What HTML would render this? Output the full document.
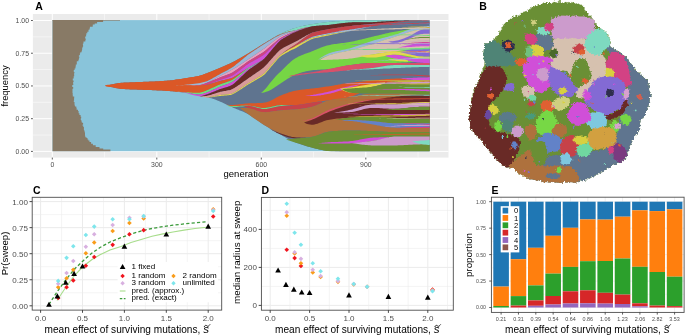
<!DOCTYPE html>
<html><head><meta charset="utf-8"><style>
html,body{margin:0;padding:0;background:#fff;}
svg{display:block;will-change:transform;}
text{font-family:"Liberation Sans", sans-serif;}
</style></head><body>
<svg width="685" height="335" viewBox="0 0 685 335">
<rect width="685" height="335" fill="#fff"/>
<rect x="32.90" y="14.00" width="415.60" height="143.60" fill="#EBEBEB"/>
<line x1="32.90" y1="135.04" x2="448.50" y2="135.04" stroke="#fff" stroke-width="0.5"/>
<line x1="32.90" y1="102.31" x2="448.50" y2="102.31" stroke="#fff" stroke-width="0.5"/>
<line x1="32.90" y1="69.59" x2="448.50" y2="69.59" stroke="#fff" stroke-width="0.5"/>
<line x1="32.90" y1="36.86" x2="448.50" y2="36.86" stroke="#fff" stroke-width="0.5"/>
<line x1="104.55" y1="14.00" x2="104.55" y2="157.60" stroke="#fff" stroke-width="0.5"/>
<line x1="209.05" y1="14.00" x2="209.05" y2="157.60" stroke="#fff" stroke-width="0.5"/>
<line x1="313.55" y1="14.00" x2="313.55" y2="157.60" stroke="#fff" stroke-width="0.5"/>
<line x1="418.05" y1="14.00" x2="418.05" y2="157.60" stroke="#fff" stroke-width="0.5"/>
<line x1="32.90" y1="151.40" x2="448.50" y2="151.40" stroke="#fff" stroke-width="1.0"/>
<line x1="32.90" y1="118.68" x2="448.50" y2="118.68" stroke="#fff" stroke-width="1.0"/>
<line x1="32.90" y1="85.95" x2="448.50" y2="85.95" stroke="#fff" stroke-width="1.0"/>
<line x1="32.90" y1="53.22" x2="448.50" y2="53.22" stroke="#fff" stroke-width="1.0"/>
<line x1="32.90" y1="20.50" x2="448.50" y2="20.50" stroke="#fff" stroke-width="1.0"/>
<line x1="52.30" y1="14.00" x2="52.30" y2="157.60" stroke="#fff" stroke-width="1.0"/>
<line x1="156.80" y1="14.00" x2="156.80" y2="157.60" stroke="#fff" stroke-width="1.0"/>
<line x1="261.30" y1="14.00" x2="261.30" y2="157.60" stroke="#fff" stroke-width="1.0"/>
<line x1="365.80" y1="14.00" x2="365.80" y2="157.60" stroke="#fff" stroke-width="1.0"/>
<clipPath id="aclip"><rect x="52.3" y="20.1" width="377.4" height="131.3"/></clipPath><g clip-path="url(#aclip)">
<rect x="52.30" y="20.10" width="377.40" height="131.30" fill="#89C4DA"/>
<path d="M52.3 20.1 L103.1 20.1 L103.1 22.0 L97.1 22.0 L97.1 23.5 L94.7 23.5 L94.7 24.4 L92.8 24.4 L92.8 25.8 L92.7 25.8 L92.7 26.7 L89.9 26.7 L89.9 28.4 L89.5 28.4 L89.5 29.8 L88.5 29.8 L88.5 31.8 L87.3 31.8 L87.3 33.2 L86.3 33.2 L86.3 34.9 L86.1 34.9 L86.1 36.5 L85.2 36.5 L85.2 38.5 L85.7 38.5 L85.7 40.3 L85.3 40.3 L85.3 41.4 L83.5 41.4 L83.5 43.4 L82.9 43.4 L82.9 45.2 L83.1 45.2 L83.1 46.7 L82.6 46.7 L82.6 47.8 L82.2 47.8 L82.2 49.7 L82.0 49.7 L82.0 50.8 L81.6 50.8 L81.6 52.2 L80.3 52.2 L80.3 53.3 L79.9 53.3 L79.9 55.2 L78.9 55.2 L78.9 56.7 L79.5 56.7 L79.5 57.6 L79.1 57.6 L79.1 58.5 L78.9 58.5 L78.9 59.8 L78.4 59.8 L78.4 61.2 L76.8 61.2 L76.8 62.7 L76.8 62.7 L76.8 64.6 L75.8 64.6 L75.8 66.3 L75.6 66.3 L75.6 67.4 L75.4 67.4 L75.4 68.4 L74.6 68.4 L74.6 70.1 L73.8 70.1 L73.8 72.0 L74.4 72.0 L74.4 73.3 L74.1 73.3 L74.1 74.7 L74.2 74.7 L74.2 76.3 L73.7 76.3 L73.7 78.5 L72.8 78.5 L72.8 80.5 L73.6 80.5 L73.6 82.3 L73.0 82.3 L73.0 83.6 L73.3 83.6 L73.3 85.1 L72.3 85.1 L72.3 86.3 L72.3 86.3 L72.3 87.1 L73.2 87.1 L73.2 88.8 L72.5 88.8 L72.5 90.9 L72.5 90.9 L72.5 93.1 L72.7 93.1 L72.7 95.0 L72.8 95.0 L72.8 96.4 L74.2 96.4 L74.2 98.4 L74.0 98.4 L74.0 99.4 L74.1 99.4 L74.1 100.6 L73.8 100.6 L73.8 102.1 L74.5 102.1 L74.5 104.2 L74.6 104.2 L74.6 105.6 L75.0 105.6 L75.0 106.4 L76.3 106.4 L76.3 107.7 L76.6 107.7 L76.6 109.7 L78.0 109.7 L78.0 111.1 L78.6 111.1 L78.6 113.2 L79.4 113.2 L79.4 115.1 L80.6 115.1 L80.6 116.7 L81.2 116.7 L81.2 118.2 L80.8 118.2 L80.8 120.0 L81.3 120.0 L81.3 120.8 L81.6 120.8 L81.6 121.9 L81.8 121.9 L81.8 122.8 L83.1 122.8 L83.1 124.4 L82.6 124.4 L82.6 125.7 L83.3 125.7 L83.3 127.1 L83.9 127.1 L83.9 129.0 L83.9 129.0 L83.9 130.3 L84.4 130.3 L84.4 131.6 L84.8 131.6 L84.8 132.7 L85.0 132.7 L85.0 134.2 L85.0 134.2 L85.0 135.8 L85.3 135.8 L85.3 137.3 L86.5 137.3 L86.5 138.1 L87.5 138.1 L87.5 139.6 L88.3 139.6 L88.3 140.4 L89.5 140.4 L89.5 141.9 L91.1 141.9 L91.1 143.7 L92.9 143.7 L92.9 145.3 L95.7 145.3 L95.7 147.0 L99.5 147.0 L99.5 148.6 L103.2 148.6 L103.2 149.6 L110.4 149.6 L110.4 151.4 L52.3 151.4Z" fill="#887A66"/>
<rect x="52.30" y="20.10" width="67.70" height="0.60" fill="#887A66"/>
<path d="M104.8 85.8 L106.3 85.5 L107.8 85.2 L109.3 84.9 L110.8 84.6 L112.3 84.3 L113.8 83.9 L115.3 83.6 L116.8 83.3 L118.3 83.1 L119.8 82.9 L121.3 82.8 L122.8 82.7 L124.3 82.6 L125.8 82.5 L127.3 82.4 L128.8 82.4 L130.3 82.3 L131.8 82.3 L133.3 82.2 L134.8 82.2 L136.3 82.1 L137.8 82.0 L139.3 82.0 L140.8 81.9 L142.3 81.9 L143.8 81.8 L145.3 81.8 L146.8 81.7 L148.3 81.7 L149.8 81.6 L151.3 81.6 L152.8 81.5 L154.3 81.4 L155.8 81.3 L157.3 81.3 L158.8 81.2 L160.3 81.1 L161.8 81.0 L163.3 80.9 L164.8 80.8 L166.3 80.7 L167.8 80.6 L169.3 80.4 L170.8 80.3 L172.3 80.2 L173.8 80.0 L175.3 79.8 L176.8 79.6 L178.3 79.4 L179.8 79.2 L181.3 78.9 L182.8 78.7 L184.3 78.4 L185.8 78.2 L187.3 78.0 L188.8 77.7 L190.3 77.5 L191.8 77.3 L193.3 77.0 L194.8 76.8 L196.3 76.5 L197.8 76.2 L199.3 75.8 L200.8 75.4 L202.3 74.9 L203.8 74.4 L205.3 73.8 L206.8 73.3 L208.3 72.6 L209.8 72.0 L211.3 71.4 L212.8 70.8 L214.3 70.2 L215.8 69.5 L217.3 68.9 L218.8 68.3 L220.3 67.7 L221.8 67.0 L223.3 66.4 L224.8 65.7 L226.3 65.1 L227.8 64.4 L229.3 63.7 L230.8 63.0 L232.3 62.3 L233.8 61.5 L235.3 60.8 L236.8 60.0 L238.3 59.1 L239.8 58.3 L241.3 57.4 L242.8 56.6 L244.3 55.7 L245.8 54.8 L247.3 53.9 L248.8 53.0 L250.3 52.1 L251.8 51.2 L253.3 50.2 L254.8 49.3 L256.3 48.3 L257.8 47.4 L259.3 46.4 L260.8 45.5 L262.3 44.6 L263.8 43.6 L265.3 42.7 L266.8 41.8 L268.3 40.8 L269.8 39.9 L271.3 39.0 L272.8 38.1 L274.3 37.2 L275.8 36.3 L277.3 35.5 L278.8 34.7 L280.3 33.9 L281.8 33.2 L283.3 32.5 L284.8 31.8 L286.3 31.1 L287.8 30.5 L289.3 29.9 L290.8 29.4 L292.3 28.8 L293.8 28.3 L295.3 27.9 L296.8 27.4 L298.3 27.0 L299.8 26.7 L301.3 26.3 L302.8 26.0 L304.3 25.6 L305.8 25.3 L307.3 25.0 L308.8 24.8 L310.3 24.5 L311.8 24.2 L313.3 24.0 L314.8 23.8 L316.3 23.5 L317.8 23.3 L319.3 23.1 L320.8 22.9 L322.3 22.7 L323.8 22.5 L325.3 22.3 L326.8 22.1 L328.3 22.0 L329.8 21.8 L331.3 21.7 L332.8 21.6 L334.3 21.5 L335.8 21.4 L337.3 21.3 L338.8 21.2 L340.3 21.1 L341.8 21.0 L343.3 20.9 L344.8 20.9 L346.3 20.8 L347.8 20.8 L349.3 20.7 L350.8 20.7 L352.3 20.7 L353.8 20.6 L355.3 20.6 L356.8 20.6 L358.3 20.6 L359.8 20.5 L361.3 20.5 L362.8 20.5 L364.3 20.5 L365.8 20.5 L367.3 20.5 L368.8 20.5 L370.3 20.5 L371.8 20.5 L373.3 20.5 L374.8 20.5 L376.3 20.5 L377.8 20.5 L379.3 20.5 L380.8 20.5 L382.3 20.5 L383.8 20.5 L385.3 20.5 L386.8 20.5 L388.3 20.5 L389.8 20.5 L391.3 20.5 L392.8 20.5 L394.3 20.5 L395.8 20.5 L397.3 20.5 L398.8 20.5 L400.3 20.5 L401.8 20.5 L403.3 20.5 L404.8 20.5 L406.3 20.5 L407.8 20.5 L409.3 20.5 L410.8 20.5 L412.3 20.5 L413.8 20.5 L415.3 20.5 L416.8 20.5 L418.3 20.5 L419.8 20.5 L421.3 20.5 L422.8 20.5 L424.3 20.5 L425.8 20.5 L427.3 20.5 L428.8 20.5 L430.3 20.5 L430.8 20.5 L430.8 151.4 L430.3 151.4 L428.8 151.4 L427.3 151.4 L425.8 151.4 L424.3 151.4 L422.8 151.4 L421.3 151.4 L419.8 151.4 L418.3 151.4 L416.8 151.4 L415.3 151.4 L413.8 151.4 L412.3 151.4 L410.8 151.4 L409.3 151.4 L407.8 151.4 L406.3 151.4 L404.8 151.4 L403.3 151.4 L401.8 151.4 L400.3 151.4 L398.8 151.4 L397.3 151.4 L395.8 151.4 L394.3 151.4 L392.8 151.4 L391.3 151.4 L389.8 151.4 L388.3 151.4 L386.8 151.4 L385.3 151.4 L383.8 151.4 L382.3 151.4 L380.8 151.4 L379.3 151.4 L377.8 151.4 L376.3 151.4 L374.8 151.4 L373.3 151.4 L371.8 151.4 L370.3 151.4 L368.8 151.4 L367.3 151.4 L365.8 151.4 L364.3 151.4 L362.8 151.4 L361.3 151.4 L359.8 151.4 L358.3 151.4 L356.8 151.4 L355.3 151.4 L353.8 151.4 L352.3 151.4 L350.8 151.4 L349.3 151.4 L347.8 151.4 L346.3 151.4 L344.8 151.4 L343.3 151.4 L341.8 151.4 L340.3 151.4 L338.8 151.4 L337.3 151.4 L335.8 151.4 L334.3 151.3 L332.8 151.3 L331.3 151.2 L329.8 151.1 L328.3 151.0 L326.8 150.8 L325.3 150.6 L323.8 150.3 L322.3 150.0 L320.8 149.7 L319.3 149.4 L317.8 149.1 L316.3 148.8 L314.8 148.4 L313.3 148.0 L311.8 147.6 L310.3 147.2 L308.8 146.8 L307.3 146.4 L305.8 146.0 L304.3 145.5 L302.8 145.0 L301.3 144.6 L299.8 144.0 L298.3 143.5 L296.8 142.9 L295.3 142.3 L293.8 141.7 L292.3 141.0 L290.8 140.2 L289.3 139.5 L287.8 138.7 L286.3 137.9 L284.8 137.0 L283.3 136.2 L281.8 135.3 L280.3 134.5 L278.8 133.6 L277.3 132.8 L275.8 131.9 L274.3 131.1 L272.8 130.2 L271.3 129.3 L269.8 128.4 L268.3 127.5 L266.8 126.6 L265.3 125.7 L263.8 124.7 L262.3 123.7 L260.8 122.7 L259.3 121.6 L257.8 120.5 L256.3 119.5 L254.8 118.4 L253.3 117.4 L251.8 116.4 L250.3 115.5 L248.8 114.6 L247.3 113.8 L245.8 113.0 L244.3 112.3 L242.8 111.6 L241.3 111.0 L239.8 110.4 L238.3 109.8 L236.8 109.2 L235.3 108.5 L233.8 107.9 L232.3 107.3 L230.8 106.6 L229.3 105.9 L227.8 105.2 L226.3 104.4 L224.8 103.7 L223.3 103.0 L221.8 102.3 L220.3 101.7 L218.8 101.0 L217.3 100.4 L215.8 99.8 L214.3 99.3 L212.8 98.8 L211.3 98.3 L209.8 97.9 L208.3 97.5 L206.8 97.2 L205.3 96.9 L203.8 96.6 L202.3 96.3 L200.8 96.0 L199.3 95.7 L197.8 95.4 L196.3 95.1 L194.8 94.7 L193.3 94.3 L191.8 94.0 L190.3 93.6 L188.8 93.3 L187.3 93.1 L185.8 92.8 L184.3 92.6 L182.8 92.4 L181.3 92.2 L179.8 92.0 L178.3 91.8 L176.8 91.7 L175.3 91.5 L173.8 91.4 L172.3 91.3 L170.8 91.2 L169.3 91.1 L167.8 91.0 L166.3 90.9 L164.8 90.8 L163.3 90.7 L161.8 90.6 L160.3 90.6 L158.8 90.5 L157.3 90.4 L155.8 90.3 L154.3 90.3 L152.8 90.2 L151.3 90.1 L149.8 90.1 L148.3 90.0 L146.8 90.0 L145.3 89.9 L143.8 89.9 L142.3 89.8 L140.8 89.8 L139.3 89.7 L137.8 89.7 L136.3 89.6 L134.8 89.5 L133.3 89.5 L131.8 89.4 L130.3 89.4 L128.8 89.3 L127.3 89.3 L125.8 89.2 L124.3 89.1 L122.8 89.0 L121.3 88.9 L119.8 88.8 L118.3 88.6 L116.8 88.3 L115.3 88.0 L113.8 87.7 L112.3 87.3 L110.8 86.9 L109.3 86.6 L107.8 86.3 L106.3 86.0 L104.8 85.8Z" fill="#5F748F"/>
<path d="M104.8 85.8 L106.3 85.0 L107.8 84.8 L109.3 84.7 L110.8 84.5 L112.3 84.2 L113.8 84.0 L115.3 83.7 L116.8 83.4 L118.3 83.1 L119.8 82.9 L121.3 82.8 L122.8 82.7 L124.3 82.6 L125.8 82.5 L127.3 82.4 L128.8 82.4 L130.3 82.3 L131.8 82.3 L133.3 82.2 L134.8 82.2 L136.3 82.1 L137.8 82.0 L139.3 82.0 L140.8 81.9 L142.3 81.9 L143.8 81.8 L145.3 81.8 L146.8 81.7 L148.3 81.7 L149.8 81.6 L151.3 81.6 L152.8 81.5 L154.3 81.4 L155.8 81.3 L157.3 81.3 L158.8 81.2 L160.3 81.1 L161.8 81.0 L163.3 80.9 L164.8 80.8 L166.3 80.7 L167.8 80.6 L169.3 80.4 L170.8 80.3 L172.3 80.2 L173.8 80.0 L175.3 79.8 L176.8 79.6 L178.3 79.4 L179.8 79.2 L181.3 78.9 L182.8 78.7 L184.3 78.4 L185.8 78.2 L187.3 78.0 L188.8 77.7 L190.3 77.5 L191.8 77.3 L193.3 77.1 L194.8 76.8 L196.3 76.5 L197.8 76.2 L199.3 75.8 L200.8 75.5 L202.3 75.0 L203.8 74.5 L205.3 73.8 L205.8 73.6 L205.8 94.0 L205.3 94.0 L203.8 94.0 L202.3 94.0 L200.8 94.0 L199.3 93.9 L197.8 93.9 L196.3 93.8 L194.8 93.6 L193.3 93.5 L191.8 93.3 L190.3 93.1 L188.8 93.0 L187.3 92.8 L185.8 92.6 L184.3 92.4 L182.8 92.3 L181.3 92.1 L179.8 92.0 L178.3 91.8 L176.8 91.7 L175.3 91.5 L173.8 91.4 L172.3 91.3 L170.8 91.2 L169.3 91.1 L167.8 91.0 L166.3 90.9 L164.8 90.8 L163.3 90.7 L161.8 90.6 L160.3 90.6 L158.8 90.5 L157.3 90.4 L155.8 90.3 L154.3 90.3 L152.8 90.2 L151.3 90.1 L149.8 90.1 L148.3 90.0 L146.8 90.0 L145.3 89.9 L143.8 89.9 L142.3 89.8 L140.8 89.8 L139.3 89.7 L137.8 89.7 L136.3 89.6 L134.8 89.5 L133.3 89.5 L131.8 89.4 L130.3 89.4 L128.8 89.3 L127.3 89.3 L125.8 89.2 L124.3 89.1 L122.8 89.0 L121.3 88.9 L119.8 88.8 L118.3 88.6 L116.8 88.3 L115.3 88.0 L113.8 87.6 L112.3 87.3 L110.8 87.1 L109.3 86.9 L107.8 86.7 L106.3 86.6 L104.8 85.8Z" fill="#DB5827"/>
<path d="M267.0 41.64 L268.0 41.02 L269.0 40.39 L270.0 39.77 L271.0 39.15 L272.0 38.53 L273.0 37.92 L274.0 37.32 L275.0 36.73 L276.0 36.16 L277.0 35.60 L278.0 35.05 L279.0 34.53 L280.0 34.02 L281.0 33.53 L282.0 33.05 L283.0 32.59 L284.0 32.13 L285.0 31.69 L286.0 31.25 L287.0 30.83 L288.0 30.42 L289.0 30.02 L290.0 29.63 L291.0 29.25 L292.0 28.90 L293.0 28.55 L294.0 28.23 L295.0 27.92 L296.0 27.63 L297.0 27.35 L298.0 27.09 L299.0 26.83 L300.0 26.59 L301.0 26.35 L302.0 26.12 L303.0 25.90 L304.0 25.69 L305.0 25.48 L306.0 25.28 L307.0 25.09 L308.0 24.90 L309.0 24.72 L310.0 24.55 L311.0 24.37 L312.0 24.21 L313.0 24.04 L314.0 23.88 L315.0 23.72 L316.0 23.56 L317.0 23.40 L318.0 23.25 L319.0 23.10 L320.0 22.96 L321.0 22.82 L322.0 22.68 L323.0 22.55 L324.0 22.42 L325.0 22.31 L326.0 22.19 L327.0 22.09 L328.0 21.99 L329.0 21.90 L330.0 21.81 L331.0 21.73 L332.0 21.65 L333.0 21.57 L334.0 21.50 L335.0 21.43 L336.0 21.36 L337.0 21.30 L338.0 21.23 L339.0 21.17 L340.0 21.11 L341.0 21.06 L342.0 21.00 L343.0 20.95 L344.0 20.91 L345.0 20.86 L346.0 20.83 L347.0 20.79 L348.0 20.76 L349.0 20.73 L350.0 20.70 L351.0 20.68 L352.0 20.66 L353.0 20.64 L354.0 20.62 L355.0 20.60 L356.0 20.59 L357.0 20.57 L358.0 20.56 L359.0 20.54 L360.0 20.53 L361.0 20.52 L362.0 20.51 L363.0 20.51 L364.0 20.50 L365.0 20.50 L366.0 20.50 L367.0 20.50 L368.0 20.50 L369.0 20.50 L370.0 20.50 L371.0 20.50 L372.0 20.50 L373.0 20.50 L374.0 20.50 L375.0 20.50 L376.0 20.50 L377.0 20.50 L378.0 20.50 L379.0 20.50 L380.0 20.50 L381.0 20.50 L382.0 20.50 L383.0 20.50 L384.0 20.50 L385.0 20.50 L386.0 20.50 L387.0 20.50 L388.0 20.50 L389.0 20.50 L390.0 20.50 L391.0 20.50 L392.0 20.50 L393.0 20.50 L394.0 20.50 L395.0 20.50 L396.0 20.50 L397.0 20.50 L398.0 20.50 L399.0 20.50 L400.0 20.50 L401.0 20.50 L402.0 20.50 L403.0 20.50 L404.0 20.50 L405.0 20.50 L406.0 20.50 L407.0 20.50 L407.5 20.50 L407.5 20.55 L407.0 20.56 L406.0 20.58 L405.0 20.60 L404.0 20.62 L403.0 20.64 L402.0 20.66 L401.0 20.68 L400.0 20.70 L399.0 20.72 L398.0 20.74 L397.0 20.76 L396.0 20.79 L395.0 20.82 L394.0 20.87 L393.0 20.92 L392.0 20.98 L391.0 21.04 L390.0 21.10 L389.0 21.17 L388.0 21.23 L387.0 21.29 L386.0 21.35 L385.0 21.41 L384.0 21.47 L383.0 21.53 L382.0 21.59 L381.0 21.65 L380.0 21.71 L379.0 21.77 L378.0 21.83 L377.0 21.90 L376.0 21.96 L375.0 22.02 L374.0 22.07 L373.0 22.13 L372.0 22.16 L371.0 22.19 L370.0 22.20 L369.0 22.20 L368.0 22.20 L367.0 22.20 L366.0 22.20 L365.0 22.20 L364.0 22.20 L363.0 22.21 L362.0 22.21 L361.0 22.22 L360.0 22.23 L359.0 22.24 L358.0 22.26 L357.0 22.27 L356.0 22.29 L355.0 22.30 L354.0 22.32 L353.0 22.34 L352.0 22.36 L351.0 22.40 L350.0 22.44 L349.0 22.51 L348.0 22.59 L347.0 22.68 L346.0 22.78 L345.0 22.88 L344.0 22.99 L343.0 23.10 L342.0 23.21 L341.0 23.33 L340.0 23.45 L339.0 23.57 L338.0 23.70 L337.0 23.82 L336.0 23.95 L335.0 24.09 L334.0 24.22 L333.0 24.36 L332.0 24.50 L331.0 24.64 L330.0 24.77 L329.0 24.90 L328.0 25.01 L327.0 25.10 L326.0 25.16 L325.0 25.22 L324.0 25.27 L323.0 25.34 L322.0 25.40 L321.0 25.48 L320.0 25.56 L319.0 25.64 L318.0 25.73 L317.0 25.82 L316.0 25.91 L315.0 26.01 L314.0 26.11 L313.0 26.22 L312.0 26.36 L311.0 26.53 L310.0 26.71 L309.0 26.92 L308.0 27.13 L307.0 27.35 L306.0 27.57 L305.0 27.80 L304.0 28.04 L303.0 28.28 L302.0 28.53 L301.0 28.79 L300.0 29.06 L299.0 29.34 L298.0 29.61 L297.0 29.88 L296.0 30.13 L295.0 30.34 L294.0 30.53 L293.0 30.72 L292.0 30.92 L291.0 31.14 L290.0 31.37 L289.0 31.61 L288.0 31.87 L287.0 32.14 L286.0 32.42 L285.0 32.71 L284.0 33.01 L283.0 33.32 L282.0 33.65 L281.0 34.00 L280.0 34.39 L279.0 34.84 L278.0 35.32 L277.0 35.84 L276.0 36.38 L275.0 36.94 L274.0 37.51 L273.0 38.09 L272.0 38.68 L271.0 39.28 L270.0 39.88 L269.0 40.49 L268.0 41.09 L267.0 41.70Z" fill="#7EDAC0"/>
<path d="M175.0 79.80 L176.0 79.72 L177.0 79.61 L178.0 79.47 L179.0 79.32 L180.0 79.16 L181.0 78.99 L182.0 78.82 L183.0 78.65 L184.0 78.48 L185.0 78.31 L186.0 78.15 L187.0 78.00 L188.0 77.85 L189.0 77.70 L190.0 77.56 L191.0 77.41 L192.0 77.26 L193.0 77.11 L194.0 76.95 L195.0 76.79 L196.0 76.61 L197.0 76.42 L198.0 76.21 L199.0 75.98 L200.0 75.73 L201.0 75.44 L202.0 75.11 L203.0 74.75 L204.0 74.37 L205.0 73.96 L206.0 73.55 L207.0 73.13 L208.0 72.72 L209.0 72.31 L210.0 71.90 L211.0 71.50 L212.0 71.10 L213.0 70.69 L214.0 70.29 L215.0 69.88 L216.0 69.47 L217.0 69.05 L218.0 68.64 L219.0 68.22 L220.0 67.80 L221.0 67.38 L222.0 66.95 L223.0 66.53 L224.0 66.10 L225.0 65.67 L226.0 65.24 L227.0 64.80 L228.0 64.35 L229.0 63.90 L230.0 63.44 L231.0 62.96 L232.0 62.47 L233.0 61.98 L234.0 61.47 L235.0 60.94 L236.0 60.41 L237.0 59.87 L238.0 59.32 L239.0 58.76 L240.0 58.19 L241.0 57.61 L242.0 57.03 L243.0 56.45 L244.0 55.86 L245.0 55.27 L246.0 54.68 L247.0 54.09 L248.0 53.49 L249.0 52.89 L250.0 52.28 L251.0 51.67 L252.0 51.05 L253.0 50.42 L254.0 49.79 L255.0 49.16 L256.0 48.53 L257.0 47.89 L258.0 47.26 L259.0 46.62 L260.0 45.99 L261.0 45.36 L262.0 44.74 L263.0 44.12 L264.0 43.51 L265.0 42.90 L266.0 42.30 L267.0 41.70 L268.0 41.09 L269.0 40.49 L270.0 39.88 L271.0 39.28 L272.0 38.68 L273.0 38.09 L274.0 37.51 L275.0 36.94 L276.0 36.38 L277.0 35.84 L278.0 35.32 L279.0 34.84 L280.0 34.39 L281.0 34.00 L282.0 33.65 L283.0 33.32 L284.0 33.01 L285.0 32.71 L286.0 32.42 L287.0 32.14 L288.0 31.87 L289.0 31.61 L290.0 31.37 L291.0 31.14 L292.0 30.92 L293.0 30.72 L294.0 30.53 L295.0 30.34 L296.0 30.13 L297.0 29.88 L298.0 29.61 L299.0 29.34 L300.0 29.06 L301.0 28.79 L302.0 28.53 L303.0 28.28 L304.0 28.04 L305.0 27.80 L306.0 27.57 L307.0 27.35 L308.0 27.13 L308.0 27.18 L307.0 27.41 L306.0 27.65 L305.0 27.89 L304.0 28.14 L303.0 28.40 L302.0 28.66 L301.0 28.93 L300.0 29.21 L299.0 29.50 L298.0 29.79 L297.0 30.07 L296.0 30.33 L295.0 30.57 L294.0 30.78 L293.0 31.00 L292.0 31.22 L291.0 31.46 L290.0 31.72 L289.0 31.98 L288.0 32.27 L287.0 32.56 L286.0 32.87 L285.0 33.18 L284.0 33.51 L283.0 33.85 L282.0 34.20 L281.0 34.57 L280.0 34.98 L279.0 35.43 L278.0 35.92 L277.0 36.44 L276.0 36.98 L275.0 37.54 L274.0 38.11 L273.0 38.69 L272.0 39.28 L271.0 39.88 L270.0 40.48 L269.0 41.09 L268.0 41.69 L267.0 42.30 L266.0 42.90 L265.0 43.51 L264.0 44.13 L263.0 44.77 L262.0 45.42 L261.0 46.08 L260.0 46.74 L259.0 47.41 L258.0 48.08 L257.0 48.75 L256.0 49.43 L255.0 50.10 L254.0 50.77 L253.0 51.44 L252.0 52.10 L251.0 52.76 L250.0 53.42 L249.0 54.10 L248.0 54.82 L247.0 55.59 L246.0 56.40 L245.0 57.23 L244.0 58.06 L243.0 58.90 L242.0 59.73 L241.0 60.56 L240.0 61.39 L239.0 62.21 L238.0 63.02 L237.0 63.82 L236.0 64.61 L235.0 65.39 L234.0 66.16 L233.0 66.89 L232.0 67.58 L231.0 68.22 L230.0 68.81 L229.0 69.37 L228.0 69.92 L227.0 70.46 L226.0 70.99 L225.0 71.52 L224.0 72.04 L223.0 72.56 L222.0 73.07 L221.0 73.60 L220.0 74.14 L219.0 74.69 L218.0 75.26 L217.0 75.83 L216.0 76.40 L215.0 76.97 L214.0 77.54 L213.0 78.10 L212.0 78.66 L211.0 79.22 L210.0 79.77 L209.0 80.29 L208.0 80.75 L207.0 81.14 L206.0 81.48 L205.0 81.78 L204.0 82.07 L203.0 82.33 L202.0 82.57 L201.0 82.78 L200.0 82.97 L199.0 83.15 L198.0 83.32 L197.0 83.48 L196.0 83.62 L195.0 83.75 L194.0 83.87 L193.0 83.99 L192.0 84.09 L191.0 84.19 L190.0 84.29 L189.0 84.39 L188.0 84.49 L187.0 84.59 L186.0 84.70 L185.0 84.80 L184.0 84.90 L183.0 85.01 L182.0 85.11 L181.0 85.21 L180.0 85.31 L179.0 85.40 L178.0 85.48 L177.0 85.55 L176.0 85.60 L175.0 85.64Z" fill="#DB5827"/>
<path d="M176.0 85.60 L177.0 85.55 L178.0 85.48 L179.0 85.40 L180.0 85.31 L181.0 85.21 L182.0 85.11 L183.0 85.01 L184.0 84.90 L185.0 84.80 L186.0 84.70 L187.0 84.59 L188.0 84.49 L189.0 84.39 L190.0 84.29 L191.0 84.19 L192.0 84.09 L193.0 83.99 L194.0 83.87 L195.0 83.75 L196.0 83.62 L197.0 83.48 L198.0 83.32 L199.0 83.15 L200.0 82.97 L201.0 82.78 L202.0 82.57 L203.0 82.33 L204.0 82.07 L205.0 81.78 L206.0 81.48 L207.0 81.14 L208.0 80.75 L209.0 80.29 L210.0 79.77 L211.0 79.22 L212.0 78.66 L213.0 78.10 L214.0 77.54 L215.0 76.97 L216.0 76.40 L217.0 75.83 L218.0 75.26 L219.0 74.69 L220.0 74.14 L221.0 73.60 L222.0 73.07 L223.0 72.56 L224.0 72.04 L225.0 71.52 L226.0 70.99 L227.0 70.46 L228.0 69.92 L229.0 69.37 L230.0 68.81 L231.0 68.22 L232.0 67.58 L233.0 66.89 L234.0 66.16 L235.0 65.39 L236.0 64.61 L237.0 63.82 L238.0 63.02 L239.0 62.21 L240.0 61.39 L241.0 60.56 L242.0 59.73 L243.0 58.90 L244.0 58.06 L245.0 57.23 L246.0 56.40 L247.0 55.59 L248.0 54.82 L249.0 54.10 L250.0 53.42 L251.0 52.76 L252.0 52.10 L253.0 51.44 L254.0 50.77 L255.0 50.10 L256.0 49.43 L257.0 48.75 L258.0 48.08 L259.0 47.41 L260.0 46.74 L261.0 46.08 L262.0 45.42 L263.0 44.77 L264.0 44.13 L265.0 43.51 L266.0 42.90 L267.0 42.30 L268.0 41.69 L269.0 41.09 L270.0 40.48 L271.0 39.88 L272.0 39.28 L273.0 38.69 L274.0 38.11 L275.0 37.54 L276.0 36.98 L277.0 36.44 L278.0 35.92 L279.0 35.43 L280.0 34.98 L281.0 34.57 L282.0 34.20 L283.0 33.85 L284.0 33.51 L285.0 33.18 L286.0 32.87 L287.0 32.56 L288.0 32.27 L289.0 31.98 L290.0 31.72 L291.0 31.46 L292.0 31.22 L293.0 31.00 L294.0 30.78 L295.0 30.57 L296.0 30.33 L297.0 30.07 L298.0 29.79 L299.0 29.50 L300.0 29.21 L301.0 28.93 L302.0 28.66 L303.0 28.40 L304.0 28.14 L305.0 27.89 L306.0 27.65 L307.0 27.41 L308.0 27.18 L309.0 26.96 L309.0 27.01 L308.0 27.26 L307.0 27.50 L306.0 27.76 L305.0 28.02 L304.0 28.29 L303.0 28.56 L302.0 28.85 L301.0 29.14 L300.0 29.44 L299.0 29.74 L298.0 30.06 L297.0 30.37 L296.0 30.67 L295.0 30.97 L294.0 31.26 L293.0 31.56 L292.0 31.87 L291.0 32.20 L290.0 32.54 L289.0 32.90 L288.0 33.27 L287.0 33.65 L286.0 34.04 L285.0 34.45 L284.0 34.86 L283.0 35.28 L282.0 35.73 L281.0 36.20 L280.0 36.74 L279.0 37.33 L278.0 37.99 L277.0 38.69 L276.0 39.41 L275.0 40.15 L274.0 40.90 L273.0 41.66 L272.0 42.43 L271.0 43.21 L270.0 43.99 L269.0 44.78 L268.0 45.57 L267.0 46.35 L266.0 47.13 L265.0 47.89 L264.0 48.63 L263.0 49.34 L262.0 50.03 L261.0 50.71 L260.0 51.39 L259.0 52.07 L258.0 52.76 L257.0 53.44 L256.0 54.13 L255.0 54.81 L254.0 55.49 L253.0 56.17 L252.0 56.85 L251.0 57.52 L250.0 58.18 L249.0 58.85 L248.0 59.51 L247.0 60.18 L246.0 60.85 L245.0 61.52 L244.0 62.19 L243.0 62.86 L242.0 63.52 L241.0 64.18 L240.0 64.84 L239.0 65.49 L238.0 66.13 L237.0 66.76 L236.0 67.39 L235.0 68.00 L234.0 68.60 L233.0 69.19 L232.0 69.77 L231.0 70.32 L230.0 70.87 L229.0 71.40 L228.0 71.92 L227.0 72.43 L226.0 72.94 L225.0 73.44 L224.0 73.94 L223.0 74.43 L222.0 74.92 L221.0 75.42 L220.0 75.94 L219.0 76.47 L218.0 77.01 L217.0 77.55 L216.0 78.10 L215.0 78.64 L214.0 79.19 L213.0 79.73 L212.0 80.26 L211.0 80.80 L210.0 81.33 L209.0 81.84 L208.0 82.32 L207.0 82.75 L206.0 83.16 L205.0 83.55 L204.0 83.92 L203.0 84.26 L202.0 84.58 L201.0 84.85 L200.0 85.05 L199.0 85.19 L198.0 85.28 L197.0 85.34 L196.0 85.37 L195.0 85.39 L194.0 85.39 L193.0 85.39 L192.0 85.38 L191.0 85.37 L190.0 85.36 L189.0 85.34 L188.0 85.33 L187.0 85.32 L186.0 85.32 L185.0 85.34 L184.0 85.37 L183.0 85.41 L182.0 85.46 L181.0 85.51 L180.0 85.56 L179.0 85.60 L178.0 85.63 L177.0 85.65 L176.0 85.66Z" fill="#9AB8D8"/>
<path d="M208.0 82.32 L209.0 81.84 L210.0 81.33 L211.0 80.80 L212.0 80.26 L213.0 79.73 L214.0 79.19 L215.0 78.64 L216.0 78.10 L217.0 77.55 L218.0 77.01 L219.0 76.47 L220.0 75.94 L221.0 75.42 L222.0 74.92 L223.0 74.43 L224.0 73.94 L225.0 73.44 L226.0 72.94 L227.0 72.43 L228.0 71.92 L229.0 71.40 L230.0 70.87 L231.0 70.32 L232.0 69.77 L233.0 69.19 L234.0 68.60 L235.0 68.00 L236.0 67.39 L237.0 66.76 L238.0 66.13 L239.0 65.49 L240.0 64.84 L241.0 64.18 L242.0 63.52 L243.0 62.86 L244.0 62.19 L245.0 61.52 L246.0 60.85 L247.0 60.18 L248.0 59.51 L249.0 58.85 L250.0 58.18 L251.0 57.52 L252.0 56.85 L253.0 56.17 L254.0 55.49 L255.0 54.81 L256.0 54.13 L257.0 53.44 L258.0 52.76 L259.0 52.07 L260.0 51.39 L261.0 50.71 L262.0 50.03 L263.0 49.34 L264.0 48.63 L265.0 47.89 L266.0 47.13 L267.0 46.35 L268.0 45.57 L269.0 44.78 L270.0 43.99 L271.0 43.21 L272.0 42.43 L273.0 41.66 L274.0 40.90 L275.0 40.15 L276.0 39.41 L277.0 38.69 L278.0 37.99 L279.0 37.33 L280.0 36.74 L281.0 36.20 L282.0 35.73 L283.0 35.28 L284.0 34.86 L285.0 34.45 L286.0 34.04 L287.0 33.65 L288.0 33.27 L289.0 32.90 L290.0 32.54 L291.0 32.20 L292.0 31.87 L293.0 31.56 L294.0 31.26 L295.0 30.97 L296.0 30.67 L297.0 30.37 L298.0 30.06 L299.0 29.74 L300.0 29.44 L301.0 29.14 L302.0 28.85 L303.0 28.56 L304.0 28.29 L305.0 28.02 L306.0 27.76 L307.0 27.50 L308.0 27.26 L309.0 27.01 L309.0 27.07 L308.0 27.33 L307.0 27.60 L306.0 27.87 L305.0 28.15 L304.0 28.44 L303.0 28.73 L302.0 29.03 L301.0 29.34 L300.0 29.66 L299.0 29.99 L298.0 30.32 L297.0 30.67 L296.0 31.02 L295.0 31.38 L294.0 31.75 L293.0 32.14 L292.0 32.55 L291.0 32.97 L290.0 33.40 L289.0 33.85 L288.0 34.32 L287.0 34.79 L286.0 35.28 L285.0 35.78 L284.0 36.29 L283.0 36.80 L282.0 37.34 L281.0 37.91 L280.0 38.53 L279.0 39.22 L278.0 39.96 L277.0 40.75 L276.0 41.56 L275.0 42.38 L274.0 43.22 L273.0 44.07 L272.0 44.93 L271.0 45.80 L270.0 46.67 L269.0 47.54 L268.0 48.42 L267.0 49.29 L266.0 50.15 L265.0 50.97 L264.0 51.73 L263.0 52.42 L262.0 53.06 L261.0 53.67 L260.0 54.26 L259.0 54.87 L258.0 55.47 L257.0 56.07 L256.0 56.68 L255.0 57.28 L254.0 57.88 L253.0 58.48 L252.0 59.07 L251.0 59.66 L250.0 60.26 L249.0 60.86 L248.0 61.50 L247.0 62.19 L246.0 62.91 L245.0 63.65 L244.0 64.39 L243.0 65.13 L242.0 65.87 L241.0 66.61 L240.0 67.34 L239.0 68.06 L238.0 68.78 L237.0 69.49 L236.0 70.19 L235.0 70.87 L234.0 71.54 L233.0 72.17 L232.0 72.74 L231.0 73.24 L230.0 73.69 L229.0 74.10 L228.0 74.49 L227.0 74.87 L226.0 75.24 L225.0 75.61 L224.0 75.97 L223.0 76.33 L222.0 76.69 L221.0 77.06 L220.0 77.44 L219.0 77.84 L218.0 78.26 L217.0 78.68 L216.0 79.10 L215.0 79.52 L214.0 79.94 L213.0 80.35 L212.0 80.76 L211.0 81.18 L210.0 81.58 L209.0 81.99 L208.0 82.39Z" fill="#E8A0C0"/>
<path d="M186.5 85.32 L187.5 85.33 L188.5 85.34 L189.5 85.35 L190.5 85.37 L191.5 85.38 L192.5 85.39 L193.5 85.39 L194.5 85.39 L195.5 85.38 L196.5 85.35 L197.5 85.31 L198.5 85.24 L199.5 85.13 L200.5 84.96 L201.5 84.72 L202.5 84.43 L203.5 84.09 L204.5 83.73 L205.5 83.36 L206.5 82.98 L207.5 82.59 L208.5 82.19 L209.5 81.79 L210.5 81.38 L211.5 80.97 L212.5 80.56 L213.5 80.14 L214.5 79.73 L215.5 79.31 L216.5 78.89 L217.5 78.47 L218.5 78.05 L219.5 77.64 L220.5 77.25 L221.5 76.87 L222.5 76.51 L223.5 76.15 L224.5 75.79 L225.5 75.42 L226.5 75.05 L227.5 74.68 L228.5 74.29 L229.5 73.90 L230.5 73.47 L231.5 73.00 L232.5 72.47 L233.5 71.86 L234.5 71.21 L235.5 70.53 L236.5 69.84 L237.5 69.13 L238.5 68.42 L239.5 67.70 L240.5 66.97 L241.5 66.24 L242.5 65.50 L243.5 64.76 L244.5 64.02 L245.5 63.28 L246.5 62.54 L247.5 61.84 L248.5 61.18 L249.5 60.56 L250.5 59.96 L251.5 59.37 L252.5 58.78 L253.5 58.18 L254.5 57.58 L255.5 56.98 L256.5 56.37 L257.5 55.77 L258.5 55.17 L259.5 54.56 L260.5 53.97 L261.5 53.36 L262.5 52.75 L263.5 52.09 L264.5 51.36 L265.5 50.56 L266.5 49.72 L267.5 48.85 L268.5 47.98 L269.5 47.10 L270.5 46.23 L271.5 45.36 L272.5 44.50 L273.5 43.65 L274.5 42.80 L275.5 41.97 L276.5 41.15 L277.5 40.35 L278.5 39.59 L279.5 38.87 L280.5 38.21 L281.5 37.62 L282.5 37.07 L283.5 36.54 L284.5 36.03 L285.5 35.53 L286.5 35.03 L287.5 34.55 L288.5 34.08 L289.5 33.63 L290.5 33.18 L291.5 32.75 L292.5 32.34 L293.5 31.95 L294.5 31.57 L295.5 31.20 L296.5 30.84 L297.5 30.49 L298.5 30.15 L299.5 29.82 L300.5 29.50 L301.5 29.19 L302.5 28.88 L303.5 28.59 L304.5 28.30 L305.5 28.01 L306.5 27.73 L307.5 27.46 L308.5 27.20 L309.5 26.94 L310.0 26.82 L310.0 26.87 L309.5 27.00 L308.5 27.29 L307.5 27.58 L306.5 27.87 L305.5 28.17 L304.5 28.48 L303.5 28.80 L302.5 29.12 L301.5 29.45 L300.5 29.79 L299.5 30.14 L298.5 30.49 L297.5 30.86 L296.5 31.23 L295.5 31.62 L294.5 32.02 L293.5 32.44 L292.5 32.87 L291.5 33.32 L290.5 33.79 L289.5 34.27 L288.5 34.76 L287.5 35.27 L286.5 35.79 L285.5 36.32 L284.5 36.86 L283.5 37.41 L282.5 37.98 L281.5 38.57 L280.5 39.23 L279.5 39.97 L278.5 40.79 L277.5 41.68 L276.5 42.61 L275.5 43.56 L274.5 44.52 L273.5 45.50 L272.5 46.48 L271.5 47.48 L270.5 48.48 L269.5 49.48 L268.5 50.49 L267.5 51.49 L266.5 52.49 L265.5 53.45 L264.5 54.33 L263.5 55.11 L262.5 55.77 L261.5 56.37 L260.5 56.93 L259.5 57.50 L258.5 58.06 L257.5 58.63 L256.5 59.19 L255.5 59.76 L254.5 60.32 L253.5 60.89 L252.5 61.45 L251.5 62.00 L250.5 62.56 L249.5 63.12 L248.5 63.72 L247.5 64.39 L246.5 65.11 L245.5 65.87 L244.5 66.65 L243.5 67.43 L242.5 68.21 L241.5 68.98 L240.5 69.75 L239.5 70.52 L238.5 71.28 L237.5 72.03 L236.5 72.77 L235.5 73.50 L234.5 74.21 L233.5 74.89 L232.5 75.51 L231.5 76.04 L230.5 76.49 L229.5 76.87 L228.5 77.22 L227.5 77.55 L226.5 77.88 L225.5 78.20 L224.5 78.51 L223.5 78.83 L222.5 79.14 L221.5 79.45 L220.5 79.78 L219.5 80.14 L218.5 80.51 L217.5 80.91 L216.5 81.30 L215.5 81.70 L214.5 82.09 L213.5 82.48 L212.5 82.87 L211.5 83.26 L210.5 83.64 L209.5 84.00 L208.5 84.33 L207.5 84.61 L206.5 84.83 L205.5 85.02 L204.5 85.19 L203.5 85.34 L202.5 85.46 L201.5 85.56 L200.5 85.63 L199.5 85.68 L198.5 85.72 L197.5 85.74 L196.5 85.74 L195.5 85.73 L194.5 85.71 L193.5 85.68 L192.5 85.64 L191.5 85.60 L190.5 85.55 L189.5 85.50 L188.5 85.45 L187.5 85.41 L186.5 85.38Z" fill="#D24284"/>
<path d="M208.5 84.33 L209.5 84.00 L210.5 83.64 L211.5 83.26 L212.5 82.87 L213.5 82.48 L214.5 82.09 L215.5 81.70 L216.5 81.30 L217.5 80.91 L218.5 80.51 L219.5 80.14 L220.5 79.78 L221.5 79.45 L222.5 79.14 L223.5 78.83 L224.5 78.51 L225.5 78.20 L226.5 77.88 L227.5 77.55 L228.5 77.22 L229.5 76.87 L230.5 76.49 L231.5 76.04 L232.5 75.51 L233.5 74.89 L234.5 74.21 L235.5 73.50 L236.5 72.77 L237.5 72.03 L238.5 71.28 L239.5 70.52 L240.5 69.75 L241.5 68.98 L242.5 68.21 L243.5 67.43 L244.5 66.65 L245.5 65.87 L246.5 65.11 L247.5 64.39 L248.5 63.72 L249.5 63.12 L250.5 62.56 L251.5 62.00 L252.5 61.45 L253.5 60.89 L254.5 60.32 L255.5 59.76 L256.5 59.19 L257.5 58.63 L258.5 58.06 L259.5 57.50 L260.5 56.93 L261.5 56.37 L262.5 55.77 L263.5 55.11 L264.5 54.33 L265.5 53.45 L266.5 52.49 L267.5 51.49 L268.5 50.49 L269.5 49.48 L270.5 48.48 L271.5 47.48 L272.5 46.48 L273.5 45.50 L274.5 44.52 L275.5 43.56 L276.5 42.61 L277.5 41.68 L278.5 40.79 L279.5 39.97 L280.5 39.23 L281.5 38.57 L282.5 37.98 L283.5 37.41 L284.5 36.86 L285.5 36.32 L286.5 35.79 L287.5 35.27 L288.5 34.76 L289.5 34.27 L290.5 33.79 L291.5 33.32 L292.5 32.87 L293.5 32.44 L294.5 32.02 L295.5 31.62 L296.5 31.23 L297.5 30.86 L298.5 30.49 L299.5 30.14 L300.5 29.79 L301.5 29.45 L302.5 29.12 L303.5 28.80 L304.5 28.48 L305.5 28.17 L306.5 27.87 L307.5 27.58 L308.5 27.29 L309.0 27.14 L309.0 27.20 L308.5 27.35 L307.5 27.66 L306.5 27.98 L305.5 28.30 L304.5 28.62 L303.5 28.96 L302.5 29.30 L301.5 29.65 L300.5 30.00 L299.5 30.37 L298.5 30.75 L297.5 31.13 L296.5 31.54 L295.5 31.96 L294.5 32.40 L293.5 32.87 L292.5 33.35 L291.5 33.85 L290.5 34.36 L289.5 34.89 L288.5 35.44 L287.5 36.00 L286.5 36.57 L285.5 37.15 L284.5 37.74 L283.5 38.34 L282.5 38.96 L281.5 39.62 L280.5 40.36 L279.5 41.22 L278.5 42.20 L277.5 43.27 L276.5 44.39 L275.5 45.53 L274.5 46.69 L273.5 47.86 L272.5 49.04 L271.5 50.23 L270.5 51.42 L269.5 52.62 L268.5 53.82 L267.5 55.01 L266.5 56.20 L265.5 57.33 L264.5 58.36 L263.5 59.22 L262.5 59.93 L261.5 60.53 L260.5 61.09 L259.5 61.64 L258.5 62.19 L257.5 62.74 L256.5 63.30 L255.5 63.85 L254.5 64.41 L253.5 64.96 L252.5 65.50 L251.5 66.04 L250.5 66.58 L249.5 67.13 L248.5 67.69 L247.5 68.29 L246.5 68.92 L245.5 69.57 L244.5 70.23 L243.5 70.90 L242.5 71.56 L241.5 72.21 L240.5 72.86 L239.5 73.51 L238.5 74.15 L237.5 74.78 L236.5 75.40 L235.5 76.01 L234.5 76.61 L233.5 77.18 L232.5 77.68 L231.5 78.11 L230.5 78.45 L229.5 78.74 L228.5 79.00 L227.5 79.24 L226.5 79.48 L225.5 79.70 L224.5 79.93 L223.5 80.15 L222.5 80.37 L221.5 80.59 L220.5 80.83 L219.5 81.10 L218.5 81.39 L217.5 81.70 L216.5 82.01 L215.5 82.32 L214.5 82.63 L213.5 82.94 L212.5 83.25 L211.5 83.55 L210.5 83.85 L209.5 84.14 L208.5 84.41Z" fill="#D050D8"/>
<path d="M175.0 85.67 L176.0 85.66 L177.0 85.65 L178.0 85.63 L179.0 85.60 L180.0 85.56 L181.0 85.51 L182.0 85.46 L183.0 85.41 L184.0 85.37 L185.0 85.36 L186.0 85.36 L187.0 85.39 L188.0 85.43 L189.0 85.48 L190.0 85.53 L191.0 85.57 L192.0 85.62 L193.0 85.66 L194.0 85.69 L195.0 85.72 L196.0 85.74 L197.0 85.74 L198.0 85.73 L199.0 85.70 L200.0 85.66 L201.0 85.60 L202.0 85.51 L203.0 85.40 L204.0 85.27 L205.0 85.11 L206.0 84.94 L207.0 84.75 L208.0 84.53 L209.0 84.28 L210.0 83.99 L211.0 83.70 L212.0 83.40 L213.0 83.09 L214.0 82.79 L215.0 82.48 L216.0 82.17 L217.0 81.85 L218.0 81.54 L219.0 81.24 L220.0 80.96 L221.0 80.71 L222.0 80.48 L223.0 80.26 L224.0 80.04 L225.0 79.82 L226.0 79.59 L227.0 79.36 L228.0 79.12 L229.0 78.87 L230.0 78.60 L231.0 78.29 L232.0 77.91 L233.0 77.44 L234.0 76.90 L235.0 76.32 L236.0 75.71 L237.0 75.09 L238.0 74.47 L239.0 73.83 L240.0 73.19 L241.0 72.54 L242.0 71.88 L243.0 71.23 L244.0 70.56 L245.0 69.90 L246.0 69.24 L247.0 68.60 L248.0 67.98 L248.0 68.06 L247.0 68.76 L246.0 69.51 L245.0 70.30 L244.0 71.09 L243.0 71.88 L242.0 72.67 L241.0 73.46 L240.0 74.24 L239.0 75.01 L238.0 75.78 L237.0 76.54 L236.0 77.29 L235.0 78.02 L234.0 78.73 L233.0 79.40 L232.0 80.00 L231.0 80.50 L230.0 80.93 L229.0 81.32 L228.0 81.69 L227.0 82.04 L226.0 82.39 L225.0 82.73 L224.0 83.07 L223.0 83.41 L222.0 83.75 L221.0 84.10 L220.0 84.48 L219.0 84.90 L218.0 85.35 L217.0 85.80 L216.0 86.27 L215.0 86.73 L214.0 87.19 L213.0 87.64 L212.0 88.10 L211.0 88.55 L210.0 89.00 L209.0 89.44 L208.0 89.88 L207.0 90.30 L206.0 90.72 L205.0 91.12 L204.0 91.52 L203.0 91.89 L202.0 92.22 L201.0 92.50 L200.0 92.70 L199.0 92.82 L198.0 92.86 L197.0 92.86 L196.0 92.83 L195.0 92.79 L194.0 92.73 L193.0 92.67 L192.0 92.60 L191.0 92.53 L190.0 92.46 L189.0 92.38 L188.0 92.31 L187.0 92.24 L186.0 92.17 L185.0 92.11 L184.0 92.06 L183.0 92.01 L182.0 91.96 L181.0 91.91 L180.0 91.86 L179.0 91.80 L178.0 91.73 L177.0 91.66 L176.0 91.59 L175.0 91.53Z" fill="#DB5827"/>
<path d="M176.5 91.62 L177.5 91.70 L178.5 91.77 L179.5 91.83 L180.5 91.89 L181.5 91.93 L182.5 91.98 L183.5 92.03 L184.5 92.09 L185.5 92.14 L186.5 92.21 L187.5 92.27 L188.5 92.35 L189.5 92.42 L190.5 92.50 L191.5 92.57 L192.5 92.64 L193.5 92.70 L194.5 92.76 L195.5 92.81 L196.5 92.84 L197.5 92.86 L198.5 92.84 L199.5 92.77 L200.5 92.61 L201.5 92.37 L202.5 92.06 L203.5 91.70 L204.5 91.32 L205.5 90.92 L206.5 90.51 L207.5 90.09 L208.5 89.66 L209.5 89.22 L210.5 88.78 L211.5 88.32 L212.5 87.87 L213.5 87.42 L214.5 86.96 L215.5 86.50 L216.5 86.04 L217.5 85.57 L218.5 85.12 L219.5 84.69 L220.5 84.29 L221.5 83.92 L222.5 83.57 L223.5 83.24 L224.5 82.90 L225.5 82.56 L226.5 82.22 L227.5 81.87 L228.5 81.51 L229.5 81.13 L230.5 80.73 L231.5 80.26 L232.5 79.71 L233.5 79.08 L234.5 78.38 L235.5 77.66 L236.5 76.91 L237.5 76.16 L238.5 75.40 L239.5 74.63 L240.5 73.85 L241.5 73.07 L242.5 72.28 L243.5 71.49 L244.5 70.69 L245.5 69.90 L246.5 69.13 L247.5 68.40 L248.5 67.74 L249.5 67.14 L250.5 66.59 L251.5 66.04 L252.5 65.50 L253.5 64.96 L254.5 64.41 L255.5 63.85 L256.5 63.30 L257.5 62.74 L258.5 62.19 L259.5 61.64 L260.5 61.09 L261.5 60.53 L262.5 59.93 L263.5 59.22 L263.5 59.29 L262.5 60.05 L261.5 60.72 L260.5 61.35 L259.5 61.98 L258.5 62.60 L257.5 63.23 L256.5 63.86 L255.5 64.49 L254.5 65.12 L253.5 65.74 L252.5 66.36 L251.5 66.98 L250.5 67.60 L249.5 68.23 L248.5 68.89 L247.5 69.62 L246.5 70.41 L245.5 71.24 L244.5 72.09 L243.5 72.94 L242.5 73.79 L241.5 74.63 L240.5 75.47 L239.5 76.30 L238.5 77.13 L237.5 77.95 L236.5 78.76 L235.5 79.56 L234.5 80.34 L233.5 81.09 L232.5 81.77 L231.5 82.35 L230.5 82.83 L229.5 83.25 L228.5 83.64 L227.5 84.00 L226.5 84.36 L225.5 84.72 L224.5 85.06 L223.5 85.41 L222.5 85.75 L221.5 86.11 L220.5 86.48 L219.5 86.88 L218.5 87.32 L217.5 87.77 L216.5 88.24 L215.5 88.70 L214.5 89.16 L213.5 89.62 L212.5 90.07 L211.5 90.52 L210.5 90.97 L209.5 91.42 L208.5 91.84 L207.5 92.25 L206.5 92.63 L205.5 92.99 L204.5 93.35 L203.5 93.68 L202.5 93.98 L201.5 94.24 L200.5 94.42 L199.5 94.51 L198.5 94.50 L197.5 94.43 L196.5 94.32 L195.5 94.19 L194.5 94.05 L193.5 93.90 L192.5 93.74 L191.5 93.58 L190.5 93.41 L189.5 93.24 L188.5 93.07 L187.5 92.91 L186.5 92.75 L185.5 92.61 L184.5 92.49 L183.5 92.38 L182.5 92.28 L181.5 92.20 L180.5 92.11 L179.5 92.01 L178.5 91.91 L177.5 91.80 L176.5 91.69Z" fill="#6EDC82"/>
<path d="M177.0 91.74 L178.0 91.86 L179.0 91.96 L180.0 92.06 L181.0 92.15 L182.0 92.24 L183.0 92.33 L184.0 92.43 L185.0 92.55 L186.0 92.68 L187.0 92.83 L188.0 92.99 L189.0 93.16 L190.0 93.33 L191.0 93.49 L192.0 93.66 L193.0 93.82 L194.0 93.97 L195.0 94.12 L196.0 94.26 L197.0 94.38 L198.0 94.47 L199.0 94.51 L200.0 94.48 L201.0 94.34 L202.0 94.12 L203.0 93.84 L204.0 93.52 L205.0 93.17 L206.0 92.81 L207.0 92.44 L208.0 92.05 L209.0 91.63 L210.0 91.20 L211.0 90.75 L212.0 90.30 L213.0 89.84 L214.0 89.39 L215.0 88.93 L216.0 88.47 L217.0 88.00 L218.0 87.54 L219.0 87.10 L220.0 86.68 L221.0 86.29 L222.0 85.93 L223.0 85.58 L224.0 85.24 L225.0 84.89 L226.0 84.54 L227.0 84.18 L228.0 83.82 L229.0 83.45 L230.0 83.05 L231.0 82.60 L232.0 82.07 L233.0 81.44 L234.0 80.72 L235.0 79.95 L236.0 79.16 L237.0 78.36 L238.0 77.54 L239.0 76.72 L240.0 75.89 L241.0 75.05 L242.0 74.21 L243.0 73.36 L244.0 72.51 L245.0 71.67 L246.0 70.82 L247.0 70.01 L248.0 69.25 L249.0 68.56 L250.0 67.91 L251.0 67.29 L252.0 66.67 L253.0 66.05 L254.0 65.43 L255.0 64.81 L256.0 64.18 L257.0 63.55 L258.0 62.92 L259.0 62.29 L260.0 61.66 L261.0 61.04 L262.0 60.39 L263.0 59.68 L263.5 59.29 L263.5 59.35 L263.0 59.77 L262.0 60.55 L261.0 61.26 L260.0 61.96 L259.0 62.67 L258.0 63.37 L257.0 64.07 L256.0 64.78 L255.0 65.48 L254.0 66.18 L253.0 66.88 L252.0 67.57 L251.0 68.27 L250.0 68.96 L249.0 69.69 L248.0 70.48 L247.0 71.34 L246.0 72.26 L245.0 73.22 L244.0 74.19 L243.0 75.16 L242.0 76.12 L241.0 77.08 L240.0 78.04 L239.0 78.99 L238.0 79.93 L237.0 80.86 L236.0 81.78 L235.0 82.69 L234.0 83.57 L233.0 84.38 L232.0 85.07 L231.0 85.61 L230.0 86.04 L229.0 86.39 L228.0 86.72 L227.0 87.03 L226.0 87.34 L225.0 87.64 L224.0 87.94 L223.0 88.23 L222.0 88.53 L221.0 88.84 L220.0 89.18 L219.0 89.55 L218.0 89.94 L217.0 90.35 L216.0 90.77 L215.0 91.18 L214.0 91.59 L213.0 91.99 L212.0 92.40 L211.0 92.80 L210.0 93.20 L209.0 93.59 L208.0 93.97 L207.0 94.34 L206.0 94.69 L205.0 95.03 L204.0 95.37 L203.0 95.67 L202.0 95.94 L201.0 96.14 L200.0 96.23 L199.0 96.19 L198.0 96.06 L197.0 95.87 L196.0 95.65 L195.0 95.42 L194.0 95.17 L193.0 94.92 L192.0 94.66 L191.0 94.39 L190.0 94.13 L189.0 93.86 L188.0 93.59 L187.0 93.33 L186.0 93.09 L185.0 92.89 L184.0 92.72 L183.0 92.57 L182.0 92.45 L181.0 92.33 L180.0 92.21 L179.0 92.08 L178.0 91.95 L177.0 91.80Z" fill="#D050D8"/>
<path d="M199.5 96.22 L200.5 96.20 L201.5 96.05 L202.5 95.81 L203.5 95.52 L204.5 95.20 L205.5 94.86 L206.5 94.52 L207.5 94.16 L208.5 93.78 L209.5 93.40 L210.5 93.00 L211.5 92.60 L212.5 92.20 L213.5 91.79 L214.5 91.38 L215.5 90.97 L216.5 90.56 L217.5 90.15 L218.5 89.74 L219.5 89.36 L220.5 89.00 L221.5 88.68 L222.5 88.38 L223.5 88.08 L224.5 87.79 L225.5 87.49 L226.5 87.19 L227.5 86.88 L228.5 86.56 L229.5 86.22 L230.5 85.84 L231.5 85.36 L232.5 84.74 L233.5 83.99 L234.5 83.14 L235.5 82.24 L236.5 81.32 L237.5 80.40 L238.5 79.46 L239.5 78.51 L240.5 77.56 L241.5 76.60 L242.5 75.64 L243.5 74.67 L244.5 73.71 L245.5 72.74 L246.5 71.80 L247.5 70.90 L248.5 70.07 L249.5 69.32 L250.5 68.61 L251.5 67.92 L252.5 67.23 L253.5 66.53 L254.5 65.83 L255.5 65.13 L256.5 64.42 L257.5 63.72 L258.5 63.02 L259.5 62.31 L260.5 61.61 L261.5 60.91 L262.5 60.17 L263.5 59.35 L264.5 58.41 L265.5 57.35 L266.5 56.20 L267.5 55.01 L268.5 53.82 L269.5 52.62 L270.5 51.42 L271.5 50.23 L272.5 49.04 L273.5 47.86 L274.5 46.69 L275.5 45.53 L276.5 44.39 L277.5 43.27 L278.5 42.20 L279.5 41.22 L280.5 40.36 L281.5 39.62 L282.5 38.96 L283.5 38.34 L284.5 37.74 L285.5 37.15 L286.5 36.57 L287.5 36.00 L288.5 35.44 L289.5 34.89 L290.5 34.36 L291.5 33.85 L292.5 33.35 L293.5 32.87 L294.5 32.40 L295.5 31.96 L296.5 31.54 L297.5 31.13 L298.5 30.75 L299.5 30.37 L300.5 30.00 L301.5 29.65 L302.5 29.30 L303.5 28.96 L304.5 28.62 L305.5 28.30 L306.5 27.98 L307.5 27.66 L308.5 27.35 L309.5 27.05 L310.5 26.77 L311.5 26.52 L312.5 26.32 L313.5 26.17 L314.5 26.06 L315.5 25.96 L316.5 25.86 L317.5 25.77 L318.5 25.68 L319.5 25.60 L320.5 25.52 L321.5 25.44 L322.5 25.37 L323.5 25.30 L324.5 25.24 L325.5 25.19 L326.5 25.13 L327.5 25.06 L328.5 24.96 L329.5 24.84 L330.5 24.71 L331.5 24.57 L332.5 24.43 L333.5 24.29 L334.5 24.15 L335.5 24.02 L336.5 23.89 L337.5 23.76 L338.5 23.63 L339.5 23.51 L340.5 23.39 L341.5 23.27 L342.5 23.16 L343.5 23.04 L344.5 22.94 L345.5 22.83 L346.5 22.73 L347.5 22.63 L348.5 22.55 L349.5 22.47 L350.5 22.42 L351.5 22.38 L352.5 22.35 L353.5 22.33 L354.5 22.31 L355.5 22.30 L356.5 22.28 L357.5 22.26 L358.5 22.25 L359.5 22.24 L360.5 22.23 L361.5 22.22 L362.5 22.21 L363.5 22.21 L364.5 22.20 L365.5 22.20 L366.5 22.20 L367.5 22.20 L368.5 22.20 L369.5 22.20 L370.5 22.19 L371.5 22.18 L372.5 22.15 L373.5 22.10 L374.5 22.05 L375.5 21.99 L376.5 21.93 L377.5 21.87 L378.5 21.80 L379.5 21.74 L380.5 21.68 L381.5 21.62 L382.5 21.56 L383.5 21.50 L384.5 21.44 L385.5 21.38 L386.5 21.32 L387.5 21.26 L388.5 21.20 L389.5 21.13 L390.5 21.07 L391.5 21.01 L392.5 20.95 L393.5 20.90 L394.5 20.85 L395.5 20.81 L396.5 20.77 L397.5 20.75 L398.5 20.73 L399.5 20.71 L400.5 20.69 L401.5 20.67 L402.5 20.65 L403.5 20.63 L404.5 20.61 L405.5 20.59 L406.5 20.57 L407.5 20.55 L408.5 20.53 L409.5 20.52 L410.5 20.51 L411.5 20.50 L412.5 20.50 L413.5 20.50 L414.5 20.50 L415.5 20.50 L416.5 20.50 L417.5 20.50 L418.5 20.50 L419.5 20.50 L420.5 20.50 L421.5 20.50 L422.5 20.50 L423.5 20.50 L424.5 20.50 L425.5 20.50 L426.5 20.50 L427.5 20.50 L427.5 20.55 L426.5 20.56 L425.5 20.58 L424.5 20.59 L423.5 20.61 L422.5 20.62 L421.5 20.64 L420.5 20.65 L419.5 20.66 L418.5 20.68 L417.5 20.69 L416.5 20.71 L415.5 20.72 L414.5 20.74 L413.5 20.75 L412.5 20.77 L411.5 20.78 L410.5 20.81 L409.5 20.85 L408.5 20.91 L407.5 20.97 L406.5 21.03 L405.5 21.10 L404.5 21.17 L403.5 21.23 L402.5 21.30 L401.5 21.37 L400.5 21.43 L399.5 21.50 L398.5 21.57 L397.5 21.63 L396.5 21.70 L395.5 21.78 L394.5 21.85 L393.5 21.94 L392.5 22.03 L391.5 22.12 L390.5 22.21 L389.5 22.30 L388.5 22.39 L387.5 22.48 L386.5 22.58 L385.5 22.67 L384.5 22.76 L383.5 22.85 L382.5 22.94 L381.5 23.03 L380.5 23.12 L379.5 23.22 L378.5 23.31 L377.5 23.40 L376.5 23.49 L375.5 23.58 L374.5 23.67 L373.5 23.76 L372.5 23.85 L371.5 23.95 L370.5 24.04 L369.5 24.13 L368.5 24.22 L367.5 24.31 L366.5 24.40 L365.5 24.49 L364.5 24.59 L363.5 24.68 L362.5 24.78 L361.5 24.87 L360.5 24.97 L359.5 25.07 L358.5 25.18 L357.5 25.28 L356.5 25.39 L355.5 25.50 L354.5 25.60 L353.5 25.71 L352.5 25.82 L351.5 25.93 L350.5 26.05 L349.5 26.16 L348.5 26.27 L347.5 26.39 L346.5 26.51 L345.5 26.63 L344.5 26.76 L343.5 26.89 L342.5 27.03 L341.5 27.16 L340.5 27.30 L339.5 27.45 L338.5 27.59 L337.5 27.74 L336.5 27.89 L335.5 28.05 L334.5 28.20 L333.5 28.36 L332.5 28.52 L331.5 28.69 L330.5 28.85 L329.5 29.02 L328.5 29.19 L327.5 29.36 L326.5 29.54 L325.5 29.72 L324.5 29.90 L323.5 30.10 L322.5 30.29 L321.5 30.49 L320.5 30.70 L319.5 30.91 L318.5 31.13 L317.5 31.35 L316.5 31.57 L315.5 31.80 L314.5 32.03 L313.5 32.29 L312.5 32.60 L311.5 32.98 L310.5 33.43 L309.5 33.93 L308.5 34.46 L307.5 35.00 L306.5 35.55 L305.5 36.10 L304.5 36.66 L303.5 37.22 L302.5 37.80 L301.5 38.38 L300.5 38.96 L299.5 39.56 L298.5 40.16 L297.5 40.75 L296.5 41.32 L295.5 41.84 L294.5 42.31 L293.5 42.76 L292.5 43.22 L291.5 43.68 L290.5 44.16 L289.5 44.65 L288.5 45.16 L287.5 45.68 L286.5 46.21 L285.5 46.75 L284.5 47.31 L283.5 47.87 L282.5 48.45 L281.5 49.07 L280.5 49.77 L279.5 50.58 L278.5 51.51 L277.5 52.52 L276.5 53.57 L275.5 54.65 L274.5 55.74 L273.5 56.85 L272.5 57.97 L271.5 59.09 L270.5 60.23 L269.5 61.36 L268.5 62.50 L267.5 63.63 L266.5 64.76 L265.5 65.85 L264.5 66.87 L263.5 67.77 L262.5 68.57 L261.5 69.29 L260.5 69.99 L259.5 70.69 L258.5 71.38 L257.5 72.08 L256.5 72.78 L255.5 73.48 L254.5 74.17 L253.5 74.87 L252.5 75.56 L251.5 76.24 L250.5 76.92 L249.5 77.60 L248.5 78.28 L247.5 78.98 L246.5 79.68 L245.5 80.39 L244.5 81.11 L243.5 81.82 L242.5 82.53 L241.5 83.24 L240.5 83.94 L239.5 84.63 L238.5 85.32 L237.5 86.01 L236.5 86.68 L235.5 87.34 L234.5 87.98 L233.5 88.59 L232.5 89.12 L231.5 89.55 L230.5 89.88 L229.5 90.13 L228.5 90.35 L227.5 90.55 L226.5 90.75 L225.5 90.93 L224.5 91.11 L223.5 91.29 L222.5 91.47 L221.5 91.66 L220.5 91.87 L219.5 92.13 L218.5 92.42 L217.5 92.74 L216.5 93.07 L215.5 93.40 L214.5 93.72 L213.5 94.05 L212.5 94.37 L211.5 94.69 L210.5 95.00 L209.5 95.30 L208.5 95.57 L207.5 95.79 L206.5 95.96 L205.5 96.10 L204.5 96.21 L203.5 96.31 L202.5 96.38 L201.5 96.41 L200.5 96.39 L199.5 96.31Z" fill="#692A27"/>
<path d="M199.5 96.31 L200.5 96.39 L201.5 96.41 L202.5 96.38 L203.5 96.31 L204.5 96.21 L205.5 96.10 L206.5 95.96 L207.5 95.79 L208.5 95.57 L209.5 95.30 L210.5 95.00 L211.5 94.69 L212.5 94.37 L213.5 94.05 L214.5 93.72 L215.5 93.40 L216.5 93.07 L217.5 92.74 L218.5 92.42 L219.5 92.13 L220.5 91.87 L221.5 91.66 L222.5 91.47 L223.5 91.29 L224.5 91.11 L225.5 90.93 L226.5 90.75 L227.5 90.55 L228.5 90.35 L229.5 90.13 L230.5 89.88 L231.5 89.55 L232.5 89.12 L233.5 88.59 L234.5 87.98 L235.5 87.34 L236.5 86.68 L237.5 86.01 L238.5 85.32 L239.5 84.63 L240.5 83.94 L241.5 83.24 L242.5 82.53 L243.5 81.82 L244.5 81.11 L245.5 80.39 L246.5 79.68 L247.5 78.98 L248.5 78.28 L249.5 77.60 L250.5 76.92 L251.5 76.24 L252.5 75.56 L253.5 74.87 L254.5 74.17 L255.5 73.48 L256.5 72.78 L257.5 72.08 L258.5 71.38 L259.5 70.69 L260.5 69.99 L261.5 69.29 L262.5 68.57 L263.5 67.77 L264.5 66.87 L265.5 65.85 L266.5 64.76 L267.5 63.63 L268.5 62.50 L269.5 61.36 L270.5 60.23 L271.5 59.09 L272.5 57.97 L273.5 56.85 L274.5 55.74 L275.5 54.65 L276.5 53.57 L277.5 52.52 L278.5 51.51 L279.5 50.58 L280.5 49.77 L281.5 49.07 L282.5 48.45 L283.5 47.87 L284.5 47.31 L285.5 46.75 L286.5 46.21 L287.5 45.68 L288.5 45.16 L289.5 44.65 L290.5 44.16 L291.5 43.68 L292.5 43.22 L293.5 42.76 L294.5 42.31 L295.5 41.84 L296.5 41.32 L297.5 40.75 L298.5 40.16 L299.5 39.56 L300.5 38.96 L301.5 38.38 L302.5 37.80 L303.5 37.22 L304.5 36.66 L305.5 36.10 L306.5 35.55 L307.5 35.00 L308.5 34.46 L309.5 33.93 L310.5 33.43 L311.5 32.98 L312.5 32.60 L312.5 32.66 L311.5 33.11 L310.5 33.68 L309.5 34.33 L308.5 35.01 L307.5 35.70 L306.5 36.41 L305.5 37.11 L304.5 37.83 L303.5 38.55 L302.5 39.28 L301.5 40.02 L300.5 40.76 L299.5 41.51 L298.5 42.27 L297.5 43.02 L296.5 43.75 L295.5 44.43 L294.5 45.08 L293.5 45.70 L292.5 46.33 L291.5 46.97 L290.5 47.62 L289.5 48.29 L288.5 48.97 L287.5 49.67 L286.5 50.37 L285.5 51.09 L284.5 51.82 L283.5 52.56 L282.5 53.31 L281.5 54.09 L280.5 54.93 L279.5 55.86 L278.5 56.88 L277.5 57.95 L276.5 59.07 L275.5 60.20 L274.5 61.35 L273.5 62.52 L272.5 63.69 L271.5 64.87 L270.5 66.06 L269.5 67.25 L268.5 68.44 L267.5 69.64 L266.5 70.81 L265.5 71.95 L264.5 72.98 L263.5 73.87 L262.5 74.62 L261.5 75.27 L260.5 75.89 L259.5 76.49 L258.5 77.10 L257.5 77.71 L256.5 78.32 L255.5 78.93 L254.5 79.54 L253.5 80.15 L252.5 80.75 L251.5 81.35 L250.5 81.94 L249.5 82.54 L248.5 83.15 L247.5 83.78 L246.5 84.43 L245.5 85.10 L244.5 85.78 L243.5 86.45 L242.5 87.12 L241.5 87.79 L240.5 88.46 L239.5 89.12 L238.5 89.77 L237.5 90.41 L236.5 91.05 L235.5 91.67 L234.5 92.27 L233.5 92.84 L232.5 93.32 L231.5 93.68 L230.5 93.92 L229.5 94.08 L228.5 94.20 L227.5 94.30 L226.5 94.40 L225.5 94.48 L224.5 94.56 L223.5 94.64 L222.5 94.72 L221.5 94.81 L220.5 94.92 L219.5 95.06 L218.5 95.23 L217.5 95.43 L216.5 95.63 L215.5 95.84 L214.5 96.04 L213.5 96.24 L212.5 96.43 L211.5 96.63 L210.5 96.82 L209.5 96.98 L208.5 97.11 L207.5 97.17 L206.5 97.17 L205.5 97.13 L204.5 97.06 L203.5 96.97 L202.5 96.86 L201.5 96.72 L200.5 96.56 L199.5 96.38Z" fill="#D99A9A"/>
<path d="M280.0 55.39 L281.0 54.50 L282.0 53.70 L283.0 52.93 L284.0 52.19 L285.0 51.45 L286.0 50.73 L287.0 50.02 L288.0 49.32 L289.0 48.63 L290.0 47.95 L291.0 47.29 L292.0 46.65 L293.0 46.01 L294.0 45.39 L295.0 44.76 L296.0 44.10 L297.0 43.39 L298.0 42.65 L299.0 41.89 L300.0 41.14 L301.0 40.39 L302.0 39.65 L303.0 38.91 L304.0 38.19 L305.0 37.47 L306.0 36.76 L307.0 36.05 L308.0 35.36 L309.0 34.67 L310.0 34.00 L311.0 33.39 L312.0 32.87 L313.0 32.47 L314.0 32.17 L315.0 31.92 L316.0 31.68 L317.0 31.46 L318.0 31.24 L319.0 31.02 L320.0 30.81 L321.0 30.60 L322.0 30.39 L323.0 30.19 L324.0 30.00 L325.0 29.81 L326.0 29.63 L327.0 29.45 L328.0 29.28 L329.0 29.11 L330.0 28.94 L331.0 28.77 L332.0 28.60 L333.0 28.44 L334.0 28.28 L335.0 28.13 L336.0 27.97 L337.0 27.82 L338.0 27.67 L339.0 27.52 L340.0 27.38 L341.0 27.23 L342.0 27.09 L343.0 26.96 L344.0 26.83 L345.0 26.70 L346.0 26.57 L347.0 26.45 L348.0 26.33 L349.0 26.22 L350.0 26.10 L351.0 25.99 L352.0 25.88 L353.0 25.77 L354.0 25.66 L355.0 25.55 L356.0 25.44 L357.0 25.33 L358.0 25.23 L359.0 25.13 L360.0 25.02 L361.0 24.92 L362.0 24.82 L363.0 24.73 L364.0 24.63 L365.0 24.54 L366.0 24.45 L367.0 24.35 L368.0 24.26 L369.0 24.17 L370.0 24.08 L371.0 23.99 L372.0 23.90 L373.0 23.81 L374.0 23.72 L375.0 23.63 L376.0 23.53 L377.0 23.44 L378.0 23.35 L379.0 23.26 L380.0 23.17 L381.0 23.08 L382.0 22.99 L383.0 22.90 L384.0 22.80 L385.0 22.71 L386.0 22.62 L387.0 22.53 L388.0 22.44 L389.0 22.35 L390.0 22.26 L391.0 22.17 L392.0 22.07 L393.0 21.98 L394.0 21.90 L395.0 21.81 L396.0 21.74 L397.0 21.67 L398.0 21.60 L399.0 21.53 L400.0 21.47 L401.0 21.40 L402.0 21.33 L403.0 21.27 L404.0 21.20 L405.0 21.13 L406.0 21.07 L407.0 21.00 L408.0 20.94 L409.0 20.88 L410.0 20.83 L411.0 20.80 L412.0 20.77 L413.0 20.76 L414.0 20.74 L415.0 20.73 L416.0 20.71 L417.0 20.70 L418.0 20.69 L419.0 20.67 L420.0 20.66 L421.0 20.64 L422.0 20.63 L423.0 20.61 L424.0 20.60 L425.0 20.59 L426.0 20.57 L427.0 20.56 L428.0 20.54 L429.0 20.53 L430.0 20.52 L431.0 20.51 L431.0 20.81 L430.0 20.83 L429.0 20.85 L428.0 20.87 L427.0 20.90 L426.0 20.92 L425.0 20.94 L424.0 20.97 L423.0 20.99 L422.0 21.01 L421.0 21.04 L420.0 21.06 L419.0 21.09 L418.0 21.11 L417.0 21.13 L416.0 21.16 L415.0 21.18 L414.0 21.20 L413.0 21.23 L412.0 21.26 L411.0 21.29 L410.0 21.35 L409.0 21.43 L408.0 21.52 L407.0 21.62 L406.0 21.73 L405.0 21.83 L404.0 21.94 L403.0 22.05 L402.0 22.15 L401.0 22.26 L400.0 22.37 L399.0 22.47 L398.0 22.58 L397.0 22.69 L396.0 22.80 L395.0 22.93 L394.0 23.06 L393.0 23.21 L392.0 23.36 L391.0 23.51 L390.0 23.66 L389.0 23.81 L388.0 23.97 L387.0 24.12 L386.0 24.27 L385.0 24.42 L384.0 24.57 L383.0 24.73 L382.0 24.88 L381.0 25.03 L380.0 25.18 L379.0 25.33 L378.0 25.49 L377.0 25.64 L376.0 25.79 L375.0 25.94 L374.0 26.09 L373.0 26.25 L372.0 26.39 L371.0 26.54 L370.0 26.68 L369.0 26.82 L368.0 26.96 L367.0 27.10 L366.0 27.25 L365.0 27.39 L364.0 27.53 L363.0 27.68 L362.0 27.82 L361.0 27.97 L360.0 28.12 L359.0 28.28 L358.0 28.43 L357.0 28.58 L356.0 28.74 L355.0 28.90 L354.0 29.06 L353.0 29.22 L352.0 29.38 L351.0 29.53 L350.0 29.69 L349.0 29.84 L348.0 29.98 L347.0 30.13 L346.0 30.28 L345.0 30.43 L344.0 30.59 L343.0 30.75 L342.0 30.91 L341.0 31.08 L340.0 31.25 L339.0 31.42 L338.0 31.60 L337.0 31.77 L336.0 31.95 L335.0 32.14 L334.0 32.32 L333.0 32.51 L332.0 32.70 L331.0 32.89 L330.0 33.08 L329.0 33.27 L328.0 33.46 L327.0 33.65 L326.0 33.83 L325.0 34.01 L324.0 34.20 L323.0 34.39 L322.0 34.59 L321.0 34.80 L320.0 35.01 L319.0 35.22 L318.0 35.44 L317.0 35.66 L316.0 35.88 L315.0 36.11 L314.0 36.36 L313.0 36.64 L312.0 36.98 L311.0 37.39 L310.0 37.88 L309.0 38.40 L308.0 38.93 L307.0 39.47 L306.0 40.02 L305.0 40.58 L304.0 41.14 L303.0 41.71 L302.0 42.28 L301.0 42.87 L300.0 43.46 L299.0 44.06 L298.0 44.66 L297.0 45.26 L296.0 45.83 L295.0 46.36 L294.0 46.88 L293.0 47.40 L292.0 47.92 L291.0 48.46 L290.0 49.02 L289.0 49.58 L288.0 50.17 L287.0 50.76 L286.0 51.37 L285.0 51.98 L284.0 52.61 L283.0 53.25 L282.0 53.91 L281.0 54.63 L280.0 55.45Z" fill="#C6434A"/>
<path d="M296.5 45.54 L297.5 44.96 L298.5 44.36 L299.5 43.76 L300.5 43.16 L301.5 42.58 L302.5 42.00 L303.5 41.42 L304.5 40.86 L305.5 40.30 L306.5 39.75 L307.5 39.20 L308.5 38.66 L309.5 38.13 L310.5 37.63 L311.5 37.18 L312.5 36.80 L313.5 36.49 L314.5 36.23 L315.5 36.00 L316.5 35.77 L317.5 35.55 L318.5 35.33 L319.5 35.11 L320.5 34.90 L321.5 34.69 L322.5 34.49 L323.5 34.30 L324.5 34.10 L325.5 33.92 L326.5 33.74 L327.5 33.55 L328.5 33.37 L329.5 33.18 L330.5 32.98 L331.5 32.79 L332.5 32.60 L333.5 32.41 L334.5 32.23 L335.5 32.04 L336.5 31.86 L337.5 31.68 L338.5 31.51 L339.5 31.33 L340.5 31.16 L341.5 30.99 L342.5 30.83 L343.5 30.67 L344.5 30.51 L345.5 30.36 L346.5 30.20 L347.5 30.06 L348.5 29.91 L349.5 29.76 L350.5 29.61 L351.5 29.46 L352.5 29.30 L353.5 29.14 L354.5 28.98 L355.5 28.82 L356.5 28.66 L357.5 28.51 L358.5 28.35 L359.5 28.20 L360.5 28.05 L361.5 27.90 L362.5 27.75 L363.5 27.60 L364.5 27.46 L365.5 27.32 L366.5 27.18 L367.5 27.03 L368.5 26.89 L369.5 26.75 L370.5 26.61 L371.5 26.47 L371.5 26.53 L370.5 26.72 L369.5 26.92 L368.5 27.13 L367.5 27.34 L366.5 27.55 L365.5 27.76 L364.5 27.97 L363.5 28.18 L362.5 28.40 L361.5 28.61 L360.5 28.83 L359.5 29.05 L358.5 29.27 L357.5 29.50 L356.5 29.72 L355.5 29.95 L354.5 30.17 L353.5 30.40 L352.5 30.62 L351.5 30.84 L350.5 31.04 L349.5 31.22 L348.5 31.37 L347.5 31.50 L346.5 31.62 L345.5 31.75 L344.5 31.89 L343.5 32.02 L342.5 32.16 L341.5 32.30 L340.5 32.45 L339.5 32.60 L338.5 32.75 L337.5 32.90 L336.5 33.06 L335.5 33.21 L334.5 33.38 L333.5 33.54 L332.5 33.70 L331.5 33.87 L330.5 34.04 L329.5 34.21 L328.5 34.39 L327.5 34.56 L326.5 34.74 L325.5 34.92 L324.5 35.10 L323.5 35.30 L322.5 35.49 L321.5 35.69 L320.5 35.90 L319.5 36.11 L318.5 36.33 L317.5 36.55 L316.5 36.77 L315.5 37.00 L314.5 37.23 L313.5 37.48 L312.5 37.77 L311.5 38.12 L310.5 38.53 L309.5 38.98 L308.5 39.44 L307.5 39.92 L306.5 40.40 L305.5 40.89 L304.5 41.39 L303.5 41.89 L302.5 42.40 L301.5 42.92 L300.5 43.45 L299.5 43.98 L298.5 44.52 L297.5 45.06 L296.5 45.60Z" fill="#9AB8D8"/>
<path d="M201.5 96.72 L202.5 96.86 L203.5 96.97 L204.5 97.06 L205.5 97.13 L206.5 97.17 L207.5 97.17 L208.5 97.11 L209.5 96.98 L210.5 96.82 L211.5 96.63 L212.5 96.43 L213.5 96.24 L214.5 96.04 L215.5 95.84 L216.5 95.63 L217.5 95.43 L218.5 95.23 L219.5 95.06 L220.5 94.92 L221.5 94.81 L222.5 94.72 L223.5 94.64 L224.5 94.56 L225.5 94.48 L226.5 94.40 L227.5 94.30 L228.5 94.20 L229.5 94.08 L230.5 93.92 L231.5 93.68 L232.5 93.32 L233.5 92.84 L234.5 92.27 L235.5 91.67 L236.5 91.05 L237.5 90.41 L238.5 89.77 L239.5 89.12 L240.5 88.46 L241.5 87.79 L242.5 87.12 L243.5 86.45 L244.5 85.78 L245.5 85.10 L246.5 84.43 L247.5 83.78 L248.5 83.15 L249.5 82.54 L250.5 81.94 L251.5 81.35 L252.5 80.75 L253.5 80.15 L254.5 79.54 L255.5 78.93 L256.5 78.32 L257.5 77.71 L258.5 77.10 L259.5 76.49 L260.5 75.89 L261.5 75.27 L262.5 74.62 L263.5 73.87 L264.5 72.98 L265.5 71.95 L266.5 70.81 L267.5 69.64 L268.5 68.44 L269.5 67.25 L270.5 66.06 L271.5 64.87 L272.5 63.69 L273.5 62.52 L274.5 61.35 L275.5 60.20 L276.5 59.07 L277.5 57.96 L278.5 56.89 L279.5 55.90 L280.5 55.03 L281.5 54.26 L282.5 53.58 L283.5 52.93 L284.5 52.30 L285.5 51.67 L286.5 51.06 L287.5 50.46 L288.5 49.87 L289.5 49.30 L290.5 48.74 L291.5 48.19 L292.5 47.66 L293.5 47.14 L294.5 46.63 L295.5 46.12 L296.5 45.60 L297.5 45.06 L298.5 44.52 L299.5 43.98 L300.5 43.45 L301.5 42.92 L302.5 42.40 L303.5 41.89 L304.5 41.39 L305.5 40.89 L306.5 40.40 L307.5 39.92 L308.5 39.44 L309.5 38.98 L310.5 38.53 L311.5 38.12 L312.5 37.77 L313.5 37.48 L314.5 37.23 L315.5 37.00 L316.5 36.77 L317.5 36.55 L318.5 36.33 L319.5 36.11 L320.5 35.90 L321.5 35.69 L322.5 35.49 L323.5 35.30 L324.5 35.10 L325.5 34.92 L326.5 34.74 L327.5 34.56 L328.5 34.39 L329.5 34.21 L330.5 34.04 L331.5 33.87 L332.5 33.70 L333.5 33.54 L334.5 33.38 L335.5 33.21 L336.5 33.06 L337.5 32.90 L338.5 32.75 L339.5 32.60 L340.5 32.45 L341.5 32.30 L342.5 32.16 L343.5 32.02 L344.5 31.89 L345.5 31.75 L346.5 31.62 L347.5 31.50 L348.5 31.37 L349.0 31.29 L349.0 31.36 L348.5 31.45 L347.5 31.62 L346.5 31.80 L345.5 31.98 L344.5 32.16 L343.5 32.35 L342.5 32.53 L341.5 32.73 L340.5 32.92 L339.5 33.12 L338.5 33.32 L337.5 33.53 L336.5 33.73 L335.5 33.94 L334.5 34.15 L333.5 34.36 L332.5 34.58 L331.5 34.80 L330.5 35.01 L329.5 35.23 L328.5 35.44 L327.5 35.64 L326.5 35.83 L325.5 36.02 L324.5 36.20 L323.5 36.40 L322.5 36.59 L321.5 36.79 L320.5 37.00 L319.5 37.21 L318.5 37.43 L317.5 37.65 L316.5 37.87 L315.5 38.10 L314.5 38.33 L313.5 38.59 L312.5 38.90 L311.5 39.28 L310.5 39.73 L309.5 40.23 L308.5 40.76 L307.5 41.30 L306.5 41.85 L305.5 42.40 L304.5 42.96 L303.5 43.52 L302.5 44.10 L301.5 44.68 L300.5 45.26 L299.5 45.86 L298.5 46.46 L297.5 47.06 L296.5 47.63 L295.5 48.16 L294.5 48.65 L293.5 49.13 L292.5 49.60 L291.5 50.09 L290.5 50.60 L289.5 51.11 L288.5 51.65 L287.5 52.19 L286.5 52.75 L285.5 53.32 L284.5 53.89 L283.5 54.48 L282.5 55.09 L281.5 55.74 L280.5 56.47 L279.5 57.32 L278.5 58.30 L277.5 59.37 L276.5 60.49 L275.5 61.63 L274.5 62.79 L273.5 63.96 L272.5 65.14 L271.5 66.33 L270.5 67.52 L269.5 68.72 L268.5 69.92 L267.5 71.11 L266.5 72.30 L265.5 73.43 L264.5 74.47 L263.5 75.35 L262.5 76.09 L261.5 76.72 L260.5 77.32 L259.5 77.91 L258.5 78.50 L257.5 79.09 L256.5 79.68 L255.5 80.27 L254.5 80.86 L253.5 81.45 L252.5 82.03 L251.5 82.61 L250.5 83.19 L249.5 83.77 L248.5 84.36 L247.5 84.97 L246.5 85.61 L245.5 86.27 L244.5 86.93 L243.5 87.60 L242.5 88.26 L241.5 88.91 L240.5 89.56 L239.5 90.21 L238.5 90.85 L237.5 91.48 L236.5 92.10 L235.5 92.71 L234.5 93.31 L233.5 93.86 L232.5 94.33 L231.5 94.68 L230.5 94.92 L229.5 95.08 L228.5 95.20 L227.5 95.30 L226.5 95.40 L225.5 95.48 L224.5 95.56 L223.5 95.64 L222.5 95.72 L221.5 95.80 L220.5 95.89 L219.5 96.01 L218.5 96.14 L217.5 96.28 L216.5 96.43 L215.5 96.57 L214.5 96.72 L213.5 96.86 L212.5 97.00 L211.5 97.13 L210.5 97.26 L209.5 97.37 L208.5 97.45 L207.5 97.46 L206.5 97.42 L205.5 97.33 L204.5 97.23 L203.5 97.10 L202.5 96.95 L201.5 96.78Z" fill="#E5D84A"/>
<path d="M261.0 93.0 L262.5 91.7 L264.0 90.3 L265.5 88.7 L267.0 86.9 L268.5 85.0 L270.0 83.1 L271.5 81.3 L273.0 79.4 L274.5 77.7 L276.0 76.1 L277.5 74.6 L279.0 73.1 L280.5 71.7 L282.0 70.2 L283.5 68.7 L285.0 67.2 L286.5 65.7 L288.0 64.3 L289.5 62.9 L291.0 61.6 L292.5 60.3 L294.0 59.2 L295.5 58.2 L297.0 57.4 L298.5 56.6 L300.0 55.9 L301.5 55.2 L303.0 54.7 L304.5 54.1 L306.0 53.5 L307.5 53.0 L309.0 52.5 L310.5 51.9 L312.0 51.3 L313.5 50.7 L315.0 50.1 L316.5 49.5 L318.0 48.8 L319.5 48.2 L321.0 47.6 L322.5 47.0 L324.0 46.5 L325.5 46.0 L327.0 45.6 L328.5 45.2 L330.0 44.9 L331.5 44.6 L333.0 44.3 L334.5 44.1 L336.0 43.9 L337.5 43.7 L339.0 43.5 L340.5 43.3 L342.0 43.1 L343.5 42.9 L345.0 42.7 L346.5 42.5 L348.0 42.3 L349.5 42.0 L351.0 41.8 L352.5 41.5 L354.0 41.2 L355.5 40.8 L357.0 40.5 L358.5 40.1 L360.0 39.8 L361.5 39.4 L363.0 39.0 L364.5 38.7 L366.0 38.3 L367.5 37.9 L369.0 37.5 L370.5 37.2 L372.0 36.8 L373.5 36.4 L375.0 36.1 L376.5 35.7 L378.0 35.4 L379.5 35.0 L381.0 34.7 L382.5 34.3 L384.0 33.9 L385.5 33.6 L387.0 33.3 L388.5 32.9 L390.0 32.6 L391.5 32.3 L393.0 32.0 L394.5 31.7 L396.0 31.4 L397.5 31.2 L399.0 30.9 L400.5 30.7 L402.0 30.4 L403.5 30.2 L405.0 30.0 L406.5 29.8 L408.0 29.5 L409.5 29.3 L411.0 29.1 L412.5 28.9 L414.0 28.8 L415.5 28.6 L417.0 28.4 L418.5 28.2 L420.0 28.1 L421.5 27.9 L423.0 27.7 L424.5 27.6 L426.0 27.5 L427.5 27.3 L429.0 27.2 L430.5 27.0 L431.0 27.0 L431.0 61.0 L430.5 61.0 L429.0 61.1 L427.5 61.2 L426.0 61.3 L424.5 61.3 L423.0 61.4 L421.5 61.5 L420.0 61.6 L418.5 61.7 L417.0 61.7 L415.5 61.8 L414.0 61.9 L412.5 62.0 L411.0 62.1 L409.5 62.2 L408.0 62.3 L406.5 62.4 L405.0 62.5 L403.5 62.5 L402.0 62.6 L400.5 62.7 L399.0 62.8 L397.5 62.8 L396.0 62.9 L394.5 62.9 L393.0 62.9 L391.5 62.9 L390.0 62.9 L388.5 62.9 L387.0 62.9 L385.5 62.9 L384.0 62.9 L382.5 62.9 L381.0 62.9 L379.5 62.9 L378.0 62.9 L376.5 62.9 L375.0 62.9 L373.5 62.9 L372.0 62.9 L370.5 63.0 L369.0 63.0 L367.5 63.1 L366.0 63.2 L364.5 63.3 L363.0 63.4 L361.5 63.6 L360.0 63.7 L358.5 63.9 L357.0 64.1 L355.5 64.3 L354.0 64.5 L352.5 64.7 L351.0 64.9 L349.5 65.1 L348.0 65.4 L346.5 65.6 L345.0 65.9 L343.5 66.2 L342.0 66.5 L340.5 66.9 L339.0 67.2 L337.5 67.5 L336.0 67.8 L334.5 68.1 L333.0 68.4 L331.5 68.7 L330.0 68.9 L328.5 69.1 L327.0 69.2 L325.5 69.4 L324.0 69.5 L322.5 69.5 L321.0 69.6 L319.5 69.7 L318.0 69.8 L316.5 69.9 L315.0 70.0 L313.5 70.1 L312.0 70.3 L310.5 70.5 L309.0 70.7 L307.5 71.0 L306.0 71.3 L304.5 71.7 L303.0 72.1 L301.5 72.6 L300.0 73.1 L298.5 73.6 L297.0 74.1 L295.5 74.7 L294.0 75.4 L292.5 76.1 L291.0 76.8 L289.5 77.7 L288.0 78.6 L286.5 79.5 L285.0 80.4 L283.5 81.4 L282.0 82.4 L280.5 83.4 L279.0 84.5 L277.5 85.5 L276.0 86.5 L274.5 87.5 L273.0 88.5 L271.5 89.4 L270.0 90.2 L268.5 90.9 L267.0 91.6 L265.5 92.1 L264.0 92.6 L262.5 92.8 L261.0 93.0Z" fill="#76D644"/>
<path d="M288.0 76.5 L289.5 76.0 L291.0 75.6 L292.5 75.2 L294.0 74.9 L295.5 74.6 L297.0 74.3 L298.5 74.0 L300.0 73.8 L301.5 73.6 L303.0 73.4 L304.5 73.2 L306.0 73.1 L307.5 72.9 L309.0 72.7 L310.5 72.5 L312.0 72.3 L313.5 72.0 L315.0 71.8 L316.5 71.5 L318.0 71.2 L319.5 70.9 L321.0 70.6 L322.5 70.3 L324.0 70.0 L325.5 69.7 L327.0 69.4 L328.5 69.1 L330.0 68.8 L331.5 68.5 L333.0 68.2 L334.5 67.9 L336.0 67.6 L337.5 67.2 L339.0 66.9 L340.5 66.6 L342.0 66.3 L343.5 66.1 L345.0 65.8 L346.5 65.5 L348.0 65.3 L349.5 65.1 L351.0 64.9 L352.5 64.7 L354.0 64.5 L355.5 64.3 L357.0 64.1 L358.5 63.9 L360.0 63.7 L361.5 63.6 L363.0 63.4 L364.5 63.3 L366.0 63.2 L367.5 63.1 L369.0 63.0 L370.5 63.0 L372.0 62.9 L373.5 62.9 L375.0 62.9 L376.5 62.9 L378.0 62.9 L379.5 62.9 L381.0 62.9 L382.5 62.9 L384.0 62.9 L385.5 62.9 L387.0 62.9 L388.5 62.9 L390.0 62.9 L391.5 62.9 L393.0 62.9 L394.5 62.9 L396.0 62.9 L397.5 62.9 L399.0 62.9 L400.5 62.9 L402.0 62.9 L403.5 62.9 L405.0 62.9 L406.5 62.9 L408.0 62.9 L409.5 62.9 L411.0 62.9 L412.5 62.9 L414.0 62.9 L415.5 62.9 L417.0 62.9 L418.5 62.9 L420.0 62.9 L421.5 62.9 L423.0 62.9 L424.5 62.9 L426.0 62.9 L427.5 62.9 L429.0 62.9 L430.5 62.9 L431.0 62.9 L431.0 65.0 L430.5 65.0 L429.0 65.0 L427.5 65.0 L426.0 65.0 L424.5 65.0 L423.0 65.0 L421.5 65.0 L420.0 65.0 L418.5 65.0 L417.0 65.0 L415.5 65.0 L414.0 65.0 L412.5 65.0 L411.0 65.0 L409.5 65.0 L408.0 65.0 L406.5 65.0 L405.0 65.0 L403.5 65.0 L402.0 65.0 L400.5 65.0 L399.0 65.0 L397.5 65.0 L396.0 65.0 L394.5 65.1 L393.0 65.1 L391.5 65.2 L390.0 65.4 L388.5 65.5 L387.0 65.7 L385.5 65.9 L384.0 66.2 L382.5 66.4 L381.0 66.7 L379.5 66.9 L378.0 67.2 L376.5 67.4 L375.0 67.7 L373.5 67.9 L372.0 68.1 L370.5 68.2 L369.0 68.4 L367.5 68.6 L366.0 68.7 L364.5 68.9 L363.0 69.0 L361.5 69.1 L360.0 69.3 L358.5 69.4 L357.0 69.6 L355.5 69.7 L354.0 69.8 L352.5 70.0 L351.0 70.1 L349.5 70.3 L348.0 70.4 L346.5 70.5 L345.0 70.7 L343.5 70.8 L342.0 71.0 L340.5 71.1 L339.0 71.3 L337.5 71.4 L336.0 71.6 L334.5 71.7 L333.0 71.9 L331.5 72.0 L330.0 72.1 L328.5 72.2 L327.0 72.4 L325.5 72.5 L324.0 72.6 L322.5 72.7 L321.0 72.8 L319.5 72.9 L318.0 73.0 L316.5 73.1 L315.0 73.2 L313.5 73.3 L312.0 73.4 L310.5 73.6 L309.0 73.8 L307.5 74.0 L306.0 74.2 L304.5 74.4 L303.0 74.6 L301.5 74.8 L300.0 75.0 L298.5 75.2 L297.0 75.4 L295.5 75.6 L294.0 75.8 L292.5 76.0 L291.0 76.2 L289.5 76.3 L288.0 76.5Z" fill="#D8506A"/>
<path d="M340.0 70.5 L341.5 70.4 L343.0 70.4 L344.5 70.3 L346.0 70.2 L347.5 70.1 L349.0 70.0 L350.5 69.9 L352.0 69.8 L353.5 69.7 L355.0 69.6 L356.5 69.5 L358.0 69.4 L359.5 69.2 L361.0 69.1 L362.5 69.0 L364.0 68.8 L365.5 68.7 L367.0 68.6 L368.5 68.4 L370.0 68.3 L371.5 68.1 L373.0 67.9 L374.5 67.8 L376.0 67.5 L377.5 67.3 L379.0 67.1 L380.5 66.8 L382.0 66.5 L383.5 66.3 L385.0 66.0 L386.5 65.8 L388.0 65.6 L389.5 65.4 L391.0 65.3 L392.5 65.2 L394.0 65.1 L395.5 65.0 L397.0 65.0 L398.5 65.0 L400.0 65.0 L401.5 65.0 L403.0 65.0 L404.5 65.0 L406.0 65.0 L407.5 65.0 L409.0 65.0 L410.5 65.0 L412.0 65.0 L413.5 65.0 L415.0 65.0 L416.5 65.0 L418.0 65.0 L419.5 65.0 L421.0 65.0 L422.5 65.0 L424.0 65.0 L425.5 65.0 L427.0 65.0 L428.5 65.0 L430.0 65.0 L431.0 65.0 L431.0 67.1 L430.0 67.1 L428.5 67.1 L427.0 67.1 L425.5 67.1 L424.0 67.1 L422.5 67.1 L421.0 67.1 L419.5 67.1 L418.0 67.2 L416.5 67.2 L415.0 67.2 L413.5 67.3 L412.0 67.3 L410.5 67.4 L409.0 67.4 L407.5 67.5 L406.0 67.6 L404.5 67.7 L403.0 67.7 L401.5 67.8 L400.0 67.9 L398.5 67.9 L397.0 68.0 L395.5 68.1 L394.0 68.1 L392.5 68.2 L391.0 68.3 L389.5 68.4 L388.0 68.4 L386.5 68.5 L385.0 68.6 L383.5 68.6 L382.0 68.7 L380.5 68.8 L379.0 68.9 L377.5 68.9 L376.0 69.0 L374.5 69.1 L373.0 69.2 L371.5 69.2 L370.0 69.3 L368.5 69.4 L367.0 69.4 L365.5 69.5 L364.0 69.5 L362.5 69.6 L361.0 69.7 L359.5 69.7 L358.0 69.8 L356.5 69.9 L355.0 69.9 L353.5 70.0 L352.0 70.0 L350.5 70.1 L349.0 70.2 L347.5 70.2 L346.0 70.3 L344.5 70.3 L343.0 70.4 L341.5 70.4 L340.0 70.5Z" fill="#7EDAC0"/>
<path d="M318.0 60.0 L319.5 58.7 L321.0 57.6 L322.5 56.7 L324.0 55.8 L325.5 54.9 L327.0 54.2 L328.5 53.5 L330.0 53.0 L331.5 52.5 L333.0 52.0 L334.5 51.7 L336.0 51.3 L337.5 51.0 L339.0 50.7 L340.5 50.4 L342.0 50.1 L343.5 49.8 L345.0 49.4 L346.5 49.1 L348.0 48.8 L349.5 48.4 L351.0 48.0 L352.5 47.5 L354.0 47.1 L355.5 46.6 L357.0 46.1 L358.5 45.6 L360.0 45.1 L361.5 44.5 L363.0 44.0 L364.5 43.5 L366.0 43.0 L367.5 42.5 L369.0 42.0 L370.5 41.5 L372.0 41.0 L373.5 40.6 L375.0 40.1 L376.5 39.7 L378.0 39.3 L379.5 38.9 L381.0 38.5 L382.5 38.1 L384.0 37.7 L385.5 37.3 L387.0 36.9 L388.5 36.5 L390.0 36.1 L391.5 35.7 L393.0 35.2 L394.5 34.8 L396.0 34.3 L397.5 33.9 L399.0 33.4 L400.5 32.8 L402.0 32.3 L403.5 31.7 L405.0 31.1 L406.5 30.6 L408.0 30.0 L409.5 29.5 L411.0 29.0 L412.5 28.5 L414.0 28.0 L415.5 27.6 L417.0 27.3 L418.5 27.0 L420.0 26.7 L421.5 26.5 L423.0 26.4 L424.5 26.3 L426.0 26.2 L427.5 26.1 L429.0 26.0 L430.5 26.0 L431.0 26.0 L431.0 29.5 L430.5 29.5 L429.0 29.5 L427.5 29.5 L426.0 29.5 L424.5 29.5 L423.0 29.5 L421.5 29.6 L420.0 29.7 L418.5 29.9 L417.0 30.1 L415.5 30.3 L414.0 30.7 L412.5 31.0 L411.0 31.4 L409.5 31.9 L408.0 32.4 L406.5 32.9 L405.0 33.4 L403.5 33.9 L402.0 34.4 L400.5 35.0 L399.0 35.5 L397.5 36.0 L396.0 36.5 L394.5 36.9 L393.0 37.4 L391.5 37.9 L390.0 38.3 L388.5 38.8 L387.0 39.3 L385.5 39.8 L384.0 40.3 L382.5 40.8 L381.0 41.2 L379.5 41.7 L378.0 42.2 L376.5 42.7 L375.0 43.2 L373.5 43.6 L372.0 44.1 L370.5 44.5 L369.0 45.0 L367.5 45.4 L366.0 45.9 L364.5 46.3 L363.0 46.8 L361.5 47.2 L360.0 47.7 L358.5 48.1 L357.0 48.5 L355.5 48.9 L354.0 49.3 L352.5 49.7 L351.0 50.1 L349.5 50.5 L348.0 50.9 L346.5 51.2 L345.0 51.5 L343.5 51.9 L342.0 52.2 L340.5 52.5 L339.0 52.8 L337.5 53.1 L336.0 53.4 L334.5 53.8 L333.0 54.2 L331.5 54.5 L330.0 55.0 L328.5 55.4 L327.0 56.0 L325.5 56.5 L324.0 57.1 L322.5 57.8 L321.0 58.4 L319.5 59.2 L318.0 60.0Z" fill="#9AB8D8"/>
<path d="M320.0 60.0 L321.5 58.9 L323.0 58.0 L324.5 57.3 L326.0 56.6 L327.5 55.9 L329.0 55.3 L330.5 54.8 L332.0 54.4 L333.5 53.9 L335.0 53.6 L336.5 53.2 L338.0 52.9 L339.5 52.6 L341.0 52.3 L342.5 52.0 L344.0 51.7 L345.5 51.4 L347.0 51.1 L348.5 50.7 L350.0 50.4 L351.5 50.0 L353.0 49.6 L354.5 49.2 L356.0 48.8 L357.5 48.4 L359.0 47.9 L360.5 47.5 L362.0 47.1 L363.5 46.6 L365.0 46.2 L366.5 45.7 L368.0 45.3 L369.5 44.8 L371.0 44.4 L372.5 43.9 L374.0 43.5 L375.5 43.0 L377.0 42.5 L378.5 42.1 L380.0 41.6 L381.5 41.1 L383.0 40.6 L384.5 40.1 L386.0 39.6 L387.5 39.1 L389.0 38.7 L390.5 38.2 L392.0 37.7 L393.5 37.2 L395.0 36.8 L396.5 36.3 L398.0 35.8 L399.5 35.3 L401.0 34.8 L402.5 34.3 L404.0 33.7 L405.5 33.2 L407.0 32.7 L408.5 32.2 L410.0 31.7 L411.5 31.3 L413.0 30.9 L414.5 30.5 L416.0 30.2 L417.5 30.0 L419.0 29.8 L420.5 29.7 L422.0 29.6 L423.5 29.5 L425.0 29.5 L426.5 29.5 L428.0 29.5 L429.5 29.5 L431.0 29.5 L431.0 48.3 L429.5 48.3 L428.0 48.3 L426.5 48.3 L425.0 48.3 L423.5 48.3 L422.0 48.3 L420.5 48.4 L419.0 48.4 L417.5 48.5 L416.0 48.6 L414.5 48.7 L413.0 48.9 L411.5 49.1 L410.0 49.2 L408.5 49.4 L407.0 49.7 L405.5 49.9 L404.0 50.1 L402.5 50.3 L401.0 50.5 L399.5 50.8 L398.0 51.0 L396.5 51.2 L395.0 51.4 L393.5 51.6 L392.0 51.8 L390.5 52.0 L389.0 52.2 L387.5 52.4 L386.0 52.6 L384.5 52.8 L383.0 53.0 L381.5 53.2 L380.0 53.4 L378.5 53.6 L377.0 53.8 L375.5 54.1 L374.0 54.3 L372.5 54.5 L371.0 54.8 L369.5 55.1 L368.0 55.4 L366.5 55.7 L365.0 56.0 L363.5 56.3 L362.0 56.6 L360.5 57.0 L359.0 57.3 L357.5 57.6 L356.0 57.8 L354.5 58.1 L353.0 58.3 L351.5 58.5 L350.0 58.6 L348.5 58.8 L347.0 58.9 L345.5 59.0 L344.0 59.1 L342.5 59.2 L341.0 59.3 L339.5 59.3 L338.0 59.4 L336.5 59.5 L335.0 59.5 L333.5 59.6 L332.0 59.7 L330.5 59.7 L329.0 59.8 L327.5 59.8 L326.0 59.9 L324.5 59.9 L323.0 59.9 L321.5 60.0 L320.0 60.0Z" fill="#D6C1AF"/>
<path d="M388.0 41.5 L389.5 41.4 L391.0 41.3 L392.5 41.2 L394.0 41.0 L395.5 40.8 L397.0 40.5 L398.5 40.2 L400.0 39.8 L401.5 39.3 L403.0 38.8 L404.5 38.2 L406.0 37.6 L407.5 37.0 L409.0 36.3 L410.5 35.5 L412.0 34.7 L413.5 33.8 L415.0 32.9 L416.5 32.0 L418.0 31.2 L419.5 30.5 L421.0 30.1 L422.5 29.8 L424.0 29.6 L425.5 29.5 L427.0 29.5 L428.5 29.5 L430.0 29.5 L431.0 29.5 L431.0 33.7 L430.0 33.7 L428.5 33.7 L427.0 33.7 L425.5 33.7 L424.0 33.8 L422.5 33.9 L421.0 34.1 L419.5 34.4 L418.0 34.9 L416.5 35.5 L415.0 36.2 L413.5 36.8 L412.0 37.5 L410.5 38.2 L409.0 38.8 L407.5 39.5 L406.0 40.0 L404.5 40.6 L403.0 41.2 L401.5 41.7 L400.0 42.1 L398.5 42.5 L397.0 42.7 L395.5 42.8 L394.0 42.8 L392.5 42.7 L391.0 42.5 L389.5 42.1 L388.0 41.5Z" fill="#836AD4"/>
<path d="M405.0 40.0 L406.5 39.5 L408.0 39.1 L409.5 38.8 L411.0 38.5 L412.5 38.1 L414.0 37.9 L415.5 37.6 L417.0 37.4 L418.5 37.3 L420.0 37.1 L421.5 37.1 L423.0 37.0 L424.5 37.0 L426.0 37.0 L427.5 37.0 L429.0 37.0 L430.5 37.0 L431.0 37.0 L431.0 38.0 L430.5 38.0 L429.0 38.0 L427.5 38.0 L426.0 38.0 L424.5 38.0 L423.0 38.0 L421.5 38.1 L420.0 38.1 L418.5 38.2 L417.0 38.3 L415.5 38.4 L414.0 38.6 L412.5 38.8 L411.0 39.0 L409.5 39.2 L408.0 39.4 L406.5 39.7 L405.0 40.0Z" fill="#6B8F35"/>
<path d="M398.0 47.5 L399.5 47.2 L401.0 46.9 L402.5 46.6 L404.0 46.3 L405.5 46.0 L407.0 45.6 L408.5 45.3 L410.0 44.9 L411.5 44.5 L413.0 44.1 L414.5 43.7 L416.0 43.2 L417.5 42.9 L419.0 42.5 L420.5 42.3 L422.0 42.2 L423.5 42.1 L425.0 42.0 L426.5 42.0 L428.0 42.0 L429.5 42.0 L431.0 42.0 L431.0 46.2 L429.5 46.2 L428.0 46.2 L426.5 46.2 L425.0 46.2 L423.5 46.2 L422.0 46.2 L420.5 46.3 L419.0 46.4 L417.5 46.4 L416.0 46.5 L414.5 46.7 L413.0 46.8 L411.5 46.9 L410.0 47.0 L408.5 47.1 L407.0 47.1 L405.5 47.2 L404.0 47.3 L402.5 47.3 L401.0 47.4 L399.5 47.4 L398.0 47.5Z" fill="#D050D8"/>
<path d="M398.0 52.5 L399.5 52.0 L401.0 51.5 L402.5 51.2 L404.0 50.8 L405.5 50.4 L407.0 50.1 L408.5 49.8 L410.0 49.6 L411.5 49.3 L413.0 49.1 L414.5 48.9 L416.0 48.7 L417.5 48.6 L419.0 48.5 L420.5 48.4 L422.0 48.4 L423.5 48.3 L425.0 48.3 L426.5 48.3 L428.0 48.3 L429.5 48.3 L431.0 48.3 L431.0 56.7 L429.5 56.7 L428.0 56.7 L426.5 56.7 L425.0 56.7 L423.5 56.7 L422.0 56.6 L420.5 56.5 L419.0 56.4 L417.5 56.2 L416.0 56.0 L414.5 55.8 L413.0 55.5 L411.5 55.3 L410.0 55.0 L408.5 54.7 L407.0 54.4 L405.5 54.1 L404.0 53.8 L402.5 53.5 L401.0 53.2 L399.5 52.9 L398.0 52.5Z" fill="#836AD4"/>
<path d="M358.0 56.0 L359.5 55.9 L361.0 55.7 L362.5 55.6 L364.0 55.4 L365.5 55.3 L367.0 55.1 L368.5 55.0 L370.0 54.8 L371.5 54.6 L373.0 54.4 L374.5 54.2 L376.0 54.0 L377.5 53.7 L379.0 53.5 L380.5 53.2 L382.0 53.0 L383.5 52.7 L385.0 52.4 L386.5 52.2 L388.0 52.0 L389.5 51.8 L391.0 51.7 L392.5 51.6 L394.0 51.6 L395.5 51.6 L397.0 51.7 L398.5 51.9 L400.0 52.1 L401.5 52.4 L403.0 52.8 L404.5 53.2 L406.0 53.5 L407.5 53.9 L409.0 54.2 L410.5 54.6 L412.0 54.9 L413.5 55.3 L415.0 55.6 L416.5 55.9 L418.0 56.2 L419.5 56.4 L421.0 56.5 L422.5 56.6 L424.0 56.7 L425.5 56.7 L427.0 56.7 L428.5 56.7 L430.0 56.7 L431.0 56.7 L431.0 58.7 L430.0 58.7 L428.5 58.7 L427.0 58.7 L425.5 58.7 L424.0 58.7 L422.5 58.6 L421.0 58.5 L419.5 58.4 L418.0 58.1 L416.5 57.9 L415.0 57.5 L413.5 57.2 L412.0 56.9 L410.5 56.5 L409.0 56.2 L407.5 56.0 L406.0 55.7 L404.5 55.5 L403.0 55.3 L401.5 55.1 L400.0 55.0 L398.5 54.8 L397.0 54.8 L395.5 54.7 L394.0 54.7 L392.5 54.8 L391.0 54.9 L389.5 55.1 L388.0 55.3 L386.5 55.6 L385.0 55.9 L383.5 56.2 L382.0 56.4 L380.5 56.7 L379.0 57.0 L377.5 57.2 L376.0 57.4 L374.5 57.5 L373.0 57.6 L371.5 57.6 L370.0 57.6 L368.5 57.5 L367.0 57.4 L365.5 57.2 L364.0 57.0 L362.5 56.8 L361.0 56.6 L359.5 56.3 L358.0 56.0Z" fill="#E5D84A"/>
<path d="M385.0 56.0 L386.5 55.6 L388.0 55.3 L389.5 55.1 L391.0 55.0 L392.5 54.8 L394.0 54.8 L395.5 54.8 L397.0 54.9 L398.5 55.1 L400.0 55.3 L401.5 55.6 L403.0 56.0 L404.5 56.3 L406.0 56.7 L407.5 57.0 L409.0 57.3 L410.5 57.5 L412.0 57.7 L413.5 57.9 L415.0 58.1 L416.5 58.3 L418.0 58.4 L419.5 58.5 L421.0 58.6 L422.5 58.7 L424.0 58.7 L425.5 58.7 L427.0 58.7 L428.5 58.7 L430.0 58.7 L431.0 58.7 L431.0 62.9 L430.0 62.9 L428.5 62.9 L427.0 62.9 L425.5 62.9 L424.0 62.9 L422.5 62.8 L421.0 62.7 L419.5 62.6 L418.0 62.4 L416.5 62.2 L415.0 62.0 L413.5 61.7 L412.0 61.4 L410.5 61.1 L409.0 60.9 L407.5 60.6 L406.0 60.4 L404.5 60.2 L403.0 60.0 L401.5 59.8 L400.0 59.5 L398.5 59.3 L397.0 59.0 L395.5 58.7 L394.0 58.4 L392.5 58.1 L391.0 57.7 L389.5 57.3 L388.0 56.9 L386.5 56.5 L385.0 56.0Z" fill="#D050D8"/>
<path d="M388.0 59.5 L389.5 59.2 L391.0 59.0 L392.5 58.9 L394.0 58.8 L395.5 58.8 L397.0 58.8 L398.5 58.9 L400.0 59.0 L401.5 59.2 L403.0 59.4 L404.5 59.6 L406.0 59.9 L407.5 60.3 L408.0 60.5 L408.0 61.5 L407.5 61.5 L406.0 61.5 L404.5 61.4 L403.0 61.3 L401.5 61.3 L400.0 61.2 L398.5 61.1 L397.0 60.9 L395.5 60.8 L394.0 60.6 L392.5 60.4 L391.0 60.2 L389.5 59.9 L388.0 59.5Z" fill="#E5D84A"/>
<path d="M226.0 104.5 L227.5 104.7 L229.0 104.9 L230.5 105.0 L232.0 105.0 L233.5 104.9 L235.0 104.8 L236.5 104.7 L238.0 104.5 L239.5 104.3 L241.0 104.1 L242.5 103.9 L244.0 103.7 L245.5 103.6 L247.0 103.4 L248.5 103.3 L250.0 103.3 L251.5 103.2 L253.0 103.2 L254.5 103.2 L256.0 103.2 L257.5 103.1 L259.0 103.1 L260.5 103.1 L262.0 103.0 L263.5 102.8 L265.0 102.6 L266.5 102.3 L268.0 101.8 L269.5 101.2 L271.0 100.5 L272.5 99.7 L274.0 98.9 L275.5 98.0 L277.0 97.2 L278.5 96.5 L280.0 95.8 L281.5 95.2 L283.0 94.6 L284.5 94.0 L286.0 93.4 L287.5 92.9 L289.0 92.3 L290.5 91.9 L292.0 91.4 L293.5 91.0 L295.0 90.7 L296.5 90.4 L298.0 90.2 L299.5 89.9 L301.0 89.8 L302.5 89.6 L304.0 89.4 L305.5 89.3 L307.0 89.1 L308.5 89.0 L310.0 88.8 L311.5 88.6 L313.0 88.5 L314.5 88.3 L316.0 88.1 L317.5 87.9 L319.0 87.7 L320.5 87.5 L322.0 87.3 L323.5 87.1 L325.0 86.8 L326.5 86.6 L328.0 86.4 L329.5 86.2 L331.0 85.9 L332.5 85.7 L334.0 85.4 L335.5 85.1 L337.0 84.9 L338.5 84.6 L340.0 84.4 L341.5 84.1 L343.0 83.8 L344.5 83.6 L346.0 83.4 L347.5 83.2 L349.0 83.0 L350.5 82.8 L352.0 82.6 L353.5 82.4 L355.0 82.3 L356.5 82.1 L358.0 82.0 L359.5 81.8 L361.0 81.7 L362.5 81.5 L364.0 81.4 L365.5 81.3 L367.0 81.1 L368.5 81.0 L370.0 80.9 L371.5 80.7 L373.0 80.6 L374.5 80.4 L376.0 80.3 L377.5 80.1 L379.0 79.9 L380.5 79.8 L382.0 79.6 L383.5 79.4 L385.0 79.3 L386.5 79.1 L388.0 79.0 L389.5 78.9 L391.0 78.8 L392.5 78.7 L394.0 78.7 L395.5 78.6 L397.0 78.6 L398.5 78.6 L400.0 78.6 L401.5 78.5 L403.0 78.5 L404.5 78.5 L406.0 78.5 L407.5 78.5 L409.0 78.5 L410.0 78.5 L410.0 79.5 L409.0 79.6 L407.5 79.7 L406.0 79.9 L404.5 80.0 L403.0 80.2 L401.5 80.4 L400.0 80.6 L398.5 80.8 L397.0 81.0 L395.5 81.2 L394.0 81.5 L392.5 81.7 L391.0 82.0 L389.5 82.3 L388.0 82.6 L386.5 82.9 L385.0 83.3 L383.5 83.6 L382.0 84.0 L380.5 84.4 L379.0 84.8 L377.5 85.2 L376.0 85.6 L374.5 86.1 L373.0 86.6 L371.5 87.1 L370.0 87.7 L368.5 88.3 L367.0 89.0 L365.5 89.8 L364.0 90.6 L362.5 91.4 L361.0 92.2 L359.5 93.1 L358.0 93.9 L356.5 94.6 L355.0 95.3 L353.5 95.9 L352.0 96.5 L350.5 96.9 L349.0 97.3 L347.5 97.6 L346.0 97.9 L344.5 98.2 L343.0 98.4 L341.5 98.7 L340.0 98.9 L338.5 99.1 L337.0 99.3 L335.5 99.5 L334.0 99.6 L332.5 99.8 L331.0 100.0 L329.5 100.2 L328.0 100.4 L326.5 100.6 L325.0 100.8 L323.5 101.0 L322.0 101.2 L320.5 101.4 L319.0 101.6 L317.5 101.8 L316.0 102.0 L314.5 102.3 L313.0 102.5 L311.5 102.7 L310.0 103.0 L308.5 103.3 L307.0 103.5 L305.5 103.8 L304.0 104.1 L302.5 104.4 L301.0 104.6 L299.5 104.8 L298.0 104.9 L296.5 105.0 L295.0 105.1 L293.5 105.1 L292.0 105.1 L290.5 105.1 L289.0 105.1 L287.5 105.1 L286.0 105.1 L284.5 105.1 L283.0 105.1 L281.5 105.2 L280.0 105.2 L278.5 105.4 L277.0 105.6 L275.5 105.8 L274.0 106.2 L272.5 106.5 L271.0 106.9 L269.5 107.3 L268.0 107.6 L266.5 107.8 L265.0 107.9 L263.5 108.0 L262.0 107.9 L260.5 107.7 L259.0 107.5 L257.5 107.2 L256.0 106.8 L254.5 106.5 L253.0 106.2 L251.5 106.0 L250.0 105.8 L248.5 105.7 L247.0 105.6 L245.5 105.6 L244.0 105.7 L242.5 105.7 L241.0 105.8 L239.5 105.9 L238.0 106.0 L236.5 106.1 L235.0 106.1 L233.5 106.1 L232.0 106.0 L230.5 105.9 L229.0 105.6 L227.5 105.1 L226.0 104.5Z" fill="#DB5827"/>
<path d="M305.0 96.0 L306.5 95.8 L308.0 95.6 L309.5 95.4 L311.0 95.1 L312.5 94.9 L314.0 94.6 L315.5 94.4 L317.0 94.1 L318.5 93.8 L320.0 93.5 L321.5 93.2 L323.0 92.9 L324.5 92.6 L326.0 92.2 L327.5 91.9 L329.0 91.5 L330.5 91.2 L332.0 90.8 L333.5 90.4 L335.0 89.9 L336.5 89.5 L338.0 89.1 L339.5 88.7 L341.0 88.2 L342.5 87.8 L344.0 87.4 L345.5 87.0 L347.0 86.7 L348.5 86.4 L350.0 86.1 L351.5 85.8 L353.0 85.5 L354.5 85.3 L356.0 85.0 L357.5 84.8 L359.0 84.6 L360.0 84.5 L360.0 84.8 L359.0 85.1 L357.5 85.5 L356.0 85.9 L354.5 86.3 L353.0 86.7 L351.5 87.1 L350.0 87.5 L348.5 88.0 L347.0 88.4 L345.5 88.9 L344.0 89.4 L342.5 89.9 L341.0 90.4 L339.5 90.8 L338.0 91.3 L336.5 91.8 L335.0 92.2 L333.5 92.7 L332.0 93.1 L330.5 93.4 L329.0 93.8 L327.5 94.1 L326.0 94.3 L324.5 94.6 L323.0 94.9 L321.5 95.1 L320.0 95.4 L318.5 95.6 L317.0 95.7 L315.5 95.9 L314.0 96.0 L312.5 96.0 L311.0 96.1 L309.5 96.1 L308.0 96.1 L306.5 96.1 L305.0 96.0Z" fill="#D050D8"/>
<path d="M340.0 88.5 L341.5 88.4 L343.0 88.2 L344.5 88.1 L346.0 87.9 L347.5 87.8 L349.0 87.6 L350.5 87.4 L352.0 87.2 L353.5 87.0 L355.0 86.8 L356.5 86.6 L358.0 86.3 L359.5 86.1 L361.0 85.8 L362.5 85.6 L364.0 85.3 L365.5 85.1 L367.0 84.8 L368.5 84.6 L370.0 84.3 L371.5 84.1 L373.0 83.8 L374.5 83.6 L376.0 83.4 L377.5 83.1 L379.0 82.9 L380.5 82.7 L382.0 82.5 L383.5 82.3 L385.0 82.0 L385.0 84.0 L383.5 84.3 L382.0 84.6 L380.5 84.9 L379.0 85.2 L377.5 85.6 L376.0 85.9 L374.5 86.2 L373.0 86.6 L371.5 87.0 L370.0 87.4 L368.5 87.9 L367.0 88.4 L365.5 88.9 L364.0 89.4 L362.5 89.9 L361.0 90.5 L359.5 91.0 L358.0 91.4 L356.5 91.8 L355.0 92.2 L353.5 92.4 L352.0 92.6 L350.5 92.6 L349.0 92.4 L347.5 92.1 L346.0 91.7 L344.5 91.1 L343.0 90.4 L341.5 89.6 L340.0 88.5Z" fill="#E5D84A"/>
<path d="M226.0 105.0 L227.5 105.4 L229.0 105.7 L230.5 105.9 L232.0 106.0 L233.5 106.1 L235.0 106.1 L236.5 106.0 L238.0 106.0 L239.5 105.9 L241.0 105.8 L242.5 105.7 L244.0 105.7 L245.5 105.6 L247.0 105.6 L248.5 105.7 L250.0 105.8 L251.5 106.0 L253.0 106.2 L254.5 106.5 L256.0 106.8 L257.5 107.2 L259.0 107.5 L260.5 107.7 L262.0 107.9 L263.5 108.0 L265.0 107.9 L266.5 107.8 L268.0 107.6 L269.5 107.3 L271.0 106.9 L272.5 106.6 L274.0 106.2 L275.5 105.9 L277.0 105.6 L278.5 105.4 L280.0 105.2 L281.5 105.1 L283.0 105.1 L284.5 105.0 L286.0 105.0 L287.5 105.0 L289.0 105.0 L290.0 105.0 L290.0 105.3 L289.0 105.3 L287.5 105.4 L286.0 105.6 L284.5 105.7 L283.0 105.8 L281.5 106.0 L280.0 106.2 L278.5 106.4 L277.0 106.7 L275.5 107.0 L274.0 107.4 L272.5 107.8 L271.0 108.1 L269.5 108.5 L268.0 108.7 L266.5 108.9 L265.0 109.0 L263.5 109.0 L262.0 108.9 L260.5 108.7 L259.0 108.4 L257.5 108.0 L256.0 107.6 L254.5 107.3 L253.0 106.9 L251.5 106.6 L250.0 106.4 L248.5 106.2 L247.0 106.2 L245.5 106.2 L244.0 106.3 L242.5 106.4 L241.0 106.5 L239.5 106.6 L238.0 106.8 L236.5 106.9 L235.0 107.0 L233.5 107.0 L232.0 106.8 L230.5 106.7 L229.0 106.4 L227.5 105.8 L226.0 105.0Z" fill="#6EDC82"/>
<path d="M244.0 106.0 L245.5 105.8 L247.0 105.7 L248.5 105.8 L250.0 106.0 L251.5 106.3 L253.0 106.6 L254.5 107.0 L256.0 107.4 L257.5 107.9 L259.0 108.3 L260.5 108.6 L262.0 108.9 L263.5 109.0 L265.0 109.0 L266.5 108.9 L268.0 108.7 L269.5 108.4 L271.0 108.1 L272.5 107.7 L274.0 107.4 L275.5 107.0 L277.0 106.7 L278.5 106.4 L280.0 106.2 L281.5 106.0 L283.0 105.9 L284.5 105.8 L286.0 105.7 L287.5 105.6 L289.0 105.5 L290.5 105.5 L292.0 105.4 L293.5 105.3 L295.0 105.1 L296.5 105.0 L298.0 104.8 L299.5 104.6 L301.0 104.4 L302.5 104.2 L304.0 103.9 L305.5 103.7 L307.0 103.4 L308.5 103.2 L310.0 102.9 L311.5 102.7 L313.0 102.5 L314.5 102.3 L316.0 102.1 L317.5 102.0 L319.0 101.8 L320.5 101.7 L322.0 101.5 L322.0 102.5 L320.5 103.4 L319.0 104.1 L317.5 104.8 L316.0 105.4 L314.5 106.0 L313.0 106.5 L311.5 106.9 L310.0 107.3 L308.5 107.6 L307.0 107.9 L305.5 108.1 L304.0 108.3 L302.5 108.6 L301.0 108.8 L299.5 108.9 L298.0 109.1 L296.5 109.2 L295.0 109.4 L293.5 109.5 L292.0 109.6 L290.5 109.7 L289.0 109.8 L287.5 109.8 L286.0 109.9 L284.5 110.0 L283.0 110.1 L281.5 110.2 L280.0 110.4 L278.5 110.5 L277.0 110.7 L275.5 110.9 L274.0 111.2 L272.5 111.4 L271.0 111.6 L269.5 111.9 L268.0 112.0 L266.5 112.2 L265.0 112.2 L263.5 112.2 L262.0 112.1 L260.5 111.9 L259.0 111.6 L257.5 111.3 L256.0 110.8 L254.5 110.4 L253.0 109.9 L251.5 109.3 L250.0 108.7 L248.5 108.2 L247.0 107.6 L245.5 106.9 L244.0 106.0Z" fill="#C6434A"/>
<path d="M240.0 108.0 L241.5 108.0 L243.0 108.0 L244.5 108.0 L246.0 108.1 L247.5 108.1 L249.0 108.3 L250.5 108.5 L252.0 108.9 L253.5 109.3 L255.0 109.8 L256.5 110.4 L258.0 110.9 L259.5 111.4 L261.0 111.7 L262.5 112.0 L264.0 112.1 L265.5 112.2 L267.0 112.1 L268.5 112.0 L270.0 111.8 L271.5 111.6 L273.0 111.3 L274.5 111.1 L276.0 110.9 L277.5 110.7 L279.0 110.5 L280.5 110.3 L282.0 110.2 L283.5 110.1 L285.0 110.0 L286.5 109.9 L288.0 109.8 L289.5 109.7 L291.0 109.6 L292.5 109.5 L294.0 109.4 L295.5 109.3 L297.0 109.2 L298.5 109.0 L300.0 108.9 L301.5 108.7 L303.0 108.5 L304.5 108.2 L306.0 108.0 L307.5 107.7 L309.0 107.5 L310.5 107.1 L312.0 106.8 L313.5 106.3 L315.0 105.8 L316.5 105.2 L318.0 104.6 L319.5 103.9 L321.0 103.2 L322.5 102.5 L324.0 101.9 L325.5 101.3 L327.0 100.8 L328.5 100.4 L330.0 100.1 L331.5 99.8 L333.0 99.5 L334.5 99.3 L336.0 99.0 L337.5 98.8 L339.0 98.6 L340.5 98.4 L342.0 98.3 L343.5 98.1 L345.0 97.9 L346.5 97.7 L348.0 97.5 L349.5 97.2 L351.0 97.0 L352.5 96.7 L354.0 96.4 L355.5 96.1 L357.0 95.8 L358.5 95.5 L360.0 95.2 L361.5 94.9 L363.0 94.6 L364.5 94.3 L366.0 94.1 L367.5 93.9 L369.0 93.7 L370.5 93.6 L372.0 93.6 L373.5 93.5 L375.0 93.5 L376.5 93.5 L378.0 93.5 L379.5 93.5 L381.0 93.5 L382.5 93.5 L384.0 93.5 L385.5 93.5 L387.0 93.5 L388.5 93.5 L390.0 93.5 L391.5 93.5 L393.0 93.5 L394.5 93.5 L396.0 93.5 L397.5 93.4 L399.0 93.4 L400.5 93.3 L402.0 93.2 L403.5 93.1 L405.0 93.0 L406.5 92.9 L408.0 92.8 L409.5 92.7 L411.0 92.6 L412.5 92.4 L414.0 92.3 L415.5 92.2 L417.0 92.2 L418.5 92.1 L420.0 92.1 L421.5 92.0 L423.0 92.0 L424.5 92.0 L426.0 92.0 L427.5 92.0 L429.0 92.0 L430.5 92.0 L431.0 92.0 L431.0 132.1 L430.5 132.1 L429.0 132.1 L427.5 132.1 L426.0 132.1 L424.5 132.1 L423.0 132.1 L421.5 132.1 L420.0 132.1 L418.5 132.1 L417.0 132.1 L415.5 132.1 L414.0 132.1 L412.5 132.1 L411.0 132.1 L409.5 132.1 L408.0 132.1 L406.5 132.1 L405.0 132.1 L403.5 132.1 L402.0 132.1 L400.5 132.1 L399.0 132.1 L397.5 132.1 L396.0 132.1 L394.5 132.1 L393.0 132.1 L391.5 132.0 L390.0 132.0 L388.5 131.9 L387.0 131.8 L385.5 131.8 L384.0 131.7 L382.5 131.6 L381.0 131.5 L379.5 131.4 L378.0 131.3 L376.5 131.2 L375.0 131.1 L373.5 131.1 L372.0 131.0 L370.5 131.0 L369.0 130.9 L367.5 130.9 L366.0 130.8 L364.5 130.8 L363.0 130.7 L361.5 130.7 L360.0 130.6 L358.5 130.6 L357.0 130.6 L355.5 130.6 L354.0 130.5 L352.5 130.5 L351.0 130.5 L349.5 130.5 L348.0 130.5 L346.5 130.6 L345.0 130.6 L343.5 130.6 L342.0 130.7 L340.5 130.7 L339.0 130.8 L337.5 130.9 L336.0 131.0 L334.5 131.1 L333.0 131.2 L331.5 131.3 L330.0 131.5 L328.5 131.7 L327.0 132.0 L325.5 132.3 L324.0 132.8 L322.5 133.3 L321.0 133.9 L319.5 134.6 L318.0 135.2 L316.5 135.7 L315.0 136.2 L313.5 136.5 L312.0 136.8 L310.5 137.0 L309.0 137.1 L307.5 137.2 L306.0 137.3 L304.5 137.3 L303.0 137.4 L301.5 137.4 L300.0 137.4 L298.5 137.4 L297.0 137.4 L295.5 137.4 L294.0 137.2 L292.5 137.0 L291.0 136.8 L289.5 136.4 L288.0 136.0 L286.5 135.5 L285.0 135.1 L283.5 134.5 L282.0 134.0 L280.5 133.4 L279.0 132.8 L277.5 132.2 L276.0 131.5 L274.5 130.8 L273.0 130.1 L271.5 129.2 L270.0 128.4 L268.5 127.5 L267.0 126.7 L265.5 125.8 L264.0 124.9 L262.5 123.9 L261.0 123.0 L259.5 122.0 L258.0 121.0 L256.5 120.0 L255.0 119.0 L253.5 117.9 L252.0 116.9 L250.5 115.8 L249.0 114.7 L247.5 113.6 L246.0 112.5 L244.5 111.5 L243.0 110.4 L241.5 109.3 L240.0 108.0Z" fill="#AE713E"/>
<path d="M268.0 127.5 L269.5 128.4 L271.0 129.2 L272.5 130.0 L274.0 130.7 L275.5 131.4 L277.0 132.0 L278.5 132.7 L280.0 133.2 L281.5 133.8 L283.0 134.3 L284.5 134.8 L286.0 135.3 L287.5 135.8 L289.0 136.2 L290.5 136.5 L292.0 136.9 L293.5 137.1 L295.0 137.3 L296.5 137.5 L298.0 137.6 L299.5 137.6 L301.0 137.7 L302.5 137.7 L304.0 137.8 L305.5 137.8 L306.0 137.8 L306.0 137.8 L305.5 137.9 L304.0 138.2 L302.5 138.3 L301.0 138.4 L299.5 138.5 L298.0 138.5 L296.5 138.5 L295.0 138.4 L293.5 138.3 L292.0 138.0 L290.5 137.7 L289.0 137.4 L287.5 136.9 L286.0 136.5 L284.5 135.9 L283.0 135.4 L281.5 134.8 L280.0 134.2 L278.5 133.6 L277.0 132.9 L275.5 132.1 L274.0 131.3 L272.5 130.5 L271.0 129.6 L269.5 128.6 L268.0 127.5Z" fill="#692A27"/>
<path d="M286.0 139.5 L287.5 139.3 L289.0 139.2 L290.5 139.0 L292.0 138.9 L293.5 138.7 L295.0 138.6 L296.5 138.5 L298.0 138.3 L299.5 138.2 L301.0 138.1 L302.5 138.0 L304.0 137.8 L305.5 137.7 L307.0 137.6 L308.5 137.4 L310.0 137.2 L311.5 136.9 L313.0 136.6 L314.5 136.3 L316.0 135.8 L317.5 135.3 L319.0 134.8 L320.5 134.2 L322.0 133.7 L323.5 133.1 L325.0 132.6 L326.5 132.2 L328.0 131.8 L329.5 131.6 L331.0 131.4 L332.5 131.2 L334.0 131.1 L335.5 131.0 L337.0 130.9 L338.5 130.8 L340.0 130.7 L341.5 130.7 L343.0 130.6 L344.5 130.6 L346.0 130.6 L347.5 130.5 L349.0 130.5 L350.5 130.5 L352.0 130.5 L353.5 130.5 L355.0 130.6 L356.5 130.6 L358.0 130.6 L359.5 130.6 L361.0 130.7 L362.5 130.7 L364.0 130.8 L365.5 130.8 L367.0 130.8 L368.5 130.9 L370.0 130.9 L371.5 131.0 L373.0 131.1 L374.5 131.1 L376.0 131.2 L377.5 131.3 L379.0 131.4 L380.5 131.4 L382.0 131.5 L383.5 131.6 L385.0 131.7 L386.5 131.8 L388.0 131.9 L389.5 131.9 L391.0 132.0 L392.5 132.0 L394.0 132.1 L395.5 132.1 L397.0 132.1 L398.5 132.1 L400.0 132.1 L401.5 132.1 L403.0 132.1 L404.5 132.1 L406.0 132.1 L407.5 132.1 L409.0 132.1 L410.5 132.1 L412.0 132.1 L413.5 132.1 L415.0 132.1 L416.5 132.1 L418.0 132.1 L419.5 132.1 L421.0 132.1 L422.5 132.1 L424.0 132.1 L425.5 132.1 L427.0 132.1 L428.5 132.1 L430.0 132.1 L431.0 132.1 L431.0 151.4 L430.0 151.4 L428.5 151.4 L427.0 151.4 L425.5 151.4 L424.0 151.4 L422.5 151.4 L421.0 151.4 L419.5 151.4 L418.0 151.4 L416.5 151.4 L415.0 151.4 L413.5 151.4 L412.0 151.4 L410.5 151.4 L409.0 151.4 L407.5 151.4 L406.0 151.4 L404.5 151.4 L403.0 151.4 L401.5 151.4 L400.0 151.4 L398.5 151.4 L397.0 151.4 L395.5 151.4 L394.0 151.4 L392.5 151.4 L391.0 151.4 L389.5 151.4 L388.0 151.4 L386.5 151.4 L385.0 151.4 L383.5 151.4 L382.0 151.4 L380.5 151.4 L379.0 151.4 L377.5 151.4 L376.0 151.4 L374.5 151.4 L373.0 151.4 L371.5 151.4 L370.0 151.4 L368.5 151.4 L367.0 151.4 L365.5 151.4 L364.0 151.4 L362.5 151.4 L361.0 151.4 L359.5 151.4 L358.0 151.4 L356.5 151.4 L355.0 151.4 L353.5 151.4 L352.0 151.4 L350.5 151.4 L349.0 151.4 L347.5 151.4 L346.0 151.4 L344.5 151.4 L343.0 151.4 L341.5 151.4 L340.0 151.4 L338.5 151.3 L337.0 151.3 L335.5 151.3 L334.0 151.3 L332.5 151.3 L331.0 151.2 L329.5 151.2 L328.0 151.1 L326.5 150.9 L325.0 150.7 L323.5 150.4 L322.0 150.1 L320.5 149.7 L319.0 149.4 L317.5 149.0 L316.0 148.7 L314.5 148.3 L313.0 147.9 L311.5 147.5 L310.0 147.1 L308.5 146.7 L307.0 146.2 L305.5 145.8 L304.0 145.3 L302.5 144.8 L301.0 144.3 L299.5 143.8 L298.0 143.3 L296.5 142.9 L295.0 142.4 L293.5 141.9 L292.0 141.4 L290.5 141.0 L289.0 140.5 L287.5 140.0 L286.0 139.5Z" fill="#6B8F35"/>
<path d="M318.0 143.3 L319.5 143.1 L321.0 142.9 L322.5 142.8 L324.0 142.7 L325.5 142.5 L327.0 142.4 L328.5 142.3 L330.0 142.2 L331.5 142.1 L333.0 142.1 L334.5 142.0 L336.0 141.9 L337.5 141.9 L339.0 141.8 L340.5 141.8 L342.0 141.7 L343.5 141.6 L345.0 141.6 L346.5 141.5 L348.0 141.4 L349.5 141.3 L351.0 141.1 L352.5 141.0 L354.0 140.7 L355.5 140.5 L357.0 140.2 L358.5 139.9 L360.0 139.6 L361.5 139.3 L363.0 139.0 L364.5 138.7 L366.0 138.4 L367.5 138.2 L369.0 138.0 L370.5 137.8 L372.0 137.7 L373.5 137.6 L375.0 137.5 L376.5 137.4 L378.0 137.4 L379.5 137.3 L381.0 137.3 L382.5 137.3 L384.0 137.2 L385.5 137.2 L387.0 137.2 L388.0 137.2 L388.0 138.3 L387.0 138.5 L385.5 138.8 L384.0 139.1 L382.5 139.3 L381.0 139.6 L379.5 139.8 L378.0 140.1 L376.5 140.3 L375.0 140.6 L373.5 140.8 L372.0 141.0 L370.5 141.2 L369.0 141.4 L367.5 141.6 L366.0 141.9 L364.5 142.1 L363.0 142.3 L361.5 142.5 L360.0 142.7 L358.5 142.8 L357.0 143.0 L355.5 143.1 L354.0 143.2 L352.5 143.3 L351.0 143.3 L349.5 143.4 L348.0 143.4 L346.5 143.4 L345.0 143.4 L343.5 143.4 L342.0 143.4 L340.5 143.4 L339.0 143.4 L337.5 143.4 L336.0 143.4 L334.5 143.4 L333.0 143.4 L331.5 143.4 L330.0 143.4 L328.5 143.4 L327.0 143.4 L325.5 143.4 L324.0 143.4 L322.5 143.4 L321.0 143.3 L319.5 143.3 L318.0 143.3Z" fill="#D050D8"/>
<path d="M352.0 143.0 L353.5 142.9 L355.0 142.8 L356.5 142.7 L358.0 142.5 L359.5 142.4 L361.0 142.3 L362.5 142.1 L364.0 142.0 L365.5 141.8 L367.0 141.6 L368.5 141.4 L370.0 141.2 L371.5 141.0 L373.0 140.8 L374.5 140.5 L376.0 140.2 L377.5 139.9 L379.0 139.5 L380.5 139.2 L382.0 138.8 L383.5 138.4 L385.0 138.0 L386.5 137.7 L388.0 137.4 L389.5 137.1 L391.0 136.9 L392.5 136.7 L394.0 136.6 L395.5 136.6 L397.0 136.5 L398.5 136.5 L400.0 136.5 L401.5 136.5 L403.0 136.5 L404.5 136.5 L406.0 136.5 L407.5 136.5 L409.0 136.5 L410.5 136.5 L412.0 136.5 L413.5 136.5 L415.0 136.5 L416.5 136.5 L418.0 136.5 L419.5 136.5 L421.0 136.5 L422.5 136.5 L424.0 136.5 L425.5 136.5 L427.0 136.5 L428.5 136.5 L430.0 136.5 L431.0 136.5 L431.0 144.3 L430.0 144.3 L428.5 144.3 L427.0 144.3 L425.5 144.3 L424.0 144.3 L422.5 144.3 L421.0 144.3 L419.5 144.4 L418.0 144.4 L416.5 144.4 L415.0 144.5 L413.5 144.6 L412.0 144.7 L410.5 144.7 L409.0 144.8 L407.5 144.9 L406.0 145.0 L404.5 145.1 L403.0 145.2 L401.5 145.2 L400.0 145.3 L398.5 145.3 L397.0 145.4 L395.5 145.4 L394.0 145.4 L392.5 145.4 L391.0 145.4 L389.5 145.4 L388.0 145.4 L386.5 145.4 L385.0 145.4 L383.5 145.4 L382.0 145.4 L380.5 145.4 L379.0 145.4 L377.5 145.4 L376.0 145.4 L374.5 145.4 L373.0 145.4 L371.5 145.4 L370.0 145.3 L368.5 145.2 L367.0 145.1 L365.5 145.0 L364.0 144.8 L362.5 144.7 L361.0 144.5 L359.5 144.2 L358.0 144.0 L356.5 143.8 L355.0 143.5 L353.5 143.3 L352.0 143.0Z" fill="#CC9BCC"/>
<path d="M412.0 141.5 L413.5 141.3 L415.0 141.1 L416.5 141.0 L418.0 140.9 L419.5 140.7 L421.0 140.6 L422.5 140.5 L424.0 140.4 L425.5 140.3 L427.0 140.2 L428.5 140.1 L430.0 140.0 L431.0 140.0 L431.0 145.0 L430.0 145.0 L428.5 144.9 L427.0 144.8 L425.5 144.6 L424.0 144.5 L422.5 144.3 L421.0 144.0 L419.5 143.7 L418.0 143.4 L416.5 143.0 L415.0 142.6 L413.5 142.1 L412.0 141.5Z" fill="#7EDAC0"/>
<path d="M302.0 121.0 L303.5 120.7 L305.0 120.4 L306.5 120.0 L308.0 119.6 L309.5 119.2 L311.0 118.7 L312.5 118.2 L314.0 117.5 L315.5 116.8 L317.0 116.1 L318.5 115.2 L320.0 114.4 L321.5 113.5 L323.0 112.7 L324.5 111.9 L326.0 111.1 L327.5 110.4 L329.0 109.8 L330.5 109.2 L332.0 108.7 L333.5 108.2 L335.0 107.7 L336.5 107.2 L338.0 106.7 L339.5 106.3 L341.0 105.9 L342.5 105.5 L344.0 105.1 L345.5 104.7 L347.0 104.3 L348.5 104.0 L350.0 103.6 L351.5 103.3 L353.0 102.9 L354.5 102.6 L356.0 102.3 L357.5 102.0 L359.0 101.7 L360.5 101.4 L362.0 101.1 L363.5 100.9 L365.0 100.6 L366.5 100.4 L368.0 100.1 L369.5 99.9 L371.0 99.7 L372.5 99.4 L374.0 99.2 L375.5 99.0 L377.0 98.9 L378.5 98.7 L380.0 98.5 L381.5 98.4 L383.0 98.2 L384.5 98.1 L385.0 98.0 L385.0 98.3 L384.5 98.4 L383.0 98.6 L381.5 98.9 L380.0 99.1 L378.5 99.3 L377.0 99.6 L375.5 99.8 L374.0 100.1 L372.5 100.3 L371.0 100.6 L369.5 100.8 L368.0 101.1 L366.5 101.4 L365.0 101.6 L363.5 101.9 L362.0 102.2 L360.5 102.5 L359.0 102.7 L357.5 103.0 L356.0 103.4 L354.5 103.7 L353.0 104.0 L351.5 104.4 L350.0 104.7 L348.5 105.1 L347.0 105.5 L345.5 106.0 L344.0 106.4 L342.5 106.9 L341.0 107.4 L339.5 107.9 L338.0 108.4 L336.5 109.0 L335.0 109.5 L333.5 110.1 L332.0 110.6 L330.5 111.2 L329.0 111.9 L327.5 112.5 L326.0 113.2 L324.5 114.0 L323.0 114.8 L321.5 115.6 L320.0 116.4 L318.5 117.1 L317.0 117.9 L315.5 118.5 L314.0 119.0 L312.5 119.5 L311.0 119.9 L309.5 120.2 L308.0 120.4 L306.5 120.6 L305.0 120.8 L303.5 120.9 L302.0 121.0Z" fill="#D8506A"/>
<path d="M304.0 122.5 L305.5 122.0 L307.0 121.5 L308.5 121.0 L310.0 120.5 L311.5 119.9 L313.0 119.3 L314.5 118.7 L316.0 118.0 L317.5 117.3 L319.0 116.5 L320.5 115.8 L322.0 115.0 L323.5 114.3 L325.0 113.6 L326.5 112.9 L328.0 112.3 L329.5 111.6 L331.0 111.0 L332.5 110.5 L334.0 109.9 L335.5 109.3 L337.0 108.8 L338.5 108.3 L340.0 107.7 L341.5 107.2 L343.0 106.8 L344.5 106.3 L346.0 105.8 L347.5 105.4 L349.0 105.0 L350.5 104.6 L352.0 104.2 L353.5 103.8 L355.0 103.5 L356.5 103.1 L358.0 102.8 L359.5 102.5 L361.0 102.2 L362.5 101.9 L364.0 101.6 L365.5 101.3 L367.0 101.0 L368.5 100.7 L370.0 100.5 L371.5 100.2 L373.0 99.9 L374.5 99.7 L376.0 99.4 L377.5 99.2 L379.0 99.0 L380.5 98.7 L382.0 98.5 L383.5 98.3 L385.0 98.1 L386.5 97.8 L388.0 97.6 L389.5 97.5 L391.0 97.3 L392.5 97.1 L394.0 96.9 L395.5 96.8 L397.0 96.6 L398.5 96.4 L400.0 96.3 L401.5 96.1 L403.0 96.0 L404.5 95.8 L406.0 95.7 L407.5 95.5 L409.0 95.4 L410.5 95.2 L412.0 95.1 L413.5 95.0 L415.0 94.9 L416.5 94.8 L418.0 94.8 L419.5 94.7 L421.0 94.6 L422.5 94.6 L424.0 94.6 L425.5 94.6 L427.0 94.5 L428.5 94.5 L430.0 94.5 L431.0 94.5 L431.0 119.0 L430.0 119.0 L428.5 119.0 L427.0 119.0 L425.5 118.9 L424.0 118.9 L422.5 118.9 L421.0 118.9 L419.5 118.8 L418.0 118.8 L416.5 118.8 L415.0 118.7 L413.5 118.7 L412.0 118.6 L410.5 118.5 L409.0 118.5 L407.5 118.4 L406.0 118.3 L404.5 118.3 L403.0 118.2 L401.5 118.1 L400.0 118.0 L398.5 118.0 L397.0 117.9 L395.5 117.8 L394.0 117.7 L392.5 117.7 L391.0 117.6 L389.5 117.5 L388.0 117.4 L386.5 117.3 L385.0 117.2 L383.5 117.1 L382.0 117.0 L380.5 117.0 L379.0 116.9 L377.5 116.8 L376.0 116.8 L374.5 116.8 L373.0 116.7 L371.5 116.7 L370.0 116.7 L368.5 116.8 L367.0 116.8 L365.5 116.8 L364.0 116.9 L362.5 116.9 L361.0 117.0 L359.5 117.1 L358.0 117.1 L356.5 117.2 L355.0 117.3 L353.5 117.4 L352.0 117.5 L350.5 117.6 L349.0 117.7 L347.5 117.8 L346.0 117.9 L344.5 118.0 L343.0 118.1 L341.5 118.2 L340.0 118.4 L338.5 118.5 L337.0 118.6 L335.5 118.8 L334.0 119.0 L332.5 119.2 L331.0 119.4 L329.5 119.7 L328.0 120.0 L326.5 120.3 L325.0 120.8 L323.5 121.3 L322.0 121.9 L320.5 122.5 L319.0 123.1 L317.5 123.7 L316.0 124.1 L314.5 124.5 L313.0 124.7 L311.5 124.7 L310.0 124.5 L308.5 124.3 L307.0 123.9 L305.5 123.3 L304.0 122.5Z" fill="#692A27"/>
<path d="M334.0 112.5 L335.5 112.3 L337.0 112.1 L338.5 111.9 L340.0 111.7 L341.5 111.5 L343.0 111.2 L344.5 111.0 L346.0 110.7 L347.5 110.4 L349.0 110.1 L350.5 109.8 L352.0 109.5 L353.5 109.1 L355.0 108.6 L356.5 108.2 L358.0 107.7 L359.5 107.2 L361.0 106.8 L362.5 106.3 L364.0 105.9 L365.5 105.5 L367.0 105.2 L368.5 104.9 L370.0 104.8 L371.5 104.6 L373.0 104.6 L374.5 104.5 L376.0 104.5 L377.5 104.5 L379.0 104.5 L380.5 104.5 L382.0 104.5 L383.5 104.5 L385.0 104.5 L386.5 104.5 L388.0 104.5 L389.5 104.5 L391.0 104.5 L392.5 104.5 L394.0 104.5 L395.5 104.5 L397.0 104.4 L398.5 104.3 L400.0 104.3 L401.5 104.1 L403.0 104.0 L404.5 103.9 L406.0 103.7 L407.5 103.5 L409.0 103.3 L410.5 103.2 L412.0 103.0 L413.5 102.8 L415.0 102.7 L416.5 102.6 L418.0 102.5 L419.5 102.4 L421.0 102.4 L422.5 102.3 L424.0 102.3 L425.5 102.3 L427.0 102.3 L428.5 102.3 L430.0 102.3 L431.0 102.3 L431.0 106.7 L430.0 106.7 L428.5 106.7 L427.0 106.7 L425.5 106.7 L424.0 106.7 L422.5 106.7 L421.0 106.8 L419.5 106.8 L418.0 106.9 L416.5 107.0 L415.0 107.1 L413.5 107.2 L412.0 107.4 L410.5 107.6 L409.0 107.7 L407.5 107.9 L406.0 108.1 L404.5 108.3 L403.0 108.4 L401.5 108.5 L400.0 108.7 L398.5 108.7 L397.0 108.8 L395.5 108.8 L394.0 108.8 L392.5 108.8 L391.0 108.8 L389.5 108.7 L388.0 108.6 L386.5 108.5 L385.0 108.4 L383.5 108.4 L382.0 108.3 L380.5 108.2 L379.0 108.1 L377.5 108.0 L376.0 107.9 L374.5 107.9 L373.0 107.9 L371.5 107.9 L370.0 108.1 L368.5 108.2 L367.0 108.5 L365.5 108.8 L364.0 109.1 L362.5 109.5 L361.0 109.9 L359.5 110.3 L358.0 110.7 L356.5 111.1 L355.0 111.4 L353.5 111.7 L352.0 111.9 L350.5 112.1 L349.0 112.2 L347.5 112.3 L346.0 112.3 L344.5 112.4 L343.0 112.4 L341.5 112.4 L340.0 112.4 L338.5 112.5 L337.0 112.5 L335.5 112.5 L334.0 112.5Z" fill="#CC9BCC"/>
<path d="M385.0 109.2 L386.5 109.2 L388.0 109.1 L389.5 109.1 L391.0 109.0 L392.5 109.0 L394.0 108.9 L395.5 108.8 L397.0 108.8 L398.5 108.7 L400.0 108.5 L401.5 108.4 L403.0 108.3 L404.5 108.1 L406.0 107.9 L407.5 107.8 L409.0 107.6 L410.5 107.5 L412.0 107.3 L413.5 107.2 L415.0 107.0 L416.5 106.9 L418.0 106.9 L419.5 106.8 L421.0 106.7 L422.5 106.7 L424.0 106.7 L425.5 106.7 L427.0 106.7 L428.5 106.7 L430.0 106.7 L431.0 106.7 L431.0 110.0 L430.0 110.0 L428.5 110.0 L427.0 110.0 L425.5 110.0 L424.0 110.0 L422.5 110.0 L421.0 110.0 L419.5 110.0 L418.0 110.0 L416.5 110.0 L415.0 110.0 L413.5 110.0 L412.0 110.0 L410.5 110.0 L409.0 110.0 L407.5 110.0 L406.0 110.0 L404.5 110.0 L403.0 110.0 L401.5 110.0 L400.0 110.0 L398.5 110.0 L397.0 110.0 L395.5 110.0 L394.0 109.9 L392.5 109.9 L391.0 109.8 L389.5 109.7 L388.0 109.5 L386.5 109.4 L385.0 109.2Z" fill="#6B8F35"/>
<path d="M335.0 120.0 L336.5 119.7 L338.0 119.4 L339.5 119.1 L341.0 118.8 L342.5 118.6 L344.0 118.3 L345.5 118.1 L347.0 117.9 L348.5 117.8 L350.0 117.6 L351.5 117.5 L353.0 117.4 L354.5 117.3 L356.0 117.2 L357.5 117.1 L359.0 117.1 L360.5 117.0 L362.0 116.9 L363.5 116.9 L365.0 116.8 L366.5 116.8 L368.0 116.8 L369.5 116.7 L371.0 116.7 L372.5 116.7 L374.0 116.7 L375.5 116.8 L377.0 116.8 L378.5 116.9 L380.0 116.9 L381.5 117.0 L383.0 117.1 L384.5 117.2 L386.0 117.3 L387.5 117.4 L389.0 117.5 L390.5 117.6 L392.0 117.6 L393.5 117.7 L395.0 117.8 L396.5 117.9 L398.0 117.9 L399.5 118.0 L401.0 118.1 L402.5 118.2 L404.0 118.2 L405.5 118.3 L407.0 118.4 L408.5 118.4 L410.0 118.5 L411.5 118.6 L413.0 118.6 L414.5 118.7 L416.0 118.7 L417.5 118.8 L419.0 118.8 L420.5 118.9 L422.0 118.9 L423.5 118.9 L425.0 118.9 L426.5 119.0 L428.0 119.0 L429.5 119.0 L431.0 119.0 L431.0 123.3 L429.5 123.3 L428.0 123.3 L426.5 123.3 L425.0 123.3 L423.5 123.3 L422.0 123.3 L420.5 123.3 L419.0 123.3 L417.5 123.3 L416.0 123.3 L414.5 123.3 L413.0 123.3 L411.5 123.3 L410.0 123.3 L408.5 123.3 L407.0 123.3 L405.5 123.3 L404.0 123.3 L402.5 123.3 L401.0 123.3 L399.5 123.3 L398.0 123.3 L396.5 123.3 L395.0 123.3 L393.5 123.2 L392.0 123.2 L390.5 123.1 L389.0 123.0 L387.5 122.8 L386.0 122.7 L384.5 122.5 L383.0 122.3 L381.5 122.2 L380.0 122.0 L378.5 121.8 L377.0 121.6 L375.5 121.5 L374.0 121.3 L372.5 121.2 L371.0 121.0 L369.5 120.9 L368.0 120.8 L366.5 120.7 L365.0 120.6 L363.5 120.4 L362.0 120.3 L360.5 120.2 L359.0 120.1 L357.5 120.1 L356.0 120.0 L354.5 119.9 L353.0 119.9 L351.5 119.8 L350.0 119.8 L348.5 119.8 L347.0 119.8 L345.5 119.8 L344.0 119.8 L342.5 119.8 L341.0 119.9 L339.5 119.9 L338.0 119.9 L336.5 119.9 L335.0 120.0Z" fill="#6B8F35"/>
<path d="M340.0 120.6 L341.5 120.4 L343.0 120.2 L344.5 120.1 L346.0 120.0 L347.5 119.9 L349.0 119.9 L350.5 119.9 L352.0 119.9 L353.5 119.9 L355.0 119.9 L356.5 120.0 L358.0 120.1 L359.5 120.2 L361.0 120.3 L362.5 120.4 L364.0 120.5 L365.5 120.6 L367.0 120.7 L368.5 120.8 L370.0 121.0 L371.5 121.1 L373.0 121.2 L374.5 121.3 L376.0 121.5 L377.5 121.7 L379.0 121.8 L380.5 122.0 L382.0 122.2 L383.5 122.4 L385.0 122.6 L386.5 122.7 L388.0 122.9 L389.5 123.0 L391.0 123.1 L392.5 123.2 L394.0 123.2 L395.5 123.3 L397.0 123.3 L398.5 123.3 L400.0 123.3 L401.5 123.3 L403.0 123.3 L404.5 123.3 L406.0 123.3 L407.5 123.3 L409.0 123.3 L410.5 123.3 L412.0 123.3 L413.5 123.3 L415.0 123.3 L416.5 123.3 L418.0 123.3 L419.5 123.3 L421.0 123.3 L422.5 123.3 L424.0 123.3 L425.5 123.3 L427.0 123.3 L428.5 123.3 L430.0 123.3 L431.0 123.3 L431.0 127.7 L430.0 127.7 L428.5 127.7 L427.0 127.7 L425.5 127.7 L424.0 127.7 L422.5 127.7 L421.0 127.7 L419.5 127.7 L418.0 127.7 L416.5 127.7 L415.0 127.7 L413.5 127.7 L412.0 127.7 L410.5 127.7 L409.0 127.7 L407.5 127.7 L406.0 127.7 L404.5 127.7 L403.0 127.7 L401.5 127.7 L400.0 127.7 L398.5 127.7 L397.0 127.7 L395.5 127.7 L394.0 127.6 L392.5 127.5 L391.0 127.4 L389.5 127.3 L388.0 127.1 L386.5 126.9 L385.0 126.7 L383.5 126.5 L382.0 126.2 L380.5 125.9 L379.0 125.6 L377.5 125.4 L376.0 125.1 L374.5 124.8 L373.0 124.6 L371.5 124.3 L370.0 124.1 L368.5 123.8 L367.0 123.5 L365.5 123.2 L364.0 122.9 L362.5 122.7 L361.0 122.4 L359.5 122.1 L358.0 121.9 L356.5 121.6 L355.0 121.4 L353.5 121.2 L352.0 121.1 L350.5 121.0 L349.0 120.9 L347.5 120.8 L346.0 120.7 L344.5 120.7 L343.0 120.6 L341.5 120.6 L340.0 120.6Z" fill="#6282C8"/>
<path d="M342.0 89.0 L343.5 88.9 L345.0 88.8 L346.5 88.7 L348.0 88.6 L349.5 88.5 L351.0 88.4 L352.5 88.3 L354.0 88.2 L355.5 88.1 L357.0 88.0 L358.5 87.9 L360.0 87.8 L361.5 87.7 L363.0 87.6 L364.5 87.5 L366.0 87.4 L367.5 87.2 L369.0 87.1 L370.5 86.9 L372.0 86.7 L373.5 86.5 L375.0 86.2 L376.5 85.9 L378.0 85.5 L379.5 85.1 L381.0 84.7 L382.5 84.2 L384.0 83.8 L385.5 83.3 L387.0 82.9 L388.5 82.5 L390.0 82.2 L391.5 81.9 L393.0 81.6 L394.5 81.4 L396.0 81.3 L397.5 81.2 L399.0 81.1 L400.5 81.0 L402.0 80.9 L403.5 80.8 L405.0 80.8 L406.5 80.7 L408.0 80.6 L409.5 80.6 L411.0 80.5 L412.5 80.5 L414.0 80.4 L415.5 80.4 L417.0 80.3 L418.5 80.3 L420.0 80.3 L421.5 80.2 L423.0 80.2 L424.5 80.1 L426.0 80.1 L427.5 80.1 L429.0 80.0 L430.5 80.0 L431.0 80.0 L431.0 94.6 L430.5 94.6 L429.0 94.6 L427.5 94.6 L426.0 94.6 L424.5 94.6 L423.0 94.6 L421.5 94.6 L420.0 94.6 L418.5 94.5 L417.0 94.5 L415.5 94.4 L414.0 94.4 L412.5 94.3 L411.0 94.2 L409.5 94.1 L408.0 94.0 L406.5 93.9 L405.0 93.9 L403.5 93.8 L402.0 93.7 L400.5 93.6 L399.0 93.6 L397.5 93.6 L396.0 93.5 L394.5 93.5 L393.0 93.5 L391.5 93.5 L390.0 93.5 L388.5 93.5 L387.0 93.5 L385.5 93.5 L384.0 93.5 L382.5 93.5 L381.0 93.5 L379.5 93.5 L378.0 93.5 L376.5 93.5 L375.0 93.5 L373.5 93.5 L372.0 93.5 L370.5 93.5 L369.0 93.5 L367.5 93.5 L366.0 93.5 L364.5 93.4 L363.0 93.4 L361.5 93.4 L360.0 93.3 L358.5 93.3 L357.0 93.2 L355.5 93.2 L354.0 93.1 L352.5 93.0 L351.0 92.8 L349.5 92.5 L348.0 92.0 L346.5 91.6 L345.0 90.9 L343.5 90.0 L342.0 89.0Z" fill="#6B8F35"/>
<path d="M385.0 82.0 L386.5 81.9 L388.0 81.8 L389.5 81.7 L391.0 81.6 L392.5 81.5 L394.0 81.4 L395.5 81.3 L397.0 81.2 L398.5 81.1 L400.0 81.0 L401.5 80.9 L403.0 80.9 L404.5 80.8 L406.0 80.7 L407.5 80.6 L409.0 80.6 L410.5 80.5 L412.0 80.4 L413.5 80.4 L415.0 80.3 L416.5 80.3 L418.0 80.3 L419.5 80.2 L421.0 80.2 L422.5 80.2 L424.0 80.2 L425.5 80.2 L427.0 80.2 L428.5 80.2 L430.0 80.2 L431.0 80.2 L431.0 84.6 L430.0 84.6 L428.5 84.6 L427.0 84.6 L425.5 84.6 L424.0 84.6 L422.5 84.6 L421.0 84.6 L419.5 84.6 L418.0 84.6 L416.5 84.5 L415.0 84.5 L413.5 84.5 L412.0 84.4 L410.5 84.4 L409.0 84.3 L407.5 84.2 L406.0 84.2 L404.5 84.1 L403.0 84.0 L401.5 83.9 L400.0 83.8 L398.5 83.7 L397.0 83.6 L395.5 83.5 L394.0 83.4 L392.5 83.2 L391.0 83.0 L389.5 82.8 L388.0 82.6 L386.5 82.3 L385.0 82.0Z" fill="#C8B040"/>
<path d="M400.0 78.5 L401.5 78.4 L403.0 78.3 L404.5 78.2 L406.0 78.2 L407.5 78.1 L409.0 78.0 L410.5 77.9 L412.0 77.9 L413.5 77.8 L415.0 77.7 L416.5 77.7 L418.0 77.6 L419.5 77.6 L421.0 77.5 L422.5 77.5 L424.0 77.5 L425.5 77.4 L427.0 77.4 L428.5 77.3 L430.0 77.3 L431.0 77.3 L431.0 80.2 L430.0 80.2 L428.5 80.2 L427.0 80.2 L425.5 80.2 L424.0 80.2 L422.5 80.2 L421.0 80.2 L419.5 80.1 L418.0 80.1 L416.5 80.0 L415.0 80.0 L413.5 79.9 L412.0 79.8 L410.5 79.6 L409.0 79.5 L407.5 79.4 L406.0 79.2 L404.5 79.1 L403.0 78.9 L401.5 78.7 L400.0 78.5Z" fill="#D050D8"/>
<path d="M340.3 44.8 L341.8 44.7 L343.3 44.6 L344.8 44.6 L346.3 44.5 L347.8 44.4 L349.3 44.4 L350.8 44.3 L352.3 44.2 L353.8 44.1 L355.3 44.1 L356.8 44.0 L358.3 43.9 L359.8 43.9 L361.3 43.8 L362.8 43.8 L364.3 43.7 L365.8 43.7 L367.3 43.6 L368.8 43.6 L370.3 43.5 L371.8 43.5 L373.3 43.4 L374.8 43.4 L376.3 43.4 L377.8 43.3 L379.3 43.3 L380.8 43.3 L382.3 43.3 L383.8 43.3 L385.3 43.3 L386.8 43.3 L388.3 43.3 L389.8 43.3 L391.3 43.3 L392.8 43.3 L394.3 43.3 L395.8 43.3 L397.3 43.3 L398.8 43.3 L400.3 43.3 L401.8 43.3 L403.3 43.3 L404.8 43.3 L406.3 43.3 L407.8 43.3 L409.3 43.3 L410.8 43.3 L412.3 43.3 L413.8 43.3 L415.3 43.3 L416.8 43.3 L418.3 43.3 L419.8 43.3 L421.3 43.3 L422.8 43.3 L424.3 43.3 L425.8 43.4 L427.3 43.4 L428.8 43.4 L430.3 43.4 L430.8 43.4 L430.8 44.5 L430.3 44.5 L428.8 44.5 L427.3 44.5 L425.8 44.4 L424.3 44.4 L422.8 44.4 L421.3 44.4 L419.8 44.3 L418.3 44.3 L416.8 44.3 L415.3 44.3 L413.8 44.2 L412.3 44.2 L410.8 44.2 L409.3 44.2 L407.8 44.2 L406.3 44.2 L404.8 44.2 L403.3 44.1 L401.8 44.1 L400.3 44.1 L398.8 44.1 L397.3 44.1 L395.8 44.1 L394.3 44.1 L392.8 44.1 L391.3 44.1 L389.8 44.1 L388.3 44.1 L386.8 44.1 L385.3 44.1 L383.8 44.1 L382.3 44.1 L380.8 44.1 L379.3 44.1 L377.8 44.1 L376.3 44.1 L374.8 44.1 L373.3 44.2 L371.8 44.2 L370.3 44.2 L368.8 44.2 L367.3 44.2 L365.8 44.2 L364.3 44.3 L362.8 44.3 L361.3 44.3 L359.8 44.3 L358.3 44.4 L356.8 44.4 L355.3 44.4 L353.8 44.5 L352.3 44.5 L350.8 44.5 L349.3 44.6 L347.8 44.6 L346.3 44.6 L344.8 44.7 L343.3 44.7 L341.8 44.8 L340.3 44.8Z" fill="#836AD4"/>
<path d="M335.6 31.1 L337.1 31.0 L338.6 30.9 L340.1 30.8 L341.6 30.7 L343.1 30.6 L344.6 30.5 L346.1 30.4 L347.6 30.4 L349.1 30.3 L350.6 30.2 L352.1 30.1 L353.6 30.0 L355.1 29.9 L356.6 29.9 L358.1 29.8 L359.6 29.7 L361.1 29.6 L362.6 29.5 L364.1 29.5 L365.6 29.4 L367.1 29.3 L368.6 29.2 L370.1 29.2 L371.6 29.1 L373.1 29.0 L374.6 29.0 L376.1 28.9 L377.6 28.8 L379.1 28.8 L380.6 28.7 L382.1 28.6 L383.6 28.6 L385.1 28.5 L386.6 28.4 L388.1 28.4 L389.6 28.3 L391.1 28.3 L392.6 28.2 L394.1 28.1 L395.6 28.1 L397.1 28.0 L398.6 28.0 L400.1 27.9 L401.6 27.9 L403.1 27.8 L404.6 27.8 L406.1 27.7 L407.6 27.7 L409.1 27.6 L410.6 27.5 L412.1 27.5 L413.6 27.4 L415.1 27.4 L416.6 27.4 L418.1 27.3 L419.6 27.3 L421.1 27.2 L422.6 27.2 L424.1 27.1 L425.6 27.1 L427.1 27.0 L428.6 27.0 L430.1 27.0 L430.6 26.9 L430.6 28.5 L430.1 28.5 L428.6 28.5 L427.1 28.6 L425.6 28.6 L424.1 28.6 L422.6 28.7 L421.1 28.7 L419.6 28.7 L418.1 28.8 L416.6 28.8 L415.1 28.9 L413.6 28.9 L412.1 28.9 L410.6 29.0 L409.1 29.0 L407.6 29.0 L406.1 29.1 L404.6 29.1 L403.1 29.1 L401.6 29.2 L400.1 29.2 L398.6 29.3 L397.1 29.3 L395.6 29.3 L394.1 29.4 L392.6 29.4 L391.1 29.5 L389.6 29.5 L388.1 29.5 L386.6 29.6 L385.1 29.6 L383.6 29.7 L382.1 29.7 L380.6 29.7 L379.1 29.8 L377.6 29.8 L376.1 29.9 L374.6 29.9 L373.1 29.9 L371.6 30.0 L370.1 30.0 L368.6 30.1 L367.1 30.1 L365.6 30.2 L364.1 30.2 L362.6 30.2 L361.1 30.3 L359.6 30.3 L358.1 30.4 L356.6 30.4 L355.1 30.5 L353.6 30.5 L352.1 30.6 L350.6 30.6 L349.1 30.6 L347.6 30.7 L346.1 30.7 L344.6 30.8 L343.1 30.8 L341.6 30.9 L340.1 30.9 L338.6 31.0 L337.1 31.0 L335.6 31.1Z" fill="#D6C1AF"/>
<path d="M370.9 51.5 L372.4 51.5 L373.9 51.6 L375.4 51.6 L376.9 51.6 L378.4 51.6 L379.9 51.6 L381.4 51.6 L382.9 51.6 L384.4 51.6 L385.9 51.6 L387.4 51.6 L388.9 51.6 L390.4 51.6 L391.9 51.6 L393.4 51.6 L394.9 51.6 L396.4 51.6 L397.9 51.6 L399.4 51.6 L400.9 51.6 L402.4 51.6 L403.9 51.6 L405.4 51.6 L406.9 51.6 L408.4 51.6 L409.9 51.5 L411.4 51.5 L412.9 51.5 L414.4 51.4 L415.9 51.4 L417.4 51.3 L418.9 51.3 L420.4 51.2 L421.9 51.2 L423.4 51.1 L424.9 51.0 L426.4 51.0 L427.9 50.9 L429.4 50.8 L430.9 50.8 L430.9 51.6 L429.4 51.6 L427.9 51.7 L426.4 51.7 L424.9 51.8 L423.4 51.8 L421.9 51.9 L420.4 51.9 L418.9 52.0 L417.4 52.0 L415.9 52.0 L414.4 52.1 L412.9 52.1 L411.4 52.1 L409.9 52.1 L408.4 52.2 L406.9 52.2 L405.4 52.2 L403.9 52.2 L402.4 52.2 L400.9 52.2 L399.4 52.2 L397.9 52.2 L396.4 52.2 L394.9 52.2 L393.4 52.1 L391.9 52.1 L390.4 52.1 L388.9 52.1 L387.4 52.1 L385.9 52.0 L384.4 52.0 L382.9 51.9 L381.4 51.9 L379.9 51.9 L378.4 51.8 L376.9 51.8 L375.4 51.7 L373.9 51.6 L372.4 51.6 L370.9 51.5Z" fill="#E5D84A"/>
<path d="M371.0 61.7 L372.5 61.5 L374.0 61.3 L375.5 61.1 L377.0 61.0 L378.5 60.8 L380.0 60.7 L381.5 60.5 L383.0 60.3 L384.5 60.2 L386.0 60.0 L387.5 59.9 L389.0 59.8 L390.5 59.6 L392.0 59.5 L393.5 59.4 L395.0 59.3 L396.5 59.1 L398.0 59.0 L399.5 58.9 L401.0 58.8 L402.5 58.7 L404.0 58.6 L405.5 58.5 L407.0 58.5 L408.5 58.4 L410.0 58.3 L411.5 58.2 L413.0 58.1 L414.5 58.0 L416.0 58.0 L417.5 57.9 L419.0 57.8 L420.5 57.8 L422.0 57.7 L423.5 57.6 L425.0 57.6 L426.5 57.5 L428.0 57.5 L429.5 57.4 L431.0 57.4 L431.0 58.5 L429.5 58.5 L428.0 58.6 L426.5 58.6 L425.0 58.6 L423.5 58.7 L422.0 58.7 L420.5 58.8 L419.0 58.8 L417.5 58.9 L416.0 58.9 L414.5 59.0 L413.0 59.1 L411.5 59.1 L410.0 59.2 L408.5 59.3 L407.0 59.3 L405.5 59.4 L404.0 59.5 L402.5 59.5 L401.0 59.6 L399.5 59.7 L398.0 59.8 L396.5 59.8 L395.0 59.9 L393.5 60.0 L392.0 60.1 L390.5 60.2 L389.0 60.3 L387.5 60.4 L386.0 60.5 L384.5 60.6 L383.0 60.7 L381.5 60.8 L380.0 60.9 L378.5 61.1 L377.0 61.2 L375.5 61.3 L374.0 61.4 L372.5 61.5 L371.0 61.7Z" fill="#9AB8D8"/>
<path d="M374.3 45.3 L375.8 45.2 L377.3 45.1 L378.8 45.0 L380.3 44.8 L381.8 44.7 L383.3 44.6 L384.8 44.5 L386.3 44.4 L387.8 44.3 L389.3 44.2 L390.8 44.1 L392.3 44.0 L393.8 43.9 L395.3 43.8 L396.8 43.7 L398.3 43.7 L399.8 43.6 L401.3 43.5 L402.8 43.5 L404.3 43.4 L405.8 43.4 L407.3 43.3 L408.8 43.3 L410.3 43.2 L411.8 43.2 L413.3 43.1 L414.8 43.1 L416.3 43.1 L417.8 43.0 L419.3 43.0 L420.8 43.0 L422.3 42.9 L423.8 42.9 L425.3 42.9 L426.8 42.9 L428.3 42.8 L429.8 42.8 L430.8 42.8 L430.8 43.7 L429.8 43.7 L428.3 43.7 L426.8 43.7 L425.3 43.7 L423.8 43.8 L422.3 43.8 L420.8 43.8 L419.3 43.8 L417.8 43.8 L416.3 43.8 L414.8 43.9 L413.3 43.9 L411.8 43.9 L410.3 43.9 L408.8 44.0 L407.3 44.0 L405.8 44.0 L404.3 44.1 L402.8 44.1 L401.3 44.1 L399.8 44.2 L398.3 44.2 L396.8 44.3 L395.3 44.3 L393.8 44.4 L392.3 44.4 L390.8 44.5 L389.3 44.5 L387.8 44.6 L386.3 44.7 L384.8 44.8 L383.3 44.8 L381.8 44.9 L380.3 45.0 L378.8 45.1 L377.3 45.2 L375.8 45.2 L374.3 45.3Z" fill="#CC9BCC"/>
<path d="M399.4 27.7 L400.9 27.5 L402.4 27.3 L403.9 27.2 L405.4 27.0 L406.9 26.9 L408.4 26.8 L409.9 26.7 L411.4 26.6 L412.9 26.6 L414.4 26.5 L415.9 26.5 L417.4 26.5 L418.9 26.6 L420.4 26.6 L421.9 26.6 L423.4 26.7 L424.9 26.7 L426.4 26.8 L427.9 26.9 L429.4 27.0 L430.9 27.1 L430.9 28.2 L429.4 28.0 L427.9 27.9 L426.4 27.7 L424.9 27.6 L423.4 27.5 L421.9 27.4 L420.4 27.4 L418.9 27.3 L417.4 27.3 L415.9 27.2 L414.4 27.2 L412.9 27.2 L411.4 27.3 L409.9 27.3 L408.4 27.3 L406.9 27.3 L405.4 27.4 L403.9 27.5 L402.4 27.5 L400.9 27.6 L399.4 27.7Z" fill="#C8B040"/>
<path d="M401.7 42.5 L403.2 42.2 L404.7 42.0 L406.2 41.8 L407.7 41.7 L409.2 41.5 L410.7 41.3 L412.2 41.2 L413.7 41.1 L415.2 41.0 L416.7 40.9 L418.2 40.8 L419.7 40.8 L421.2 40.7 L422.7 40.7 L424.2 40.7 L425.7 40.6 L427.2 40.6 L428.7 40.6 L430.2 40.6 L430.7 40.6 L430.7 41.2 L430.2 41.2 L428.7 41.3 L427.2 41.3 L425.7 41.3 L424.2 41.3 L422.7 41.3 L421.2 41.3 L419.7 41.3 L418.2 41.3 L416.7 41.4 L415.2 41.4 L413.7 41.5 L412.2 41.5 L410.7 41.6 L409.2 41.7 L407.7 41.9 L406.2 42.0 L404.7 42.1 L403.2 42.3 L401.7 42.5Z" fill="#CC9BCC"/>
<path d="M347.4 25.3 L348.9 25.3 L350.4 25.2 L351.9 25.2 L353.4 25.1 L354.9 25.1 L356.4 25.1 L357.9 25.0 L359.4 25.0 L360.9 24.9 L362.4 24.9 L363.9 24.8 L365.4 24.8 L366.9 24.7 L368.4 24.7 L369.9 24.6 L371.4 24.6 L372.9 24.5 L374.4 24.5 L375.9 24.5 L377.4 24.4 L378.9 24.4 L380.4 24.3 L381.9 24.3 L383.4 24.2 L384.9 24.2 L386.4 24.2 L387.9 24.1 L389.4 24.1 L390.9 24.0 L392.4 24.0 L393.9 24.0 L395.4 23.9 L396.9 23.9 L398.4 23.8 L399.9 23.8 L401.4 23.8 L402.9 23.7 L404.4 23.7 L405.9 23.7 L407.4 23.6 L408.9 23.6 L410.4 23.6 L411.9 23.5 L413.4 23.5 L414.9 23.4 L416.4 23.4 L417.9 23.4 L419.4 23.3 L420.9 23.3 L422.4 23.3 L423.9 23.2 L425.4 23.2 L426.9 23.2 L428.4 23.2 L429.9 23.1 L430.9 23.1 L430.9 23.8 L429.9 23.8 L428.4 23.9 L426.9 23.9 L425.4 23.9 L423.9 23.9 L422.4 24.0 L420.9 24.0 L419.4 24.0 L417.9 24.1 L416.4 24.1 L414.9 24.1 L413.4 24.1 L411.9 24.2 L410.4 24.2 L408.9 24.2 L407.4 24.3 L405.9 24.3 L404.4 24.3 L402.9 24.3 L401.4 24.4 L399.9 24.4 L398.4 24.4 L396.9 24.5 L395.4 24.5 L393.9 24.5 L392.4 24.5 L390.9 24.6 L389.4 24.6 L387.9 24.6 L386.4 24.6 L384.9 24.7 L383.4 24.7 L381.9 24.7 L380.4 24.8 L378.9 24.8 L377.4 24.8 L375.9 24.8 L374.4 24.9 L372.9 24.9 L371.4 24.9 L369.9 24.9 L368.4 25.0 L366.9 25.0 L365.4 25.0 L363.9 25.1 L362.4 25.1 L360.9 25.1 L359.4 25.1 L357.9 25.2 L356.4 25.2 L354.9 25.2 L353.4 25.2 L351.9 25.3 L350.4 25.3 L348.9 25.3 L347.4 25.3Z" fill="#6282C8"/>
<path d="M402.5 51.6 L404.0 51.5 L405.5 51.4 L407.0 51.3 L408.5 51.3 L410.0 51.2 L411.5 51.2 L413.0 51.2 L414.5 51.2 L416.0 51.2 L417.5 51.2 L419.0 51.2 L420.5 51.3 L422.0 51.4 L423.5 51.5 L425.0 51.6 L426.5 51.7 L428.0 51.9 L429.5 52.0 L431.0 52.2 L431.0 53.1 L429.5 52.9 L428.0 52.7 L426.5 52.5 L425.0 52.4 L423.5 52.2 L422.0 52.1 L420.5 52.0 L419.0 51.9 L417.5 51.8 L416.0 51.8 L414.5 51.7 L413.0 51.7 L411.5 51.7 L410.0 51.7 L408.5 51.6 L407.0 51.6 L405.5 51.6 L404.0 51.6 L402.5 51.6Z" fill="#D24284"/>
<path d="M366.8 52.5 L368.3 52.5 L369.8 52.6 L371.3 52.6 L372.8 52.6 L374.3 52.7 L375.8 52.7 L377.3 52.7 L378.8 52.8 L380.3 52.8 L381.8 52.8 L383.3 52.8 L384.8 52.9 L386.3 52.9 L387.8 52.9 L389.3 52.9 L390.8 52.9 L392.3 52.9 L393.8 52.9 L395.3 52.9 L396.8 52.9 L398.3 52.9 L399.8 52.9 L401.3 52.9 L402.8 52.9 L404.3 52.9 L405.8 52.9 L407.3 52.9 L408.8 52.8 L410.3 52.8 L411.8 52.8 L413.3 52.7 L414.8 52.7 L416.3 52.7 L417.8 52.6 L419.3 52.6 L420.8 52.5 L422.3 52.5 L423.8 52.4 L425.3 52.4 L426.8 52.3 L428.3 52.2 L429.8 52.2 L430.8 52.1 L430.8 52.7 L429.8 52.7 L428.3 52.8 L426.8 52.9 L425.3 52.9 L423.8 52.9 L422.3 53.0 L420.8 53.0 L419.3 53.1 L417.8 53.1 L416.3 53.1 L414.8 53.2 L413.3 53.2 L411.8 53.2 L410.3 53.2 L408.8 53.3 L407.3 53.3 L405.8 53.3 L404.3 53.3 L402.8 53.3 L401.3 53.3 L399.8 53.3 L398.3 53.3 L396.8 53.3 L395.3 53.3 L393.8 53.3 L392.3 53.3 L390.8 53.3 L389.3 53.2 L387.8 53.2 L386.3 53.2 L384.8 53.1 L383.3 53.1 L381.8 53.1 L380.3 53.0 L378.8 53.0 L377.3 52.9 L375.8 52.9 L374.3 52.8 L372.8 52.7 L371.3 52.7 L369.8 52.6 L368.3 52.5 L366.8 52.5Z" fill="#D6C1AF"/>
<path d="M377.0 35.6 L378.5 35.5 L380.0 35.4 L381.5 35.3 L383.0 35.2 L384.5 35.1 L386.0 35.1 L387.5 35.0 L389.0 34.9 L390.5 34.9 L392.0 34.8 L393.5 34.8 L395.0 34.8 L396.5 34.7 L398.0 34.7 L399.5 34.7 L401.0 34.6 L402.5 34.6 L404.0 34.6 L405.5 34.6 L407.0 34.6 L408.5 34.6 L410.0 34.6 L411.5 34.7 L413.0 34.7 L414.5 34.7 L416.0 34.7 L417.5 34.7 L419.0 34.8 L420.5 34.8 L422.0 34.8 L423.5 34.9 L425.0 34.9 L426.5 35.0 L428.0 35.0 L429.5 35.1 L430.5 35.1 L430.5 36.0 L429.5 35.9 L428.0 35.9 L426.5 35.8 L425.0 35.7 L423.5 35.7 L422.0 35.6 L420.5 35.6 L419.0 35.5 L417.5 35.4 L416.0 35.4 L414.5 35.4 L413.0 35.3 L411.5 35.3 L410.0 35.3 L408.5 35.3 L407.0 35.2 L405.5 35.2 L404.0 35.2 L402.5 35.2 L401.0 35.2 L399.5 35.2 L398.0 35.2 L396.5 35.2 L395.0 35.2 L393.5 35.2 L392.0 35.3 L390.5 35.3 L389.0 35.3 L387.5 35.3 L386.0 35.3 L384.5 35.4 L383.0 35.4 L381.5 35.4 L380.0 35.5 L378.5 35.5 L377.0 35.6Z" fill="#6EDC82"/>
<path d="M397.1 44.5 L398.6 44.3 L400.1 44.0 L401.6 43.9 L403.1 43.7 L404.6 43.5 L406.1 43.3 L407.6 43.2 L409.1 43.0 L410.6 42.9 L412.1 42.8 L413.6 42.7 L415.1 42.6 L416.6 42.6 L418.1 42.5 L419.6 42.4 L421.1 42.4 L422.6 42.3 L424.1 42.3 L425.6 42.3 L427.1 42.2 L428.6 42.2 L430.1 42.2 L430.6 42.2 L430.6 42.8 L430.1 42.8 L428.6 42.8 L427.1 42.9 L425.6 42.9 L424.1 42.9 L422.6 42.9 L421.1 43.0 L419.6 43.0 L418.1 43.0 L416.6 43.1 L415.1 43.1 L413.6 43.2 L412.1 43.2 L410.6 43.3 L409.1 43.4 L407.6 43.5 L406.1 43.6 L404.6 43.7 L403.1 43.9 L401.6 44.0 L400.1 44.2 L398.6 44.3 L397.1 44.5Z" fill="#D24284"/>
<path d="M335.0 49.3 L336.5 49.3 L338.0 49.3 L339.5 49.3 L341.0 49.3 L342.5 49.3 L344.0 49.3 L345.5 49.3 L347.0 49.3 L348.5 49.3 L350.0 49.3 L351.5 49.3 L353.0 49.2 L354.5 49.2 L356.0 49.2 L357.5 49.2 L359.0 49.2 L360.5 49.2 L362.0 49.2 L363.5 49.1 L365.0 49.1 L366.5 49.1 L368.0 49.1 L369.5 49.1 L371.0 49.1 L372.5 49.0 L374.0 49.0 L375.5 49.0 L377.0 49.0 L378.5 49.0 L380.0 49.0 L381.5 48.9 L383.0 48.9 L384.5 48.9 L386.0 48.9 L387.5 48.8 L389.0 48.8 L390.5 48.8 L392.0 48.8 L393.5 48.7 L395.0 48.7 L396.5 48.7 L398.0 48.6 L399.5 48.6 L401.0 48.6 L402.5 48.5 L404.0 48.5 L405.5 48.4 L407.0 48.4 L408.5 48.4 L410.0 48.3 L411.5 48.3 L413.0 48.2 L414.5 48.2 L416.0 48.1 L417.5 48.1 L419.0 48.0 L420.5 48.0 L422.0 47.9 L423.5 47.9 L425.0 47.8 L426.5 47.8 L428.0 47.7 L429.5 47.6 L431.0 47.6 L431.0 49.1 L429.5 49.1 L428.0 49.2 L426.5 49.2 L425.0 49.3 L423.5 49.3 L422.0 49.4 L420.5 49.4 L419.0 49.4 L417.5 49.5 L416.0 49.5 L414.5 49.6 L413.0 49.6 L411.5 49.6 L410.0 49.7 L408.5 49.7 L407.0 49.7 L405.5 49.7 L404.0 49.8 L402.5 49.8 L401.0 49.8 L399.5 49.8 L398.0 49.9 L396.5 49.9 L395.0 49.9 L393.5 49.9 L392.0 49.9 L390.5 49.9 L389.0 49.9 L387.5 49.9 L386.0 49.9 L384.5 49.9 L383.0 50.0 L381.5 50.0 L380.0 49.9 L378.5 49.9 L377.0 49.9 L375.5 49.9 L374.0 49.9 L372.5 49.9 L371.0 49.9 L369.5 49.9 L368.0 49.9 L366.5 49.9 L365.0 49.9 L363.5 49.9 L362.0 49.8 L360.5 49.8 L359.0 49.8 L357.5 49.8 L356.0 49.8 L354.5 49.7 L353.0 49.7 L351.5 49.7 L350.0 49.7 L348.5 49.6 L347.0 49.6 L345.5 49.6 L344.0 49.5 L342.5 49.5 L341.0 49.5 L339.5 49.4 L338.0 49.4 L336.5 49.4 L335.0 49.3Z" fill="#6EDC82"/>
<path d="M337.4 26.5 L338.9 26.4 L340.4 26.4 L341.9 26.3 L343.4 26.2 L344.9 26.1 L346.4 26.1 L347.9 26.0 L349.4 25.9 L350.9 25.9 L352.4 25.8 L353.9 25.7 L355.4 25.7 L356.9 25.6 L358.4 25.5 L359.9 25.4 L361.4 25.4 L362.9 25.3 L364.4 25.2 L365.9 25.2 L367.4 25.1 L368.9 25.0 L370.4 25.0 L371.9 24.9 L373.4 24.8 L374.9 24.8 L376.4 24.7 L377.9 24.6 L379.4 24.6 L380.9 24.5 L382.4 24.4 L383.9 24.4 L385.4 24.3 L386.9 24.2 L388.4 24.2 L389.9 24.1 L391.4 24.0 L392.9 24.0 L394.4 23.9 L395.9 23.8 L397.4 23.8 L398.9 23.7 L400.4 23.6 L401.9 23.6 L403.4 23.5 L404.9 23.5 L406.4 23.4 L407.9 23.3 L409.4 23.3 L410.9 23.2 L412.4 23.1 L413.9 23.1 L415.4 23.0 L416.9 23.0 L418.4 22.9 L419.9 22.8 L421.4 22.8 L422.9 22.7 L424.4 22.6 L425.9 22.6 L427.4 22.5 L428.9 22.5 L430.4 22.4 L430.9 22.4 L430.9 23.2 L430.4 23.2 L428.9 23.3 L427.4 23.3 L425.9 23.4 L424.4 23.5 L422.9 23.5 L421.4 23.6 L419.9 23.6 L418.4 23.7 L416.9 23.7 L415.4 23.8 L413.9 23.8 L412.4 23.9 L410.9 24.0 L409.4 24.0 L407.9 24.1 L406.4 24.1 L404.9 24.2 L403.4 24.2 L401.9 24.3 L400.4 24.3 L398.9 24.4 L397.4 24.5 L395.9 24.5 L394.4 24.6 L392.9 24.6 L391.4 24.7 L389.9 24.7 L388.4 24.8 L386.9 24.8 L385.4 24.9 L383.9 24.9 L382.4 25.0 L380.9 25.0 L379.4 25.1 L377.9 25.1 L376.4 25.2 L374.9 25.2 L373.4 25.3 L371.9 25.4 L370.4 25.4 L368.9 25.5 L367.4 25.5 L365.9 25.6 L364.4 25.6 L362.9 25.7 L361.4 25.7 L359.9 25.8 L358.4 25.8 L356.9 25.9 L355.4 25.9 L353.9 26.0 L352.4 26.0 L350.9 26.1 L349.4 26.1 L347.9 26.2 L346.4 26.2 L344.9 26.3 L343.4 26.3 L341.9 26.4 L340.4 26.4 L338.9 26.5 L337.4 26.5Z" fill="#C6434A"/>
<path d="M398.2 86.4 L399.7 86.6 L401.2 86.8 L402.7 86.9 L404.2 87.0 L405.7 87.1 L407.2 87.3 L408.7 87.3 L410.2 87.4 L411.7 87.5 L413.2 87.5 L414.7 87.5 L416.2 87.5 L417.7 87.5 L419.2 87.5 L420.7 87.5 L422.2 87.4 L423.7 87.4 L425.2 87.3 L426.7 87.3 L428.2 87.2 L429.7 87.1 L430.7 87.0 L430.7 87.8 L429.7 87.9 L428.2 87.9 L426.7 88.0 L425.2 88.0 L423.7 88.1 L422.2 88.1 L420.7 88.1 L419.2 88.1 L417.7 88.1 L416.2 88.1 L414.7 88.1 L413.2 88.1 L411.7 88.0 L410.2 87.9 L408.7 87.8 L407.2 87.7 L405.7 87.5 L404.2 87.3 L402.7 87.1 L401.2 86.9 L399.7 86.7 L398.2 86.4Z" fill="#7EDAC0"/>
<path d="M357.3 105.9 L358.8 105.7 L360.3 105.6 L361.8 105.5 L363.3 105.4 L364.8 105.3 L366.3 105.2 L367.8 105.1 L369.3 105.0 L370.8 105.0 L372.3 104.9 L373.8 104.8 L375.3 104.7 L376.8 104.6 L378.3 104.6 L379.8 104.5 L381.3 104.4 L382.8 104.4 L384.3 104.3 L385.8 104.3 L387.3 104.2 L388.8 104.2 L390.3 104.2 L391.8 104.2 L393.3 104.2 L394.8 104.2 L396.3 104.2 L397.8 104.2 L399.3 104.2 L400.8 104.2 L402.3 104.2 L403.8 104.2 L405.3 104.2 L406.8 104.2 L408.3 104.2 L409.8 104.2 L411.3 104.2 L412.8 104.2 L414.3 104.2 L415.8 104.2 L417.3 104.2 L418.8 104.3 L420.3 104.3 L421.8 104.3 L423.3 104.3 L424.8 104.3 L426.3 104.4 L427.8 104.4 L429.3 104.4 L430.8 104.5 L430.8 105.3 L429.3 105.2 L427.8 105.2 L426.3 105.1 L424.8 105.1 L423.3 105.1 L421.8 105.0 L420.3 105.0 L418.8 105.0 L417.3 104.9 L415.8 104.9 L414.3 104.9 L412.8 104.9 L411.3 104.8 L409.8 104.8 L408.3 104.8 L406.8 104.8 L405.3 104.8 L403.8 104.8 L402.3 104.8 L400.8 104.8 L399.3 104.8 L397.8 104.8 L396.3 104.8 L394.8 104.8 L393.3 104.8 L391.8 104.8 L390.3 104.8 L388.8 104.8 L387.3 104.8 L385.8 104.8 L384.3 104.9 L382.8 104.9 L381.3 104.9 L379.8 105.0 L378.3 105.0 L376.8 105.0 L375.3 105.1 L373.8 105.1 L372.3 105.2 L370.8 105.2 L369.3 105.3 L367.8 105.4 L366.3 105.4 L364.8 105.5 L363.3 105.6 L361.8 105.6 L360.3 105.7 L358.8 105.8 L357.3 105.9Z" fill="#D6C1AF"/>
<path d="M335.4 103.7 L336.9 103.7 L338.4 103.7 L339.9 103.7 L341.4 103.7 L342.9 103.7 L344.4 103.7 L345.9 103.7 L347.4 103.7 L348.9 103.6 L350.4 103.6 L351.9 103.6 L353.4 103.6 L354.9 103.6 L356.4 103.6 L357.9 103.6 L359.4 103.5 L360.9 103.5 L362.4 103.5 L363.9 103.5 L365.4 103.5 L366.9 103.5 L368.4 103.4 L369.9 103.4 L371.4 103.4 L372.9 103.4 L374.4 103.4 L375.9 103.3 L377.4 103.3 L378.9 103.3 L380.4 103.3 L381.9 103.2 L383.4 103.2 L384.9 103.2 L386.4 103.2 L387.9 103.1 L389.4 103.1 L390.9 103.1 L392.4 103.1 L393.9 103.0 L395.4 103.0 L396.9 103.0 L398.4 102.9 L399.9 102.9 L401.4 102.9 L402.9 102.8 L404.4 102.8 L405.9 102.7 L407.4 102.7 L408.9 102.7 L410.4 102.6 L411.9 102.6 L413.4 102.5 L414.9 102.5 L416.4 102.4 L417.9 102.4 L419.4 102.3 L420.9 102.3 L422.4 102.2 L423.9 102.2 L425.4 102.1 L426.9 102.1 L428.4 102.0 L429.9 102.0 L430.9 101.9 L430.9 102.7 L429.9 102.7 L428.4 102.8 L426.9 102.8 L425.4 102.9 L423.9 102.9 L422.4 103.0 L420.9 103.0 L419.4 103.1 L417.9 103.1 L416.4 103.2 L414.9 103.2 L413.4 103.3 L411.9 103.3 L410.4 103.4 L408.9 103.4 L407.4 103.4 L405.9 103.5 L404.4 103.5 L402.9 103.5 L401.4 103.6 L399.9 103.6 L398.4 103.6 L396.9 103.6 L395.4 103.7 L393.9 103.7 L392.4 103.7 L390.9 103.7 L389.4 103.7 L387.9 103.7 L386.4 103.8 L384.9 103.8 L383.4 103.8 L381.9 103.8 L380.4 103.8 L378.9 103.8 L377.4 103.8 L375.9 103.8 L374.4 103.8 L372.9 103.8 L371.4 103.8 L369.9 103.8 L368.4 103.8 L366.9 103.8 L365.4 103.8 L363.9 103.8 L362.4 103.8 L360.9 103.8 L359.4 103.8 L357.9 103.8 L356.4 103.8 L354.9 103.8 L353.4 103.8 L351.9 103.7 L350.4 103.7 L348.9 103.7 L347.4 103.7 L345.9 103.7 L344.4 103.7 L342.9 103.7 L341.4 103.7 L339.9 103.7 L338.4 103.7 L336.9 103.7 L335.4 103.7Z" fill="#E5D84A"/>
<path d="M382.9 127.1 L384.4 126.9 L385.9 126.7 L387.4 126.6 L388.9 126.4 L390.4 126.3 L391.9 126.1 L393.4 126.0 L394.9 125.8 L396.4 125.7 L397.9 125.6 L399.4 125.5 L400.9 125.4 L402.4 125.3 L403.9 125.2 L405.4 125.1 L406.9 125.1 L408.4 125.0 L409.9 125.0 L411.4 125.0 L412.9 124.9 L414.4 124.9 L415.9 124.9 L417.4 124.8 L418.9 124.8 L420.4 124.8 L421.9 124.8 L423.4 124.8 L424.9 124.7 L426.4 124.7 L427.9 124.7 L429.4 124.7 L430.9 124.7 L430.9 126.1 L429.4 126.1 L427.9 126.0 L426.4 126.0 L424.9 126.0 L423.4 126.0 L421.9 126.0 L420.4 126.0 L418.9 126.0 L417.4 126.0 L415.9 126.0 L414.4 126.0 L412.9 126.0 L411.4 126.0 L409.9 126.0 L408.4 126.0 L406.9 126.0 L405.4 126.0 L403.9 126.1 L402.4 126.1 L400.9 126.1 L399.4 126.2 L397.9 126.2 L396.4 126.3 L394.9 126.4 L393.4 126.4 L391.9 126.5 L390.4 126.6 L388.9 126.7 L387.4 126.8 L385.9 126.9 L384.4 127.0 L382.9 127.1Z" fill="#CC9BCC"/>
<path d="M380.1 82.6 L381.6 82.6 L383.1 82.6 L384.6 82.6 L386.1 82.6 L387.6 82.6 L389.1 82.6 L390.6 82.6 L392.1 82.6 L393.6 82.6 L395.1 82.6 L396.6 82.6 L398.1 82.6 L399.6 82.6 L401.1 82.5 L402.6 82.5 L404.1 82.5 L405.6 82.5 L407.1 82.5 L408.6 82.4 L410.1 82.4 L411.6 82.3 L413.1 82.3 L414.6 82.2 L416.1 82.1 L417.6 82.0 L419.1 81.9 L420.6 81.8 L422.1 81.7 L423.6 81.6 L425.1 81.5 L426.6 81.4 L428.1 81.3 L429.6 81.1 L430.6 81.0 L430.6 82.0 L429.6 82.1 L428.1 82.2 L426.6 82.3 L425.1 82.4 L423.6 82.5 L422.1 82.6 L420.6 82.7 L419.1 82.8 L417.6 82.9 L416.1 82.9 L414.6 83.0 L413.1 83.1 L411.6 83.1 L410.1 83.1 L408.6 83.2 L407.1 83.2 L405.6 83.2 L404.1 83.2 L402.6 83.2 L401.1 83.2 L399.6 83.2 L398.1 83.2 L396.6 83.1 L395.1 83.1 L393.6 83.1 L392.1 83.1 L390.6 83.0 L389.1 83.0 L387.6 83.0 L386.1 82.9 L384.6 82.8 L383.1 82.8 L381.6 82.7 L380.1 82.6Z" fill="#C6434A"/>
<path d="M332.8 100.7 L334.3 100.7 L335.8 100.6 L337.3 100.5 L338.8 100.4 L340.3 100.3 L341.8 100.3 L343.3 100.2 L344.8 100.1 L346.3 100.0 L347.8 100.0 L349.3 99.9 L350.8 99.8 L352.3 99.7 L353.8 99.7 L355.3 99.6 L356.8 99.5 L358.3 99.5 L359.8 99.4 L361.3 99.4 L362.8 99.3 L364.3 99.2 L365.8 99.2 L367.3 99.1 L368.8 99.1 L370.3 99.1 L371.8 99.0 L373.3 99.0 L374.8 98.9 L376.3 98.9 L377.8 98.9 L379.3 98.8 L380.8 98.8 L382.3 98.8 L383.8 98.8 L385.3 98.8 L386.8 98.7 L388.3 98.7 L389.8 98.7 L391.3 98.7 L392.8 98.7 L394.3 98.6 L395.8 98.6 L397.3 98.6 L398.8 98.6 L400.3 98.6 L401.8 98.6 L403.3 98.6 L404.8 98.5 L406.3 98.5 L407.8 98.5 L409.3 98.5 L410.8 98.5 L412.3 98.5 L413.8 98.5 L415.3 98.5 L416.8 98.5 L418.3 98.4 L419.8 98.4 L421.3 98.4 L422.8 98.4 L424.3 98.4 L425.8 98.4 L427.3 98.4 L428.8 98.4 L430.3 98.4 L430.8 98.4 L430.8 99.1 L430.3 99.1 L428.8 99.1 L427.3 99.1 L425.8 99.1 L424.3 99.1 L422.8 99.1 L421.3 99.1 L419.8 99.1 L418.3 99.1 L416.8 99.1 L415.3 99.1 L413.8 99.1 L412.3 99.1 L410.8 99.1 L409.3 99.1 L407.8 99.1 L406.3 99.1 L404.8 99.2 L403.3 99.2 L401.8 99.2 L400.3 99.2 L398.8 99.2 L397.3 99.2 L395.8 99.2 L394.3 99.2 L392.8 99.2 L391.3 99.2 L389.8 99.2 L388.3 99.2 L386.8 99.2 L385.3 99.3 L383.8 99.3 L382.3 99.3 L380.8 99.3 L379.3 99.3 L377.8 99.3 L376.3 99.3 L374.8 99.4 L373.3 99.4 L371.8 99.4 L370.3 99.4 L368.8 99.5 L367.3 99.5 L365.8 99.5 L364.3 99.6 L362.8 99.6 L361.3 99.7 L359.8 99.7 L358.3 99.8 L356.8 99.8 L355.3 99.9 L353.8 99.9 L352.3 100.0 L350.8 100.0 L349.3 100.1 L347.8 100.1 L346.3 100.2 L344.8 100.2 L343.3 100.3 L341.8 100.4 L340.3 100.4 L338.8 100.5 L337.3 100.6 L335.8 100.6 L334.3 100.7 L332.8 100.7Z" fill="#DB5827"/>
<path d="M349.5 100.1 L351.0 100.0 L352.5 100.0 L354.0 100.0 L355.5 100.0 L357.0 100.0 L358.5 99.9 L360.0 99.9 L361.5 99.9 L363.0 99.9 L364.5 99.9 L366.0 99.8 L367.5 99.8 L369.0 99.8 L370.5 99.8 L372.0 99.7 L373.5 99.7 L375.0 99.7 L376.5 99.7 L378.0 99.6 L379.5 99.6 L381.0 99.6 L382.5 99.5 L384.0 99.5 L385.5 99.5 L387.0 99.5 L388.5 99.4 L390.0 99.4 L391.5 99.4 L393.0 99.3 L394.5 99.3 L396.0 99.3 L397.5 99.2 L399.0 99.2 L400.5 99.2 L402.0 99.1 L403.5 99.1 L405.0 99.1 L406.5 99.0 L408.0 99.0 L409.5 98.9 L411.0 98.9 L412.5 98.9 L414.0 98.8 L415.5 98.8 L417.0 98.7 L418.5 98.7 L420.0 98.6 L421.5 98.6 L423.0 98.5 L424.5 98.5 L426.0 98.5 L427.5 98.4 L429.0 98.4 L430.5 98.3 L430.5 98.9 L429.0 98.9 L427.5 99.0 L426.0 99.0 L424.5 99.1 L423.0 99.1 L421.5 99.1 L420.0 99.2 L418.5 99.2 L417.0 99.3 L415.5 99.3 L414.0 99.3 L412.5 99.4 L411.0 99.4 L409.5 99.5 L408.0 99.5 L406.5 99.5 L405.0 99.6 L403.5 99.6 L402.0 99.6 L400.5 99.6 L399.0 99.7 L397.5 99.7 L396.0 99.7 L394.5 99.7 L393.0 99.8 L391.5 99.8 L390.0 99.8 L388.5 99.8 L387.0 99.8 L385.5 99.8 L384.0 99.9 L382.5 99.9 L381.0 99.9 L379.5 99.9 L378.0 99.9 L376.5 99.9 L375.0 99.9 L373.5 99.9 L372.0 100.0 L370.5 100.0 L369.0 100.0 L367.5 100.0 L366.0 100.0 L364.5 100.0 L363.0 100.0 L361.5 100.0 L360.0 100.0 L358.5 100.0 L357.0 100.0 L355.5 100.0 L354.0 100.1 L352.5 100.1 L351.0 100.1 L349.5 100.1Z" fill="#C6434A"/>
<path d="M369.9 75.2 L371.4 75.1 L372.9 75.1 L374.4 75.0 L375.9 74.9 L377.4 74.9 L378.9 74.8 L380.4 74.7 L381.9 74.7 L383.4 74.6 L384.9 74.6 L386.4 74.6 L387.9 74.5 L389.4 74.5 L390.9 74.5 L392.4 74.5 L393.9 74.5 L395.4 74.4 L396.9 74.4 L398.4 74.4 L399.9 74.4 L401.4 74.4 L402.9 74.4 L404.4 74.5 L405.9 74.5 L407.4 74.5 L408.9 74.5 L410.4 74.6 L411.9 74.6 L413.4 74.7 L414.9 74.8 L416.4 74.8 L417.9 74.9 L419.4 75.0 L420.9 75.0 L422.4 75.1 L423.9 75.2 L425.4 75.3 L426.9 75.4 L428.4 75.5 L429.9 75.6 L430.9 75.7 L430.9 76.9 L429.9 76.8 L428.4 76.7 L426.9 76.5 L425.4 76.4 L423.9 76.3 L422.4 76.2 L420.9 76.1 L419.4 76.0 L417.9 75.9 L416.4 75.8 L414.9 75.7 L413.4 75.6 L411.9 75.6 L410.4 75.5 L408.9 75.4 L407.4 75.4 L405.9 75.3 L404.4 75.3 L402.9 75.3 L401.4 75.3 L399.9 75.3 L398.4 75.2 L396.9 75.2 L395.4 75.2 L393.9 75.2 L392.4 75.2 L390.9 75.2 L389.4 75.2 L387.9 75.2 L386.4 75.2 L384.9 75.2 L383.4 75.2 L381.9 75.2 L380.4 75.2 L378.9 75.2 L377.4 75.2 L375.9 75.2 L374.4 75.2 L372.9 75.2 L371.4 75.2 L369.9 75.2Z" fill="#C6434A"/>
<path d="M339.2 113.7 L340.7 113.7 L342.2 113.7 L343.7 113.8 L345.2 113.8 L346.7 113.8 L348.2 113.8 L349.7 113.8 L351.2 113.8 L352.7 113.8 L354.2 113.8 L355.7 113.8 L357.2 113.8 L358.7 113.9 L360.2 113.9 L361.7 113.9 L363.2 113.9 L364.7 113.9 L366.2 113.9 L367.7 113.9 L369.2 113.9 L370.7 113.9 L372.2 113.9 L373.7 113.9 L375.2 113.9 L376.7 113.9 L378.2 113.9 L379.7 113.9 L381.2 113.9 L382.7 113.9 L384.2 113.9 L385.7 113.9 L387.2 113.9 L388.7 113.9 L390.2 113.9 L391.7 113.9 L393.2 113.9 L394.7 113.9 L396.2 113.9 L397.7 113.9 L399.2 113.9 L400.7 113.9 L402.2 113.9 L403.7 113.9 L405.2 113.9 L406.7 113.9 L408.2 113.9 L409.7 113.9 L411.2 113.9 L412.7 113.9 L414.2 113.9 L415.7 113.9 L417.2 113.9 L418.7 113.9 L420.2 113.9 L421.7 113.9 L423.2 113.9 L424.7 113.9 L426.2 113.8 L427.7 113.8 L429.2 113.8 L430.7 113.8 L430.7 115.0 L429.2 115.0 L427.7 115.0 L426.2 115.0 L424.7 115.0 L423.2 115.0 L421.7 115.0 L420.2 115.0 L418.7 115.0 L417.2 115.0 L415.7 115.0 L414.2 115.0 L412.7 115.0 L411.2 115.0 L409.7 115.0 L408.2 114.9 L406.7 114.9 L405.2 114.9 L403.7 114.9 L402.2 114.9 L400.7 114.9 L399.2 114.9 L397.7 114.9 L396.2 114.9 L394.7 114.9 L393.2 114.8 L391.7 114.8 L390.2 114.8 L388.7 114.8 L387.2 114.8 L385.7 114.8 L384.2 114.8 L382.7 114.8 L381.2 114.7 L379.7 114.7 L378.2 114.7 L376.7 114.7 L375.2 114.6 L373.7 114.6 L372.2 114.6 L370.7 114.6 L369.2 114.5 L367.7 114.5 L366.2 114.5 L364.7 114.4 L363.2 114.4 L361.7 114.4 L360.2 114.3 L358.7 114.3 L357.2 114.3 L355.7 114.2 L354.2 114.2 L352.7 114.1 L351.2 114.1 L349.7 114.0 L348.2 114.0 L346.7 114.0 L345.2 113.9 L343.7 113.9 L342.2 113.8 L340.7 113.8 L339.2 113.7Z" fill="#D050D8"/>
<path d="M340.5 96.9 L342.0 96.8 L343.5 96.7 L345.0 96.6 L346.5 96.5 L348.0 96.4 L349.5 96.3 L351.0 96.2 L352.5 96.2 L354.0 96.1 L355.5 96.0 L357.0 95.9 L358.5 95.8 L360.0 95.8 L361.5 95.7 L363.0 95.6 L364.5 95.5 L366.0 95.5 L367.5 95.4 L369.0 95.4 L370.5 95.3 L372.0 95.3 L373.5 95.2 L375.0 95.2 L376.5 95.1 L378.0 95.1 L379.5 95.0 L381.0 95.0 L382.5 95.0 L384.0 95.0 L385.5 95.0 L387.0 94.9 L388.5 94.9 L390.0 94.9 L391.5 94.9 L393.0 94.9 L394.5 94.9 L396.0 94.9 L397.5 94.9 L399.0 94.9 L400.5 94.8 L402.0 94.8 L403.5 94.8 L405.0 94.8 L406.5 94.8 L408.0 94.8 L409.5 94.8 L411.0 94.8 L412.5 94.8 L414.0 94.8 L415.5 94.8 L417.0 94.8 L418.5 94.8 L420.0 94.8 L421.5 94.8 L423.0 94.8 L424.5 94.8 L426.0 94.8 L427.5 94.8 L429.0 94.8 L430.5 94.7 L431.0 94.7 L431.0 95.7 L430.5 95.7 L429.0 95.7 L427.5 95.7 L426.0 95.7 L424.5 95.7 L423.0 95.6 L421.5 95.6 L420.0 95.6 L418.5 95.6 L417.0 95.6 L415.5 95.6 L414.0 95.6 L412.5 95.6 L411.0 95.6 L409.5 95.6 L408.0 95.6 L406.5 95.6 L405.0 95.6 L403.5 95.6 L402.0 95.6 L400.5 95.6 L399.0 95.6 L397.5 95.6 L396.0 95.6 L394.5 95.6 L393.0 95.6 L391.5 95.6 L390.0 95.6 L388.5 95.6 L387.0 95.6 L385.5 95.6 L384.0 95.6 L382.5 95.6 L381.0 95.6 L379.5 95.6 L378.0 95.7 L376.5 95.7 L375.0 95.7 L373.5 95.7 L372.0 95.8 L370.5 95.8 L369.0 95.8 L367.5 95.9 L366.0 95.9 L364.5 96.0 L363.0 96.0 L361.5 96.0 L360.0 96.1 L358.5 96.1 L357.0 96.2 L355.5 96.3 L354.0 96.3 L352.5 96.4 L351.0 96.4 L349.5 96.5 L348.0 96.6 L346.5 96.6 L345.0 96.7 L343.5 96.7 L342.0 96.8 L340.5 96.9Z" fill="#7EDAC0"/>
<path d="M336.9 116.5 L338.4 116.5 L339.9 116.5 L341.4 116.5 L342.9 116.5 L344.4 116.4 L345.9 116.4 L347.4 116.4 L348.9 116.3 L350.4 116.3 L351.9 116.3 L353.4 116.3 L354.9 116.2 L356.4 116.2 L357.9 116.2 L359.4 116.1 L360.9 116.1 L362.4 116.1 L363.9 116.1 L365.4 116.0 L366.9 116.0 L368.4 116.0 L369.9 115.9 L371.4 115.9 L372.9 115.9 L374.4 115.8 L375.9 115.8 L377.4 115.7 L378.9 115.7 L380.4 115.7 L381.9 115.6 L383.4 115.6 L384.9 115.6 L386.4 115.5 L387.9 115.5 L389.4 115.4 L390.9 115.4 L392.4 115.4 L393.9 115.3 L395.4 115.3 L396.9 115.2 L398.4 115.2 L399.9 115.2 L401.4 115.1 L402.9 115.1 L404.4 115.0 L405.9 115.0 L407.4 114.9 L408.9 114.9 L410.4 114.8 L411.9 114.8 L413.4 114.7 L414.9 114.7 L416.4 114.6 L417.9 114.6 L419.4 114.5 L420.9 114.5 L422.4 114.4 L423.9 114.4 L425.4 114.3 L426.9 114.3 L428.4 114.2 L429.9 114.2 L430.9 114.1 L430.9 115.7 L429.9 115.7 L428.4 115.8 L426.9 115.8 L425.4 115.9 L423.9 115.9 L422.4 116.0 L420.9 116.0 L419.4 116.1 L417.9 116.1 L416.4 116.1 L414.9 116.2 L413.4 116.2 L411.9 116.3 L410.4 116.3 L408.9 116.3 L407.4 116.4 L405.9 116.4 L404.4 116.4 L402.9 116.5 L401.4 116.5 L399.9 116.5 L398.4 116.6 L396.9 116.6 L395.4 116.6 L393.9 116.6 L392.4 116.6 L390.9 116.6 L389.4 116.7 L387.9 116.7 L386.4 116.7 L384.9 116.7 L383.4 116.7 L381.9 116.7 L380.4 116.7 L378.9 116.7 L377.4 116.7 L375.9 116.7 L374.4 116.7 L372.9 116.7 L371.4 116.7 L369.9 116.7 L368.4 116.7 L366.9 116.7 L365.4 116.7 L363.9 116.7 L362.4 116.7 L360.9 116.7 L359.4 116.7 L357.9 116.7 L356.4 116.7 L354.9 116.6 L353.4 116.6 L351.9 116.6 L350.4 116.6 L348.9 116.6 L347.4 116.6 L345.9 116.6 L344.4 116.6 L342.9 116.6 L341.4 116.6 L339.9 116.6 L338.4 116.6 L336.9 116.5Z" fill="#C8B040"/>
<path d="M394.5 124.5 L396.0 124.4 L397.5 124.2 L399.0 124.1 L400.5 124.0 L402.0 123.9 L403.5 123.8 L405.0 123.7 L406.5 123.6 L408.0 123.6 L409.5 123.5 L411.0 123.5 L412.5 123.5 L414.0 123.5 L415.5 123.5 L417.0 123.5 L418.5 123.6 L420.0 123.6 L421.5 123.7 L423.0 123.8 L424.5 123.8 L426.0 123.9 L427.5 124.0 L429.0 124.1 L430.5 124.3 L430.5 124.9 L429.0 124.8 L427.5 124.7 L426.0 124.5 L424.5 124.4 L423.0 124.3 L421.5 124.2 L420.0 124.1 L418.5 124.1 L417.0 124.0 L415.5 124.0 L414.0 124.0 L412.5 124.0 L411.0 123.9 L409.5 124.0 L408.0 124.0 L406.5 124.0 L405.0 124.0 L403.5 124.1 L402.0 124.1 L400.5 124.2 L399.0 124.2 L397.5 124.3 L396.0 124.4 L394.5 124.5Z" fill="#D24284"/>
<path d="M394.2 128.5 L395.7 128.4 L397.2 128.2 L398.7 128.0 L400.2 127.9 L401.7 127.8 L403.2 127.6 L404.7 127.5 L406.2 127.4 L407.7 127.3 L409.2 127.2 L410.7 127.2 L412.2 127.1 L413.7 127.0 L415.2 127.0 L416.7 127.0 L418.2 126.9 L419.7 126.9 L421.2 126.9 L422.7 126.9 L424.2 126.8 L425.7 126.8 L427.2 126.8 L428.7 126.8 L430.2 126.8 L430.7 126.8 L430.7 128.2 L430.2 128.2 L428.7 128.1 L427.2 128.1 L425.7 128.1 L424.2 128.1 L422.7 128.1 L421.2 128.1 L419.7 128.0 L418.2 128.0 L416.7 128.0 L415.2 128.0 L413.7 128.0 L412.2 128.0 L410.7 128.1 L409.2 128.1 L407.7 128.1 L406.2 128.1 L404.7 128.2 L403.2 128.2 L401.7 128.2 L400.2 128.3 L398.7 128.3 L397.2 128.4 L395.7 128.5 L394.2 128.5Z" fill="#D24284"/>
<path d="M349.9 81.0 L351.4 81.0 L352.9 80.9 L354.4 80.9 L355.9 80.8 L357.4 80.8 L358.9 80.8 L360.4 80.7 L361.9 80.7 L363.4 80.6 L364.9 80.6 L366.4 80.6 L367.9 80.5 L369.4 80.5 L370.9 80.5 L372.4 80.5 L373.9 80.4 L375.4 80.4 L376.9 80.4 L378.4 80.4 L379.9 80.3 L381.4 80.3 L382.9 80.3 L384.4 80.3 L385.9 80.3 L387.4 80.3 L388.9 80.3 L390.4 80.3 L391.9 80.3 L393.4 80.3 L394.9 80.3 L396.4 80.3 L397.9 80.3 L399.4 80.3 L400.9 80.3 L402.4 80.3 L403.9 80.3 L405.4 80.3 L406.9 80.3 L408.4 80.3 L409.9 80.3 L411.4 80.3 L412.9 80.3 L414.4 80.3 L415.9 80.4 L417.4 80.4 L418.9 80.4 L420.4 80.4 L421.9 80.4 L423.4 80.4 L424.9 80.5 L426.4 80.5 L427.9 80.5 L429.4 80.5 L430.9 80.6 L430.9 81.5 L429.4 81.5 L427.9 81.4 L426.4 81.4 L424.9 81.4 L423.4 81.3 L421.9 81.3 L420.4 81.3 L418.9 81.2 L417.4 81.2 L415.9 81.2 L414.4 81.2 L412.9 81.1 L411.4 81.1 L409.9 81.1 L408.4 81.1 L406.9 81.0 L405.4 81.0 L403.9 81.0 L402.4 81.0 L400.9 81.0 L399.4 81.0 L397.9 81.0 L396.4 80.9 L394.9 80.9 L393.4 80.9 L391.9 80.9 L390.4 80.9 L388.9 80.9 L387.4 80.9 L385.9 80.9 L384.4 80.9 L382.9 80.9 L381.4 80.9 L379.9 80.9 L378.4 80.9 L376.9 80.9 L375.4 80.9 L373.9 80.9 L372.4 80.9 L370.9 80.9 L369.4 80.9 L367.9 80.9 L366.4 80.9 L364.9 80.9 L363.4 81.0 L361.9 81.0 L360.4 81.0 L358.9 81.0 L357.4 81.0 L355.9 81.0 L354.4 81.0 L352.9 81.0 L351.4 81.0 L349.9 81.0Z" fill="#C8B040"/>
<path d="M378.5 118.7 L380.0 118.6 L381.5 118.6 L383.0 118.5 L384.5 118.4 L386.0 118.4 L387.5 118.3 L389.0 118.3 L390.5 118.2 L392.0 118.2 L393.5 118.1 L395.0 118.1 L396.5 118.0 L398.0 118.0 L399.5 118.0 L401.0 117.9 L402.5 117.9 L404.0 117.9 L405.5 117.9 L407.0 117.9 L408.5 117.9 L410.0 117.9 L411.5 117.9 L413.0 117.9 L414.5 117.9 L416.0 117.8 L417.5 117.8 L419.0 117.8 L420.5 117.8 L422.0 117.8 L423.5 117.8 L425.0 117.8 L426.5 117.8 L428.0 117.8 L429.5 117.8 L431.0 117.8 L431.0 118.6 L429.5 118.6 L428.0 118.5 L426.5 118.5 L425.0 118.5 L423.5 118.5 L422.0 118.5 L420.5 118.5 L419.0 118.5 L417.5 118.5 L416.0 118.5 L414.5 118.4 L413.0 118.4 L411.5 118.4 L410.0 118.4 L408.5 118.4 L407.0 118.4 L405.5 118.4 L404.0 118.4 L402.5 118.4 L401.0 118.4 L399.5 118.4 L398.0 118.5 L396.5 118.5 L395.0 118.5 L393.5 118.5 L392.0 118.5 L390.5 118.5 L389.0 118.5 L387.5 118.6 L386.0 118.6 L384.5 118.6 L383.0 118.6 L381.5 118.6 L380.0 118.7 L378.5 118.7Z" fill="#D6C1AF"/>
<path d="M353.2 134.1 L354.7 134.1 L356.2 134.1 L357.7 134.1 L359.2 134.1 L360.7 134.1 L362.2 134.1 L363.7 134.1 L365.2 134.1 L366.7 134.1 L368.2 134.1 L369.7 134.1 L371.2 134.1 L372.7 134.1 L374.2 134.1 L375.7 134.1 L377.2 134.1 L378.7 134.1 L380.2 134.1 L381.7 134.1 L383.2 134.1 L384.7 134.1 L386.2 134.0 L387.7 134.0 L389.2 134.0 L390.7 134.0 L392.2 134.0 L393.7 134.0 L395.2 134.0 L396.7 134.0 L398.2 134.0 L399.7 134.0 L401.2 133.9 L402.7 133.9 L404.2 133.9 L405.7 133.9 L407.2 133.9 L408.7 133.9 L410.2 133.8 L411.7 133.8 L413.2 133.8 L414.7 133.8 L416.2 133.7 L417.7 133.7 L419.2 133.7 L420.7 133.6 L422.2 133.6 L423.7 133.6 L425.2 133.5 L426.7 133.5 L428.2 133.5 L429.7 133.5 L430.7 133.4 L430.7 134.4 L429.7 134.4 L428.2 134.4 L426.7 134.5 L425.2 134.5 L423.7 134.5 L422.2 134.5 L420.7 134.5 L419.2 134.6 L417.7 134.6 L416.2 134.6 L414.7 134.6 L413.2 134.6 L411.7 134.6 L410.2 134.6 L408.7 134.6 L407.2 134.7 L405.7 134.7 L404.2 134.7 L402.7 134.7 L401.2 134.7 L399.7 134.7 L398.2 134.7 L396.7 134.7 L395.2 134.7 L393.7 134.7 L392.2 134.7 L390.7 134.7 L389.2 134.7 L387.7 134.7 L386.2 134.7 L384.7 134.7 L383.2 134.7 L381.7 134.6 L380.2 134.6 L378.7 134.6 L377.2 134.6 L375.7 134.6 L374.2 134.6 L372.7 134.5 L371.2 134.5 L369.7 134.5 L368.2 134.5 L366.7 134.4 L365.2 134.4 L363.7 134.4 L362.2 134.3 L360.7 134.3 L359.2 134.3 L357.7 134.2 L356.2 134.2 L354.7 134.2 L353.2 134.1Z" fill="#DB5827"/>
<path d="M371.5 89.0 L373.0 89.0 L374.5 89.0 L376.0 89.0 L377.5 88.9 L379.0 88.9 L380.5 88.9 L382.0 88.9 L383.5 88.9 L385.0 88.9 L386.5 88.9 L388.0 88.9 L389.5 88.9 L391.0 88.9 L392.5 88.9 L394.0 88.9 L395.5 88.9 L397.0 88.9 L398.5 88.9 L400.0 88.9 L401.5 88.9 L403.0 88.9 L404.5 88.9 L406.0 88.9 L407.5 89.0 L409.0 89.0 L410.5 89.0 L412.0 89.1 L413.5 89.1 L415.0 89.2 L416.5 89.2 L418.0 89.3 L419.5 89.3 L421.0 89.4 L422.5 89.4 L424.0 89.5 L425.5 89.6 L427.0 89.6 L428.5 89.7 L430.0 89.8 L431.0 89.8 L431.0 91.4 L430.0 91.3 L428.5 91.3 L427.0 91.2 L425.5 91.1 L424.0 91.0 L422.5 91.0 L421.0 90.9 L419.5 90.8 L418.0 90.7 L416.5 90.7 L415.0 90.6 L413.5 90.5 L412.0 90.5 L410.5 90.4 L409.0 90.3 L407.5 90.3 L406.0 90.2 L404.5 90.1 L403.0 90.1 L401.5 90.0 L400.0 90.0 L398.5 89.9 L397.0 89.8 L395.5 89.8 L394.0 89.7 L392.5 89.7 L391.0 89.6 L389.5 89.6 L388.0 89.5 L386.5 89.5 L385.0 89.4 L383.5 89.4 L382.0 89.3 L380.5 89.3 L379.0 89.2 L377.5 89.2 L376.0 89.1 L374.5 89.1 L373.0 89.0 L371.5 89.0Z" fill="#D050D8"/>
<path d="M332.3 83.5 L333.8 83.5 L335.3 83.5 L336.8 83.5 L338.3 83.4 L339.8 83.4 L341.3 83.4 L342.8 83.4 L344.3 83.4 L345.8 83.3 L347.3 83.3 L348.8 83.3 L350.3 83.3 L351.8 83.3 L353.3 83.2 L354.8 83.2 L356.3 83.2 L357.8 83.2 L359.3 83.1 L360.8 83.1 L362.3 83.1 L363.8 83.1 L365.3 83.0 L366.8 83.0 L368.3 83.0 L369.8 83.0 L371.3 82.9 L372.8 82.9 L374.3 82.9 L375.8 82.9 L377.3 82.8 L378.8 82.8 L380.3 82.8 L381.8 82.7 L383.3 82.7 L384.8 82.7 L386.3 82.7 L387.8 82.6 L389.3 82.6 L390.8 82.6 L392.3 82.6 L393.8 82.5 L395.3 82.5 L396.8 82.5 L398.3 82.4 L399.8 82.4 L401.3 82.4 L402.8 82.3 L404.3 82.3 L405.8 82.3 L407.3 82.2 L408.8 82.2 L410.3 82.2 L411.8 82.1 L413.3 82.1 L414.8 82.1 L416.3 82.0 L417.8 82.0 L419.3 82.0 L420.8 81.9 L422.3 81.9 L423.8 81.9 L425.3 81.8 L426.8 81.8 L428.3 81.8 L429.8 81.7 L430.8 81.7 L430.8 83.1 L429.8 83.1 L428.3 83.1 L426.8 83.2 L425.3 83.2 L423.8 83.2 L422.3 83.3 L420.8 83.3 L419.3 83.3 L417.8 83.3 L416.3 83.4 L414.8 83.4 L413.3 83.4 L411.8 83.4 L410.3 83.5 L408.8 83.5 L407.3 83.5 L405.8 83.5 L404.3 83.6 L402.8 83.6 L401.3 83.6 L399.8 83.6 L398.3 83.6 L396.8 83.6 L395.3 83.7 L393.8 83.7 L392.3 83.7 L390.8 83.7 L389.3 83.7 L387.8 83.7 L386.3 83.7 L384.8 83.7 L383.3 83.7 L381.8 83.7 L380.3 83.7 L378.8 83.7 L377.3 83.7 L375.8 83.7 L374.3 83.7 L372.8 83.7 L371.3 83.7 L369.8 83.7 L368.3 83.7 L366.8 83.7 L365.3 83.7 L363.8 83.7 L362.3 83.7 L360.8 83.7 L359.3 83.7 L357.8 83.7 L356.3 83.7 L354.8 83.7 L353.3 83.7 L351.8 83.7 L350.3 83.7 L348.8 83.7 L347.3 83.7 L345.8 83.6 L344.3 83.6 L342.8 83.6 L341.3 83.6 L339.8 83.6 L338.3 83.6 L336.8 83.6 L335.3 83.6 L333.8 83.5 L332.3 83.5Z" fill="#CC9BCC"/>
</g>
<line x1="31.00" y1="151.40" x2="32.90" y2="151.40" stroke="#333" stroke-width="0.8"/>
<text x="29.00" y="153.90" font-size="6.9" text-anchor="end" fill="#4D4D4D">0.00</text>
<line x1="31.00" y1="118.68" x2="32.90" y2="118.68" stroke="#333" stroke-width="0.8"/>
<text x="29.00" y="121.18" font-size="6.9" text-anchor="end" fill="#4D4D4D">0.25</text>
<line x1="31.00" y1="85.95" x2="32.90" y2="85.95" stroke="#333" stroke-width="0.8"/>
<text x="29.00" y="88.45" font-size="6.9" text-anchor="end" fill="#4D4D4D">0.50</text>
<line x1="31.00" y1="53.22" x2="32.90" y2="53.22" stroke="#333" stroke-width="0.8"/>
<text x="29.00" y="55.72" font-size="6.9" text-anchor="end" fill="#4D4D4D">0.75</text>
<line x1="31.00" y1="20.50" x2="32.90" y2="20.50" stroke="#333" stroke-width="0.8"/>
<text x="29.00" y="23.00" font-size="6.9" text-anchor="end" fill="#4D4D4D">1.00</text>
<line x1="52.30" y1="157.60" x2="52.30" y2="159.50" stroke="#333" stroke-width="0.8"/>
<text x="52.30" y="166.90" font-size="6.9" text-anchor="middle" fill="#4D4D4D">0</text>
<line x1="156.80" y1="157.60" x2="156.80" y2="159.50" stroke="#333" stroke-width="0.8"/>
<text x="156.80" y="166.90" font-size="6.9" text-anchor="middle" fill="#4D4D4D">300</text>
<line x1="261.30" y1="157.60" x2="261.30" y2="159.50" stroke="#333" stroke-width="0.8"/>
<text x="261.30" y="166.90" font-size="6.9" text-anchor="middle" fill="#4D4D4D">600</text>
<line x1="365.80" y1="157.60" x2="365.80" y2="159.50" stroke="#333" stroke-width="0.8"/>
<text x="365.80" y="166.90" font-size="6.9" text-anchor="middle" fill="#4D4D4D">900</text>
<text x="246.00" y="177.20" font-size="9.5" text-anchor="middle" fill="#000">generation</text>
<text x="8.00" y="86.00" font-size="9.4" text-anchor="middle" fill="#000" transform="rotate(-90 8.0 86.0)">frequency</text>
<text x="35.20" y="9.80" font-size="10.5" text-anchor="start" fill="#000" font-weight="bold">A</text>
<clipPath id="bclip"><path d="M494.1 38.8 L495.4 38.5 L495.0 36.7 L496.8 36.8 L496.6 35.3 L497.5 34.6 L498.8 34.2 L498.9 32.9 L499.6 32.2 L499.3 30.8 L501.0 30.6 L501.2 29.6 L501.4 28.5 L502.6 28.1 L502.4 26.7 L503.2 26.0 L503.3 24.8 L504.4 24.2 L504.8 23.2 L505.6 22.4 L507.0 22.1 L507.1 20.7 L508.1 20.1 L509.5 19.8 L509.9 19.2 L510.7 18.4 L511.6 17.7 L512.4 16.9 L513.3 16.4 L514.8 17.4 L515.5 16.3 L516.2 15.2 L517.5 15.7 L518.6 15.5 L519.4 14.7 L520.6 14.7 L520.8 12.8 L522.2 13.1 L523.1 12.5 L523.7 11.4 L525.1 11.8 L526.2 11.6 L526.8 10.7 L527.4 9.6 L528.8 10.0 L529.4 9.0 L530.3 8.5 L531.4 8.3 L531.7 6.8 L533.2 7.3 L534.0 6.6 L534.8 6.3 L535.5 5.0 L536.8 5.7 L537.5 4.4 L538.4 3.9 L539.7 5.0 L540.7 4.7 L541.7 4.4 L542.4 3.4 L543.3 2.8 L544.3 2.0 L545.5 3.0 L546.6 3.1 L547.7 3.2 L548.7 2.1 L549.7 1.8 L550.9 2.5 L552.0 2.7 L553.0 2.8 L554.1 1.4 L555.2 1.9 L556.2 2.7 L557.3 1.8 L558.4 2.1 L559.5 1.1 L560.6 2.2 L561.6 2.7 L562.7 2.5 L563.7 2.6 L564.8 2.3 L566.0 1.7 L567.0 2.7 L568.2 1.8 L569.1 3.0 L570.3 1.8 L571.3 3.3 L572.5 2.2 L573.6 2.7 L574.6 2.9 L575.3 3.8 L576.6 3.2 L577.4 3.9 L578.6 3.5 L579.4 4.2 L580.3 4.8 L581.5 4.5 L582.2 5.7 L583.4 5.7 L583.3 6.9 L583.9 7.8 L584.7 8.5 L584.5 9.9 L585.5 10.5 L585.9 11.5 L587.2 11.8 L587.5 12.8 L588.7 13.3 L588.2 15.0 L589.9 15.0 L590.5 15.8 L591.5 16.4 L591.8 17.5 L591.8 18.9 L592.5 19.6 L594.0 19.8 L594.3 20.9 L594.8 21.7 L595.1 22.8 L596.1 23.4 L596.5 24.3 L596.8 25.4 L597.6 26.1 L598.8 26.4 L599.3 27.3 L600.0 28.1 L600.8 28.4 L601.7 29.0 L602.6 29.7 L603.6 30.2 L604.6 30.7 L605.3 31.6 L606.0 32.8 L607.1 32.9 L607.8 33.1 L608.1 34.2 L608.6 35.2 L608.2 36.4 L608.8 37.4 L609.4 38.4 L610.3 39.3 L609.8 40.5 L610.5 41.5 L610.9 42.7 L610.2 44.0 L609.7 45.2 L610.4 46.2 L610.8 47.5 L611.9 47.6 L613.1 47.6 L613.2 49.4 L614.6 49.1 L615.6 49.5 L615.9 50.8 L617.5 50.3 L617.8 51.8 L619.2 51.5 L619.8 52.3 L620.8 52.6 L621.1 54.1 L622.4 53.9 L622.7 55.3 L623.9 55.3 L624.7 56.0 L625.7 56.2 L626.6 56.9 L627.1 57.8 L627.0 59.3 L628.7 59.3 L628.2 61.1 L629.2 61.7 L630.4 62.1 L630.7 63.3 L631.7 63.9 L632.3 64.7 L632.8 65.7 L634.2 66.0 L634.1 67.4 L634.1 68.7 L635.7 68.8 L635.7 70.2 L636.8 70.7 L637.7 71.2 L637.7 72.8 L639.5 72.2 L640.0 73.3 L640.0 74.9 L641.7 74.5 L641.8 76.0 L642.9 76.3 L643.5 77.2 L644.5 77.6 L645.6 77.9 L645.9 79.1 L647.8 79.2 L647.4 80.4 L647.7 81.4 L647.8 82.5 L648.7 83.4 L648.8 84.4 L648.5 85.6 L649.0 86.6 L648.6 87.8 L649.2 88.7 L649.0 89.9 L649.5 90.9 L649.9 91.8 L650.8 92.7 L650.1 94.0 L651.3 95.0 L651.4 96.1 L649.7 96.9 L650.2 98.1 L649.6 99.1 L649.8 100.3 L649.4 101.3 L650.2 102.6 L649.8 103.6 L648.7 104.5 L648.5 105.5 L648.7 106.8 L647.0 107.2 L647.9 108.7 L646.9 109.4 L647.1 110.7 L645.7 111.2 L646.1 112.5 L645.9 113.6 L645.6 114.6 L645.0 115.5 L644.5 116.5 L643.6 117.2 L643.3 118.3 L641.6 118.5 L640.4 119.8 L640.5 121.0 L640.5 122.1 L640.0 123.1 L639.6 124.2 L641.0 125.6 L640.6 126.6 L640.0 127.6 L640.2 128.8 L639.2 129.6 L639.1 130.8 L638.5 131.7 L637.8 132.6 L637.5 133.7 L635.9 133.9 L635.5 134.9 L634.9 135.8 L635.2 137.3 L634.0 137.8 L633.0 138.4 L633.2 139.9 L632.3 140.5 L632.3 141.6 L631.9 142.5 L631.3 143.4 L630.7 144.3 L630.3 145.2 L629.2 145.9 L629.9 147.2 L630.1 148.4 L628.4 148.9 L629.3 150.3 L629.0 151.3 L627.2 151.7 L627.2 152.8 L627.6 154.0 L627.6 155.1 L626.9 155.9 L626.6 156.9 L625.4 157.6 L625.8 158.9 L625.1 160.0 L623.4 159.1 L622.7 160.1 L622.1 161.4 L621.2 161.8 L619.9 161.8 L619.3 162.8 L617.9 162.5 L616.9 163.0 L616.4 164.4 L614.8 163.6 L613.8 164.2 L612.8 164.5 L612.2 165.4 L611.3 165.9 L610.9 167.2 L610.1 168.0 L609.2 168.4 L607.5 167.6 L606.9 168.6 L605.8 168.7 L605.4 170.1 L604.2 170.0 L603.9 171.6 L602.9 172.0 L602.0 172.3 L600.8 172.4 L599.9 172.9 L599.1 173.6 L598.3 174.2 L597.3 174.5 L596.0 174.4 L595.6 175.7 L594.5 175.6 L594.0 177.3 L592.8 177.2 L591.8 177.2 L590.7 177.5 L590.0 178.5 L588.9 178.6 L587.6 178.1 L586.8 179.0 L585.9 179.5 L585.2 180.8 L584.2 181.0 L583.1 180.9 L582.1 181.2 L580.8 179.9 L580.2 181.9 L579.0 181.4 L578.2 182.2 L577.0 181.4 L576.2 182.6 L575.0 182.8 L574.0 182.8 L573.0 182.5 L572.0 182.0 L571.0 181.6 L570.0 182.6 L569.0 182.6 L568.0 181.6 L567.0 181.8 L566.0 183.0 L565.0 181.8 L564.0 181.8 L563.0 183.0 L562.0 182.2 L561.0 183.0 L560.0 183.0 L559.0 182.5 L558.0 182.4 L557.0 182.4 L556.0 182.3 L555.0 182.8 L554.0 181.8 L553.0 182.7 L552.0 181.5 L551.0 182.2 L550.0 182.5 L549.0 182.7 L548.0 182.1 L547.0 182.3 L546.0 181.8 L545.0 182.0 L543.8 182.6 L543.1 181.0 L541.8 182.2 L541.1 180.6 L540.1 180.4 L539.2 180.0 L538.1 180.2 L536.9 180.9 L536.0 180.2 L535.0 180.0 L534.0 179.4 L533.0 179.7 L532.1 178.9 L530.9 179.6 L529.9 179.1 L529.0 178.5 L528.0 178.5 L526.7 178.8 L526.4 177.0 L525.2 176.9 L524.4 176.2 L523.0 176.5 L522.5 175.0 L521.5 174.8 L520.7 174.0 L518.9 174.7 L518.5 173.6 L517.7 173.0 L517.3 172.0 L516.1 171.7 L515.2 171.2 L514.9 170.0 L514.4 169.0 L513.5 168.7 L512.6 167.4 L511.3 168.2 L510.2 168.2 L509.3 167.1 L508.1 167.5 L507.0 167.6 L505.9 167.4 L505.0 166.0 L504.4 166.0 L503.2 165.7 L502.0 165.4 L501.8 164.1 L500.5 164.0 L499.8 163.1 L499.4 162.1 L498.5 161.5 L497.6 160.8 L497.7 159.3 L495.9 159.6 L495.7 158.2 L494.3 158.2 L493.5 157.4 L493.0 156.4 L493.5 154.7 L492.5 154.2 L492.0 153.3 L490.2 153.4 L490.5 151.8 L489.5 151.3 L488.8 150.5 L488.5 149.4 L487.3 149.0 L487.0 148.0 L486.0 147.5 L485.5 146.5 L485.1 145.5 L483.9 145.2 L483.4 144.2 L483.0 143.2 L482.4 142.4 L482.2 141.2 L481.4 140.6 L480.6 139.9 L480.4 138.7 L478.8 138.6 L478.1 138.0 L477.8 136.9 L476.7 136.5 L476.5 135.3 L475.9 134.6 L474.6 134.4 L474.6 133.0 L473.7 132.5 L472.8 131.9 L472.7 130.6 L472.0 130.0 L470.3 129.8 L470.0 128.7 L471.1 127.4 L469.6 126.6 L470.4 125.3 L469.4 124.4 L469.3 123.3 L469.4 122.1 L469.9 120.9 L468.0 120.0 L468.3 118.9 L469.3 117.7 L468.7 116.6 L468.5 115.4 L469.7 114.5 L468.7 113.2 L469.7 112.3 L470.3 111.4 L470.1 110.3 L470.2 109.2 L470.5 108.2 L470.8 107.2 L470.0 106.0 L470.9 105.0 L471.4 104.1 L471.7 103.1 L471.9 102.0 L472.1 101.0 L470.9 99.7 L471.6 98.7 L472.0 97.8 L473.1 97.1 L472.5 95.8 L472.6 94.8 L472.4 93.7 L473.2 92.9 L474.3 92.2 L473.3 90.8 L473.8 89.9 L474.4 89.0 L475.2 88.2 L475.3 87.1 L476.6 86.5 L475.9 85.0 L476.9 84.3 L477.6 83.5 L478.3 82.6 L478.6 81.6 L477.8 80.1 L479.3 79.6 L479.5 78.5 L479.5 77.4 L479.3 76.1 L479.9 75.3 L481.3 74.7 L480.5 73.3 L481.2 72.5 L481.5 71.5 L482.7 70.9 L482.4 69.7 L482.3 68.6 L483.1 67.8 L483.4 66.8 L484.4 66.1 L484.1 65.0 L484.6 63.9 L484.3 62.9 L484.8 61.7 L484.4 60.7 L483.7 59.7 L483.8 58.6 L483.6 57.5 L484.3 56.4 L482.9 55.4 L483.3 54.3 L483.6 53.2 L483.5 52.1 L483.9 51.1 L483.8 50.0 L483.8 48.9 L484.4 47.9 L483.9 46.7 L484.5 45.7 L484.6 45.0 L484.9 43.5 L486.0 43.3 L487.5 43.7 L488.4 43.2 L489.3 42.7 L489.3 40.7 L490.9 41.4 L491.9 41.1 L492.7 40.5 L493.4 39.7Z"/></clipPath>
<filter id="rough" x="-5%" y="-5%" width="110%" height="110%"><feTurbulence type="fractalNoise" baseFrequency="0.55" numOctaves="2" seed="3" result="n"/><feDisplacementMap in="SourceGraphic" in2="n" scale="3.2" xChannelSelector="R" yChannelSelector="G"/></filter>
<g filter="url(#rough)"><g clip-path="url(#bclip)">
<rect x="460.00" y="0.00" width="200.00" height="190.00" fill="#6B8F35"/>
<path d="M604.0 43.7 L605.0 43.7 L606.0 44.4 L607.0 43.4 L608.0 44.1 L609.0 44.3 L610.0 43.6 L611.0 43.4 L612.2 43.8 L612.5 45.0 L613.3 45.7 L614.4 46.2 L614.7 47.2 L615.1 48.3 L616.1 48.9 L616.5 49.9 L616.8 51.0 L617.9 51.6 L618.9 51.8 L619.9 52.1 L620.7 52.8 L621.4 53.5 L622.0 54.5 L622.9 54.9 L624.1 54.9 L624.5 56.2 L625.7 56.2 L626.1 57.2 L627.4 57.6 L628.1 58.5 L628.6 59.4 L628.5 60.9 L629.4 61.6 L629.8 62.6 L630.7 63.3 L631.6 63.9 L632.1 64.9 L632.7 65.8 L633.1 66.8 L634.2 67.3 L634.3 68.6 L635.3 69.2 L635.7 70.2 L636.7 70.8 L637.2 71.8 L638.3 72.1 L639.0 72.9 L640.1 73.2 L641.0 73.8 L641.8 74.3 L642.0 75.7 L643.0 76.1 L643.4 77.2 L644.3 77.8 L645.5 78.0 L645.8 79.3 L646.9 79.4 L647.0 80.5 L647.9 81.3 L648.5 82.2 L648.9 83.1 L649.3 84.1 L649.1 85.3 L650.1 86.0 L650.6 87.0 L649.9 88.3 L651.3 88.9 L651.2 90.1 L651.5 91.1 L651.7 92.1 L652.2 93.1 L652.1 94.2 L652.7 94.9 L652.7 96.0 L652.4 97.0 L652.4 98.0 L651.6 98.9 L652.4 100.1 L651.5 100.9 L651.5 102.0 L652.0 103.1 L651.5 104.1 L650.5 104.7 L650.2 105.8 L650.8 107.1 L650.0 107.9 L649.9 109.0 L648.4 109.5 L648.9 110.8 L648.6 111.8 L647.0 112.1 L647.2 113.4 L646.9 114.4 L646.9 115.5 L646.0 116.2 L645.6 117.2 L645.0 118.0 L645.3 119.2 L644.8 120.2 L644.4 121.1 L643.7 122.0 L643.6 123.1 L642.8 123.9 L643.0 125.1 L641.8 125.8 L641.4 126.8 L642.3 128.2 L641.7 129.1 L640.9 130.0 L640.1 130.6 L640.4 132.1 L639.7 132.8 L638.8 133.5 L637.9 134.2 L637.1 134.8 L636.6 135.7 L636.1 136.6 L636.4 138.1 L634.7 138.2 L634.6 139.3 L634.6 140.6 L633.9 141.3 L632.8 141.9 L632.8 143.0 L632.4 143.9 L631.6 144.7 L631.2 145.6 L631.3 146.7 L630.6 147.5 L630.8 148.7 L629.7 149.3 L629.9 150.5 L629.0 151.2 L629.9 152.6 L628.5 153.2 L628.6 154.3 L628.1 155.1 L628.4 156.3 L627.6 157.1 L627.6 158.2 L627.3 159.5 L626.4 160.1 L624.9 159.6 L624.1 160.4 L623.5 161.5 L622.6 162.0 L621.5 162.3 L620.3 162.4 L619.9 163.8 L618.4 163.3 L617.5 163.8 L617.0 165.2 L615.8 165.3 L615.1 166.2 L613.9 166.3 L613.5 167.6 L612.3 167.7 L611.3 168.1 L610.4 168.6 L609.4 169.0 L608.4 169.3 L607.9 170.7 L607.1 171.3 L606.0 171.6 L605.0 171.9 L603.8 172.0 L603.0 172.8 L602.1 173.4 L601.0 173.6 L600.6 175.0 L599.7 175.6 L598.7 175.9 L597.9 176.6 L596.7 176.7 L595.6 176.9 L595.2 178.5 L594.0 178.4 L592.9 178.6 L592.0 179.2 L590.8 179.1 L589.9 179.7 L588.8 179.9 L588.2 181.3 L587.2 181.6 L586.2 182.2 L584.9 181.5 L583.9 181.5 L583.1 183.0 L581.9 182.1 L580.9 182.3 L579.9 182.2 L579.1 183.3 L578.0 182.8 L577.1 183.6 L576.1 184.0 L574.9 183.3 L574.1 184.4 L573.0 183.6 L572.0 184.4 L571.0 184.3 L569.9 183.9 L569.1 184.9 L568.0 184.8 L567.0 185.1 L566.1 185.5 L565.0 185.2 L564.1 185.8 L562.9 185.1 L562.0 185.5 L561.0 186.1 L560.0 185.3 L559.0 186.2 L558.0 185.8 L557.0 185.7 L556.0 186.3 L555.0 186.7 L554.0 185.5 L553.0 185.4 L552.0 186.5 L551.0 186.5 L550.0 186.1 L549.0 185.9 L548.0 185.3 L547.0 185.4 L546.0 185.3 L545.0 186.4 L544.0 185.9 L543.0 186.1 L542.0 186.4 L541.0 186.6 L540.0 186.5 L539.0 186.2 L538.0 186.6 L537.0 186.5 L536.0 186.6 L535.0 185.8 L534.0 186.0 L533.0 186.4 L532.0 186.0 L531.0 186.1 L530.0 185.8 L529.0 185.4 L527.8 186.0 L528.2 185.0 L527.6 184.0 L528.6 183.0 L528.2 182.0 L527.5 181.0 L527.7 180.0 L527.5 179.0 L527.6 178.0 L527.7 177.0 L528.5 176.0 L527.9 175.0 L527.7 174.0 L527.9 173.0 L527.7 172.0 L528.3 171.0 L527.4 170.0 L527.7 169.0 L527.8 168.0 L527.6 167.0 L528.3 166.0 L527.6 165.0 L527.7 164.0 L527.4 163.0 L528.4 162.0 L527.8 161.0 L528.1 160.2 L528.9 159.3 L529.8 158.7 L530.9 158.8 L532.1 159.0 L533.1 158.8 L533.9 157.8 L535.2 158.1 L535.8 156.7 L537.0 157.0 L538.0 156.6 L539.0 156.7 L540.0 156.3 L541.0 157.2 L542.0 156.3 L543.1 157.1 L544.0 155.8 L545.0 156.2 L546.0 156.1 L547.0 156.4 L548.0 155.8 L549.0 155.9 L550.0 155.2 L551.0 155.5 L552.0 156.0 L553.0 155.0 L554.0 155.4 L555.0 155.0 L556.0 154.9 L557.0 154.7 L558.0 155.6 L559.0 155.3 L560.0 154.8 L561.0 154.7 L562.0 155.1 L563.0 154.7 L564.1 155.0 L565.1 154.9 L566.0 154.2 L567.0 154.3 L568.0 154.0 L569.0 153.5 L570.0 153.6 L571.0 153.8 L572.0 153.5 L573.0 153.5 L574.0 153.1 L575.1 153.6 L576.1 153.3 L576.9 152.2 L578.1 153.0 L579.1 153.0 L580.1 152.8 L581.0 152.0 L582.0 151.9 L583.0 151.6 L583.9 151.2 L585.0 151.6 L586.1 152.0 L587.0 151.8 L588.0 151.5 L589.1 151.6 L590.0 151.2 L591.0 150.5 L592.0 151.3 L593.0 150.6 L594.0 151.3 L595.0 150.4 L596.0 150.0 L597.0 150.8 L598.0 149.9 L599.0 150.9 L600.0 150.2 L601.0 150.6 L602.0 149.5 L603.0 150.1 L604.2 150.2 L604.4 148.9 L605.6 148.7 L605.8 147.5 L606.7 146.9 L607.5 146.2 L608.5 145.8 L608.7 144.5 L609.5 143.9 L610.8 143.7 L611.5 142.9 L611.9 142.0 L612.2 141.0 L613.2 140.3 L613.5 139.3 L613.8 138.3 L615.0 137.8 L614.6 136.4 L615.9 135.9 L616.1 134.9 L616.7 134.0 L617.3 133.0 L617.4 132.0 L617.7 131.0 L617.8 130.0 L617.0 129.0 L616.9 128.0 L618.1 127.0 L617.2 126.0 L617.3 125.0 L618.2 124.0 L618.5 123.1 L618.4 122.0 L618.0 121.0 L618.3 119.9 L619.5 119.3 L619.6 118.1 L619.9 117.1 L619.6 115.7 L620.3 114.8 L620.5 113.7 L622.1 113.2 L621.6 111.9 L621.9 110.9 L622.7 110.0 L622.5 108.9 L623.3 108.0 L624.1 107.2 L624.3 106.1 L623.8 104.9 L625.0 104.2 L624.6 103.0 L625.1 102.0 L625.2 100.9 L626.4 100.2 L625.7 98.9 L626.5 98.1 L626.6 97.0 L626.9 96.1 L626.3 94.9 L627.1 94.0 L627.9 93.1 L627.5 92.0 L627.2 90.9 L627.2 89.9 L627.8 89.0 L628.5 88.1 L627.7 86.9 L628.0 85.9 L629.0 85.0 L629.5 83.9 L628.7 83.0 L628.8 82.0 L628.2 81.1 L628.0 80.1 L628.1 79.0 L627.6 78.1 L627.8 77.0 L627.2 76.1 L628.1 74.9 L627.5 74.0 L626.6 73.1 L626.6 72.1 L627.3 70.9 L626.5 70.0 L626.2 69.1 L625.7 68.1 L626.4 67.0 L626.1 65.9 L625.6 64.9 L624.2 64.8 L624.0 63.5 L623.3 62.7 L622.6 61.9 L621.7 61.3 L620.7 60.8 L619.6 60.4 L619.4 59.1 L618.0 59.0 L617.3 58.2 L616.9 57.1 L615.8 57.0 L615.2 56.1 L614.5 55.1 L613.2 55.4 L612.7 54.1 L611.9 53.4 L610.4 54.1 L609.7 53.1 L609.0 52.2 L608.3 51.9 L607.2 51.1 L607.4 49.8 L606.3 49.1 L605.6 48.2 L605.5 47.0 L605.1 45.9 L604.9 44.8Z" fill="#5F748F"/>
<path d="M488.8 63.8 L488.1 64.6 L486.8 65.0 L486.5 66.0 L486.5 67.2 L485.6 67.8 L485.0 68.7 L484.8 69.8 L483.6 70.2 L483.7 71.5 L482.9 72.2 L482.2 72.9 L481.7 73.8 L481.0 74.6 L480.2 75.4 L479.5 76.2 L479.9 77.6 L479.1 78.3 L478.6 79.3 L478.7 80.5 L478.7 81.6 L477.0 82.0 L477.4 83.4 L477.0 84.3 L475.9 85.0 L475.8 86.1 L475.6 87.2 L474.8 88.0 L475.3 89.3 L474.1 90.0 L474.3 91.1 L474.4 92.2 L473.3 92.9 L472.7 93.8 L473.4 95.0 L472.5 95.8 L472.7 96.9 L471.8 97.7 L471.5 98.7 L471.9 99.9 L470.8 100.6 L470.7 101.6 L470.4 102.6 L469.9 103.5 L470.1 104.6 L469.4 105.5 L468.9 106.4 L469.6 107.7 L468.3 108.3 L468.6 109.5 L468.2 110.4 L468.4 111.5 L467.3 112.3 L467.6 113.4 L466.5 114.3 L467.3 115.4 L466.9 116.6 L467.1 117.7 L466.8 118.9 L467.4 119.9 L467.6 120.9 L467.1 122.1 L467.3 123.1 L467.7 124.0 L467.4 125.1 L468.6 125.9 L467.9 127.1 L469.1 127.9 L468.2 129.1 L468.9 130.1 L469.6 130.9 L470.0 132.0 L470.9 132.6 L471.6 133.4 L473.1 133.4 L473.5 134.5 L474.5 135.0 L475.1 135.9 L475.8 136.7 L475.9 138.1 L477.4 138.2 L477.9 139.2 L478.3 140.2 L478.6 141.3 L479.2 142.2 L480.1 142.8 L481.3 143.2 L481.6 144.4 L482.1 145.3 L483.5 145.6 L483.5 147.0 L484.5 147.6 L484.9 148.6 L485.5 149.4 L486.2 150.2 L487.0 150.9 L487.6 151.7 L488.7 152.2 L489.0 153.2 L490.1 153.7 L490.4 154.8 L491.0 155.7 L491.4 156.7 L492.4 157.1 L493.5 157.5 L493.7 158.7 L494.8 159.1 L495.1 160.4 L496.2 160.7 L497.0 161.4 L497.2 162.7 L498.5 162.9 L499.3 163.6 L500.1 164.3 L500.7 165.1 L501.9 165.4 L502.2 166.6 L502.6 167.7 L503.8 168.1 L504.8 168.3 L505.9 168.6 L506.9 168.5 L507.9 168.3 L509.0 168.4 L510.4 168.2 L510.2 166.8 L511.0 166.0 L511.3 164.9 L511.7 163.9 L512.6 163.0 L512.8 161.9 L513.6 161.1 L514.1 160.1 L514.0 158.8 L514.8 158.1 L515.2 157.2 L516.1 156.5 L515.8 155.2 L516.3 154.3 L517.2 153.6 L517.5 152.7 L518.3 151.9 L518.3 150.8 L518.6 149.9 L519.8 149.1 L519.1 147.9 L519.2 146.9 L519.6 145.9 L519.9 145.0 L520.0 143.9 L520.6 143.0 L521.4 142.1 L520.7 141.4 L520.1 140.4 L519.4 139.4 L518.8 138.4 L518.0 137.6 L516.4 137.8 L515.9 136.7 L515.2 135.5 L513.8 136.3 L513.0 135.3 L511.9 135.5 L511.1 134.4 L510.2 133.9 L509.0 134.1 L507.8 134.6 L506.8 134.2 L506.0 133.4 L505.1 132.5 L503.9 133.1 L503.1 132.3 L502.0 132.5 L500.9 132.4 L500.1 131.6 L498.9 131.9 L498.0 131.6 L497.1 130.9 L496.0 131.0 L495.4 130.0 L494.3 129.6 L493.1 129.2 L492.5 128.2 L492.0 127.0 L490.9 126.6 L490.6 125.8 L489.1 125.2 L489.3 124.1 L489.6 122.9 L489.3 121.9 L488.8 121.0 L488.7 119.9 L488.8 118.9 L488.3 118.0 L488.1 117.0 L488.2 116.0 L488.4 115.0 L488.0 114.0 L488.5 113.0 L488.5 112.0 L488.8 111.0 L488.5 110.0 L488.2 108.8 L489.3 108.0 L490.0 107.2 L490.1 106.1 L490.5 105.1 L490.5 103.9 L490.9 102.9 L492.0 102.4 L492.1 101.0 L493.7 101.0 L494.5 100.3 L495.3 99.6 L495.3 98.0 L496.1 97.2 L497.6 97.2 L497.9 95.9 L498.4 95.0 L499.2 94.3 L500.2 93.8 L500.3 92.6 L501.3 92.1 L502.2 91.5 L502.9 90.8 L502.8 89.3 L504.4 89.1 L504.2 88.0 L504.6 87.0 L505.1 86.0 L505.0 84.9 L506.2 84.2 L505.6 82.9 L506.4 82.0 L506.2 80.9 L507.2 80.0 L507.3 78.9 L507.0 77.9 L505.8 77.1 L506.2 76.0 L506.3 74.9 L505.1 74.1 L505.1 73.0 L505.2 71.8 L504.5 70.9 L503.5 70.3 L503.0 69.3 L502.3 68.4 L501.3 67.8 L500.9 66.7 L500.0 65.9 L499.1 65.3 L498.0 65.2 L496.9 65.0 L496.0 64.4 L495.2 63.4 L494.0 63.9 L492.9 64.0 L491.7 64.2 L490.6 63.0 L489.4 62.8Z" fill="#692A27"/>
<path d="M482.2 45.2 L482.9 44.2 L484.1 44.4 L484.5 42.9 L485.8 43.2 L486.5 42.5 L487.7 42.6 L488.3 41.4 L489.6 41.9 L490.3 41.1 L491.5 41.2 L492.1 40.3 L493.0 39.8 L493.8 39.8 L494.5 40.7 L495.9 40.6 L496.3 41.9 L497.2 42.4 L498.7 42.2 L499.2 43.3 L500.1 44.0 L500.8 44.9 L501.8 45.2 L503.1 45.3 L503.6 46.4 L504.4 47.1 L505.2 47.8 L505.6 49.0 L506.9 49.0 L507.9 49.6 L508.4 50.6 L509.1 51.4 L509.5 52.4 L510.6 52.9 L511.6 53.6 L511.5 55.0 L512.7 55.5 L513.2 56.5 L514.1 57.2 L515.0 57.9 L515.1 59.0 L515.0 60.0 L515.7 61.0 L515.3 62.0 L515.4 63.0 L515.6 64.0 L515.4 65.0 L515.0 65.4 L514.0 65.5 L513.0 66.2 L512.0 65.8 L511.0 66.8 L510.0 65.6 L509.0 66.1 L508.0 65.8 L507.0 66.6 L506.0 66.5 L505.0 66.5 L504.0 65.7 L503.0 66.5 L502.0 66.4 L501.0 65.8 L500.0 65.9 L499.0 66.6 L498.0 66.7 L497.0 66.0 L496.0 66.9 L495.0 66.5 L494.0 65.8 L493.0 65.7 L492.0 66.6 L491.0 66.8 L490.0 65.7 L489.0 65.9 L488.0 66.4 L487.0 66.0 L485.4 66.2 L485.9 64.9 L485.4 64.0 L485.3 63.0 L484.1 62.3 L484.5 61.1 L483.8 60.2 L483.7 59.2 L483.1 58.3 L483.2 57.2 L482.8 56.2 L482.5 55.2 L481.4 54.3 L481.6 53.2 L481.4 52.1 L481.8 51.1 L482.0 50.0 L481.5 48.9 L482.2 47.8 L482.0 46.8 L482.0 45.7Z" fill="#508476"/>
<path d="M514.7 45.6 L514.3 46.5 L515.4 47.9 L514.4 48.5 L513.7 49.4 L513.0 50.2 L511.7 49.8 L511.0 50.6 L510.1 50.9 L509.2 51.7 L508.2 51.4 L507.3 51.1 L506.0 51.4 L505.2 50.8 L504.6 50.0 L504.3 49.2 L503.7 48.6 L503.1 48.0 L502.6 47.2 L502.2 46.4 L501.7 45.6 L501.4 44.6 L501.9 43.8 L502.0 42.6 L502.7 41.8 L503.4 41.1 L504.6 41.2 L505.3 40.3 L506.2 39.9 L507.2 40.0 L508.2 39.5 L509.1 40.1 L510.0 40.4 L510.9 40.7 L511.5 41.4 L512.1 42.0 L512.9 42.4 L513.2 43.3 L514.3 43.7 L514.8 44.6Z" fill="#2E2E4E"/>
<path d="M510.8 45.1 L512.2 45.5 L512.0 46.1 L511.5 46.5 L510.8 46.4 L511.0 47.7 L510.4 47.7 L510.0 48.0 L509.5 47.9 L509.2 48.3 L508.5 47.6 L508.2 48.5 L507.7 47.3 L506.9 48.4 L506.4 47.9 L505.7 47.5 L506.4 46.7 L505.9 46.3 L506.0 45.9 L506.1 45.4 L505.1 45.1 L505.4 44.5 L505.6 44.0 L505.4 43.3 L505.7 42.8 L506.1 42.3 L507.0 42.8 L507.2 42.3 L507.8 42.7 L508.1 41.6 L508.6 41.9 L509.0 42.7 L509.7 41.7 L510.1 42.0 L509.9 43.0 L510.3 43.1 L510.5 43.4 L511.6 43.6 L510.8 44.2 L511.7 44.5Z" fill="#E06030"/>
<path d="M527.1 61.9 L526.9 62.6 L526.6 63.1 L526.1 63.5 L526.2 64.3 L526.1 65.3 L525.1 65.4 L524.1 64.8 L523.2 66.1 L522.2 65.2 L521.3 66.0 L520.4 66.0 L519.3 66.2 L518.3 66.0 L517.9 64.9 L517.6 64.2 L516.4 64.3 L516.1 63.8 L515.5 63.4 L516.0 62.3 L514.9 62.1 L515.6 61.5 L515.1 60.7 L515.3 59.9 L516.3 59.9 L517.2 59.7 L517.9 59.4 L518.4 58.1 L519.4 58.1 L520.4 58.4 L521.4 57.9 L522.2 58.5 L523.1 58.3 L523.8 58.3 L524.7 58.9 L525.5 59.4 L526.1 60.2 L527.3 60.0 L528.1 60.7 L528.0 61.6Z" fill="#E06030"/>
<path d="M551.0 17.8 L552.1 18.5 L553.0 17.4 L554.1 17.9 L555.1 17.8 L556.0 17.0 L557.0 16.8 L558.0 16.6 L558.9 16.0 L560.0 16.4 L560.9 15.9 L561.9 15.7 L562.9 15.4 L563.9 15.3 L565.0 15.9 L566.0 15.5 L567.0 15.3 L568.0 15.8 L569.0 15.9 L570.0 16.0 L571.0 16.5 L572.0 15.5 L573.0 15.9 L574.0 15.8 L575.0 15.5 L576.0 15.8 L577.0 16.2 L578.0 16.2 L579.0 16.6 L580.0 16.4 L581.0 16.7 L582.0 16.3 L583.1 16.3 L584.0 16.7 L585.1 16.4 L586.0 16.9 L587.0 17.1 L588.0 17.6 L588.9 17.9 L590.3 16.9 L590.7 18.6 L591.9 18.8 L592.7 19.6 L594.2 19.0 L595.2 20.0 L595.0 21.0 L594.7 22.0 L595.3 23.0 L595.1 24.0 L595.3 25.0 L595.1 26.0 L595.0 27.0 L594.9 28.0 L594.7 29.0 L595.4 30.0 L594.8 31.0 L595.6 32.0 L594.8 33.0 L595.1 34.0 L595.2 35.4 L594.2 35.8 L593.3 36.6 L592.1 36.8 L591.1 37.3 L590.0 37.7 L589.3 38.8 L588.0 38.5 L587.0 39.1 L586.0 39.3 L584.9 38.5 L584.0 39.0 L583.0 39.0 L582.0 39.3 L581.0 39.8 L580.0 40.0 L579.0 40.1 L578.0 39.9 L577.0 40.3 L576.0 39.9 L575.0 39.3 L574.0 39.7 L573.0 40.4 L572.0 40.4 L571.0 39.8 L570.0 39.6 L569.0 40.1 L568.0 40.7 L567.0 40.4 L566.0 40.9 L565.0 40.6 L564.0 40.0 L563.0 41.0 L562.0 40.7 L561.0 40.5 L560.2 40.1 L559.1 40.2 L558.0 40.1 L557.1 39.5 L555.9 39.6 L554.8 39.5 L554.1 38.2 L553.0 38.4 L552.6 37.9 L551.4 37.1 L551.0 36.1 L551.6 35.0 L551.7 34.0 L551.9 32.9 L551.3 32.0 L550.4 31.1 L550.9 30.0 L550.5 29.0 L550.1 28.0 L551.0 27.0 L550.9 26.0 L551.1 25.0 L550.9 24.0 L551.0 23.0 L551.1 22.0 L550.5 21.0 L551.0 20.0 L551.5 19.0Z" fill="#CC9BCC"/>
<path d="M554.0 39.6 L555.0 38.5 L556.0 39.4 L557.0 38.4 L558.0 38.8 L559.0 38.3 L560.0 39.0 L561.0 39.1 L562.0 38.5 L563.0 39.2 L564.0 39.0 L565.0 38.2 L566.0 38.5 L567.0 38.7 L568.0 38.8 L569.0 38.9 L570.0 37.7 L571.0 38.5 L572.0 37.6 L573.0 38.7 L574.0 37.7 L574.9 38.5 L576.0 37.9 L576.9 38.9 L578.0 38.4 L579.0 38.3 L580.0 38.4 L581.0 38.9 L582.0 38.7 L583.0 39.3 L584.1 38.7 L585.0 39.0 L585.9 40.0 L587.0 39.7 L588.0 39.4 L589.1 39.4 L590.4 39.6 L591.0 40.5 L591.5 41.3 L592.0 42.3 L592.5 43.2 L593.3 43.8 L594.4 44.1 L595.3 44.7 L595.8 45.7 L596.5 46.4 L597.1 47.2 L598.0 47.7 L598.4 48.7 L599.7 48.9 L600.3 49.8 L600.2 51.1 L600.5 52.2 L601.3 52.9 L601.8 53.9 L602.4 54.8 L603.3 55.4 L603.5 56.5 L604.3 57.3 L605.0 58.1 L605.7 58.9 L605.5 60.0 L606.6 61.0 L605.6 62.0 L605.5 63.1 L606.2 64.1 L605.6 65.1 L606.3 66.1 L606.1 67.1 L606.1 68.2 L606.6 69.2 L606.4 70.2 L606.5 71.2 L606.2 72.3 L606.0 73.3 L606.0 74.3 L606.2 75.3 L606.3 76.3 L606.3 77.4 L606.5 78.4 L606.7 79.6 L606.0 80.4 L605.1 81.1 L605.2 82.4 L604.0 82.8 L603.9 84.0 L603.5 84.9 L602.6 85.6 L602.3 86.6 L602.1 87.6 L600.8 88.1 L600.2 88.9 L600.4 90.5 L599.1 90.4 L598.5 91.5 L597.6 91.8 L596.4 92.0 L595.8 92.9 L595.4 94.1 L594.6 94.6 L593.4 94.8 L592.2 94.8 L591.9 96.1 L590.9 96.5 L590.0 97.5 L589.0 96.7 L588.0 97.3 L587.0 97.4 L586.0 97.7 L585.0 96.9 L584.0 97.6 L583.1 98.2 L582.0 97.2 L581.0 98.1 L580.0 98.3 L579.0 98.3 L578.0 98.0 L577.9 96.8 L576.6 96.6 L576.2 95.6 L575.7 94.7 L575.5 93.6 L574.9 92.8 L573.7 92.5 L573.1 91.7 L572.5 90.9 L571.5 90.1 L572.3 88.9 L572.2 87.9 L571.3 87.0 L571.7 86.0 L571.5 84.9 L571.0 84.0 L571.4 82.9 L571.4 81.9 L571.2 80.9 L570.3 80.0 L569.8 79.1 L570.5 77.9 L570.5 76.9 L569.8 76.0 L569.4 75.2 L569.3 73.8 L568.4 73.0 L567.3 72.5 L566.9 71.3 L565.7 70.9 L565.1 70.7 L564.1 70.7 L563.0 70.3 L562.0 70.7 L561.1 71.2 L560.1 71.0 L559.0 70.4 L558.1 71.3 L557.1 71.4 L555.9 70.5 L555.1 71.8 L554.0 71.5 L553.1 72.0 L552.3 71.6 L551.2 70.7 L552.1 69.4 L551.0 68.5 L551.8 67.3 L551.2 66.3 L550.8 65.3 L550.7 64.2 L550.4 63.2 L550.1 62.2 L550.8 60.9 L549.9 60.0 L550.2 59.0 L550.8 58.1 L549.9 56.9 L550.1 55.9 L551.5 55.1 L551.2 54.0 L551.0 53.0 L552.0 52.1 L551.5 51.0 L551.6 50.0 L551.4 48.9 L552.1 48.0 L552.0 46.9 L552.7 46.1 L552.3 44.9 L553.1 44.1 L553.0 43.0 L553.1 42.0 L553.0 40.9 L553.3 39.9Z" fill="#D6C1AF"/>
<path d="M610.6 41.8 L610.0 42.7 L610.0 43.7 L610.1 44.8 L609.3 45.5 L609.0 46.7 L608.3 47.5 L606.6 48.3 L605.2 49.4 L603.6 50.3 L602.4 51.7 L601.4 53.5 L600.4 53.8 L599.7 54.9 L598.5 54.4 L597.6 54.6 L596.6 54.3 L595.4 55.4 L594.5 54.7 L593.6 54.2 L592.6 54.0 L591.3 54.2 L590.7 53.0 L589.9 52.4 L589.1 51.7 L587.5 51.9 L586.9 50.9 L586.9 49.7 L586.1 48.9 L585.8 48.0 L584.9 47.0 L584.5 45.9 L584.9 44.9 L584.8 43.8 L584.9 42.7 L585.4 41.8 L585.4 39.8 L587.2 38.5 L587.1 36.4 L587.8 34.6 L589.8 34.0 L590.6 32.2 L592.1 31.2 L594.0 30.7 L595.6 29.4 L596.6 29.0 L597.7 29.1 L598.6 28.1 L599.7 28.7 L600.9 27.7 L602.1 28.0 L602.9 29.1 L603.7 29.5 L604.6 30.2 L606.3 30.3 L606.1 31.7 L606.5 32.7 L607.8 33.2 L607.6 34.5 L608.1 36.5 L610.2 37.7 L609.6 39.0 L610.0 39.8 L611.0 40.7Z" fill="#7EDAC0"/>
<path d="M553.4 42.7 L553.4 44.4 L552.8 45.9 L552.1 47.4 L551.0 48.5 L549.9 50.2 L548.1 49.9 L546.5 50.0 L545.3 51.3 L544.0 51.6 L542.5 51.7 L541.1 51.2 L539.4 51.9 L538.1 51.1 L536.7 50.5 L535.7 49.1 L533.9 48.8 L533.0 47.4 L532.4 45.9 L531.1 44.3 L532.3 42.8 L532.3 41.1 L533.4 39.9 L533.5 38.2 L534.7 37.1 L535.4 35.9 L536.1 34.0 L537.8 33.2 L539.6 33.4 L541.1 34.1 L542.4 35.1 L543.8 34.4 L545.2 35.2 L546.7 34.3 L548.6 34.2 L550.4 35.0 L551.9 36.2 L552.4 37.9 L552.6 39.5 L552.4 41.2Z" fill="#5F748F"/>
<path d="M550.4 31.0 L549.5 31.6 L549.5 32.1 L550.1 33.3 L549.5 33.9 L548.5 34.0 L547.5 34.0 L546.7 35.1 L545.6 35.2 L544.5 34.8 L543.4 35.7 L542.3 34.6 L541.3 34.3 L540.2 34.4 L539.4 33.9 L538.2 34.1 L537.1 33.8 L537.5 32.8 L537.5 32.2 L537.1 31.7 L536.2 31.0 L536.6 30.4 L536.8 29.7 L537.8 29.7 L537.9 28.5 L538.5 27.9 L539.5 28.0 L540.3 27.6 L541.2 27.2 L542.2 27.0 L543.4 26.9 L544.6 26.7 L545.9 26.6 L547.3 26.6 L547.5 27.9 L548.6 28.1 L549.2 28.6 L548.8 29.7 L549.8 29.8 L549.2 30.7Z" fill="#7EDAC0"/>
<path d="M537.5 38.9 L537.2 39.8 L537.0 40.8 L536.2 41.5 L536.0 42.6 L534.9 42.9 L534.6 44.1 L533.8 45.0 L532.7 45.4 L531.8 44.4 L530.8 44.5 L530.0 44.0 L529.0 44.2 L528.1 44.1 L527.4 43.6 L527.0 42.6 L526.5 41.9 L526.0 41.3 L524.9 40.7 L525.6 39.6 L525.3 38.7 L524.2 37.9 L525.2 36.8 L525.0 35.8 L524.8 34.4 L525.6 33.3 L526.9 33.4 L528.0 33.5 L529.0 33.4 L529.8 34.2 L530.8 34.1 L531.6 33.4 L532.4 34.3 L533.2 34.1 L534.3 34.0 L534.6 35.1 L535.5 35.4 L535.8 36.2 L536.1 37.0 L537.1 37.8Z" fill="#D24284"/>
<path d="M553.4 27.0 L554.3 27.7 L553.7 28.3 L553.2 28.6 L552.8 29.1 L552.2 29.5 L551.8 30.1 L551.1 30.3 L550.3 30.1 L549.9 31.5 L549.0 31.6 L548.1 31.9 L547.3 31.1 L546.3 31.3 L545.6 30.8 L545.6 29.6 L545.0 29.3 L543.7 29.0 L544.8 28.3 L544.1 27.6 L544.4 27.0 L545.1 26.6 L544.8 25.9 L544.6 25.2 L544.9 24.7 L545.4 24.1 L546.1 23.8 L546.4 22.7 L547.3 22.5 L548.2 23.3 L549.0 23.5 L549.9 22.3 L550.6 23.2 L551.6 22.9 L552.6 23.1 L552.8 24.0 L553.8 24.4 L553.0 25.3 L552.9 26.0 L554.3 26.3Z" fill="#D24284"/>
<path d="M544.0 51.4 L544.1 52.4 L544.0 53.5 L543.3 54.4 L543.7 56.1 L542.7 57.1 L541.2 57.2 L539.9 57.9 L538.5 58.4 L537.0 58.1 L535.6 58.4 L534.3 58.2 L533.2 57.5 L531.8 57.6 L530.8 56.7 L530.1 55.7 L529.1 55.1 L528.6 54.1 L527.9 53.2 L527.0 52.4 L526.1 51.4 L526.4 50.2 L527.3 49.5 L527.4 48.0 L528.9 47.8 L529.2 46.0 L530.3 45.3 L531.8 45.4 L532.8 44.2 L534.3 45.1 L535.8 44.2 L537.0 44.8 L538.5 44.7 L539.3 45.9 L540.6 46.0 L542.0 46.3 L542.8 47.3 L543.6 48.2 L544.1 49.3 L544.0 50.4Z" fill="#D8D040"/>
<path d="M533.7 52.0 L532.8 52.9 L532.5 53.7 L532.2 54.5 L532.2 55.5 L531.6 55.9 L531.4 56.7 L530.7 57.0 L530.3 57.8 L529.6 57.9 L529.0 58.3 L528.2 58.3 L528.1 57.1 L527.5 56.8 L526.2 57.5 L525.8 56.7 L526.1 55.6 L525.3 54.9 L525.2 54.0 L524.6 52.8 L525.6 52.1 L525.7 51.2 L525.2 50.3 L526.2 49.6 L525.4 48.5 L525.5 47.4 L526.4 46.8 L527.4 46.8 L527.7 45.9 L528.3 45.5 L528.9 46.4 L529.5 46.0 L530.0 46.3 L530.8 46.6 L530.8 47.5 L531.3 48.2 L531.7 48.9 L532.3 49.5 L532.9 50.1 L533.3 51.0Z" fill="#70C080"/>
<path d="M557.8 53.4 L558.6 54.5 L557.7 54.9 L557.6 55.7 L557.0 56.1 L556.7 56.8 L555.9 56.7 L555.7 57.5 L555.4 58.1 L554.6 57.9 L553.9 57.7 L553.3 58.5 L552.5 58.8 L552.4 57.5 L551.9 57.2 L551.4 56.8 L550.8 56.3 L550.0 55.9 L549.9 55.1 L549.2 54.4 L550.3 53.6 L549.3 52.5 L550.3 52.1 L550.7 51.6 L550.6 50.4 L551.4 50.4 L551.6 49.6 L552.6 50.0 L552.6 48.9 L553.6 49.4 L554.0 48.7 L554.7 48.0 L555.2 49.1 L556.3 48.5 L556.8 49.1 L556.4 50.3 L557.0 50.8 L557.2 51.4 L558.4 51.8 L557.9 52.7Z" fill="#4A6A2A"/>
<path d="M535.8 22.4 L535.9 22.7 L536.9 23.1 L536.9 23.7 L536.3 23.8 L536.2 24.8 L535.5 24.2 L535.0 23.9 L534.6 24.6 L534.1 24.1 L533.7 25.2 L533.3 24.2 L532.8 24.4 L532.3 24.7 L531.8 24.4 L531.6 24.1 L531.2 23.8 L531.1 23.4 L531.2 23.0 L530.9 22.7 L531.4 22.4 L531.3 22.1 L530.9 21.6 L530.6 20.9 L531.4 21.0 L531.4 20.3 L532.0 20.4 L532.5 20.4 L532.7 19.6 L533.3 20.2 L533.7 19.7 L534.2 20.2 L534.7 19.7 L535.0 20.3 L535.4 20.4 L536.1 20.3 L535.7 20.9 L536.8 21.2 L536.0 21.6 L536.2 22.0Z" fill="#D0D080"/>
<path d="M583.9 49.0 L584.2 49.7 L584.0 50.4 L584.8 51.5 L583.7 51.8 L583.8 53.2 L582.6 53.1 L582.0 54.2 L580.9 53.8 L579.9 53.4 L578.9 54.6 L578.2 53.5 L577.0 54.1 L576.5 53.1 L575.7 52.8 L574.8 52.6 L573.9 52.3 L573.2 51.6 L572.6 50.8 L573.3 49.8 L572.7 49.0 L572.5 47.9 L573.7 47.7 L573.5 46.5 L575.1 46.7 L575.3 45.9 L575.7 45.3 L576.2 44.4 L577.2 44.7 L578.0 44.3 L579.1 43.3 L580.0 43.6 L580.8 44.4 L581.7 44.6 L583.0 44.3 L583.0 45.7 L583.5 46.2 L584.4 46.7 L584.4 47.5 L584.5 48.3Z" fill="#C6434A"/>
<path d="M584.7 52.0 L585.8 52.6 L585.4 53.1 L584.7 53.3 L584.5 53.8 L584.1 54.0 L583.7 54.2 L583.3 54.6 L582.6 53.9 L582.3 54.5 L582.2 55.5 L581.5 55.0 L581.0 55.2 L580.3 55.2 L580.2 54.5 L579.7 54.2 L579.6 53.7 L578.9 53.6 L578.7 53.1 L579.5 52.4 L578.4 52.0 L578.5 51.4 L579.0 51.0 L578.9 50.4 L580.0 50.5 L579.9 49.9 L580.2 49.6 L580.5 49.0 L581.0 49.4 L581.6 48.9 L582.2 48.7 L582.2 49.9 L582.7 49.8 L583.2 49.4 L583.8 49.1 L584.3 49.5 L584.6 50.1 L585.2 50.4 L585.4 50.9 L585.5 51.5Z" fill="#E06030"/>
<path d="M553.1 60.5 L553.5 61.4 L552.5 61.5 L551.8 62.4 L550.7 63.0 L549.2 63.3 L547.8 64.2 L546.1 64.8 L545.1 65.2 L544.1 65.7 L542.9 64.8 L541.9 65.1 L540.7 64.7 L539.5 65.5 L538.3 64.9 L537.1 65.2 L536.0 64.9 L534.8 65.4 L533.0 64.5 L531.1 64.7 L530.3 63.3 L529.0 63.1 L528.5 62.0 L527.5 61.7 L526.8 61.1 L526.6 60.5 L526.5 59.9 L526.6 59.3 L526.6 58.0 L527.7 57.5 L529.1 57.3 L530.5 56.3 L531.6 56.3 L532.5 55.5 L533.7 56.4 L534.8 55.4 L536.0 56.4 L537.2 55.5 L538.3 55.4 L539.5 55.8 L540.6 56.3 L541.7 56.0 L542.7 56.6 L543.6 57.0 L545.5 57.0 L547.4 56.6 L548.7 57.8 L550.4 57.5 L551.0 59.1 L552.3 59.2 L553.2 59.7Z" fill="#D050D8"/>
<path d="M555.2 76.0 L556.0 77.3 L555.6 78.6 L555.3 79.8 L554.1 80.6 L553.8 81.9 L552.8 82.6 L552.7 84.2 L551.1 84.2 L550.3 85.0 L550.4 86.7 L549.0 87.0 L548.3 87.8 L548.0 89.2 L546.5 89.4 L545.8 90.6 L545.0 91.7 L543.6 91.9 L542.6 93.1 L541.4 93.3 L540.0 92.8 L538.8 92.6 L537.4 92.6 L536.6 91.3 L535.0 91.5 L534.5 90.1 L533.0 90.0 L532.7 88.6 L531.0 88.6 L531.0 87.0 L530.3 86.1 L529.2 85.5 L528.3 84.7 L527.8 83.7 L527.3 82.7 L526.8 81.6 L526.4 80.5 L526.7 79.3 L526.1 78.3 L525.5 77.2 L526.5 76.0 L526.7 74.8 L525.7 73.7 L525.4 72.5 L525.6 71.2 L525.3 69.9 L526.2 68.6 L525.6 67.1 L526.8 66.1 L526.9 64.5 L527.6 63.0 L529.2 63.0 L530.2 62.3 L531.3 61.1 L532.7 61.3 L534.0 61.7 L535.3 61.6 L536.6 61.3 L537.8 61.3 L538.9 61.6 L540.0 61.9 L541.1 61.9 L542.1 62.4 L543.3 61.9 L544.3 62.4 L545.4 62.7 L546.9 62.0 L547.6 63.2 L548.3 64.1 L549.3 64.8 L550.6 65.1 L551.6 65.8 L552.5 66.7 L552.5 68.1 L552.8 69.2 L553.7 70.2 L554.4 71.2 L554.9 72.3 L554.9 73.6 L556.0 74.7Z" fill="#D050D8"/>
<path d="M549.5 74.6 L550.7 75.5 L550.6 76.8 L550.3 78.1 L549.7 79.2 L548.3 79.3 L547.3 79.8 L546.7 81.1 L545.5 80.8 L544.5 81.0 L543.4 81.5 L542.2 81.6 L541.6 80.4 L540.3 80.4 L540.0 79.2 L539.1 78.8 L538.6 77.9 L537.0 77.8 L537.1 76.5 L536.4 75.6 L536.0 74.4 L536.2 73.2 L537.1 72.4 L537.6 71.6 L537.7 70.4 L538.2 69.3 L539.4 69.0 L540.4 68.6 L541.4 68.4 L542.3 67.7 L543.4 67.9 L544.4 67.8 L545.8 67.2 L546.3 68.4 L547.3 69.0 L548.4 69.7 L548.0 70.9 L548.2 72.0 L549.2 72.6 L549.2 73.6Z" fill="#CC9BCC"/>
<path d="M529.8 70.6 L529.7 72.0 L529.2 73.3 L529.3 74.6 L529.2 75.9 L528.5 76.9 L529.0 78.5 L528.1 78.9 L527.6 79.4 L526.9 79.5 L526.4 79.2 L525.8 79.1 L525.8 77.8 L524.8 78.4 L524.7 77.6 L524.0 77.0 L523.8 76.0 L523.6 74.7 L522.6 73.4 L522.5 72.0 L523.6 70.6 L522.6 69.1 L522.8 67.6 L522.8 66.1 L523.2 64.8 L523.8 63.9 L524.2 63.1 L524.9 62.8 L525.6 62.7 L526.4 62.7 L526.4 61.4 L526.7 62.3 L527.3 62.3 L528.1 62.7 L528.0 63.7 L528.4 64.7 L528.6 65.7 L530.0 66.4 L529.6 67.8 L529.6 69.2Z" fill="#D050D8"/>
<path d="M550.1 66.5 L551.2 66.6 L552.1 67.2 L553.1 67.7 L554.2 67.5 L555.1 68.1 L555.8 69.5 L556.9 69.5 L558.2 68.9 L559.1 69.3 L559.8 70.3 L560.4 71.1 L561.7 71.2 L562.1 72.3 L563.5 72.3 L564.0 73.4 L564.7 74.1 L565.3 75.0 L566.6 75.1 L567.3 75.9 L568.1 76.5 L569.1 76.9 L569.4 78.2 L570.3 78.7 L571.2 79.3 L571.8 80.1 L572.4 81.0 L573.6 81.5 L573.9 82.6 L574.3 83.6 L575.1 84.3 L575.0 85.6 L575.6 86.5 L576.0 87.5 L577.5 87.8 L577.9 88.8 L578.3 90.2 L577.3 90.7 L577.1 91.9 L575.5 91.9 L575.8 93.5 L574.5 93.8 L573.7 94.4 L573.2 95.4 L572.8 96.3 L572.0 96.5 L571.0 97.2 L570.0 97.3 L569.0 96.7 L568.0 97.2 L567.0 97.2 L566.1 95.9 L565.0 96.5 L564.0 96.7 L563.0 96.0 L562.0 95.6 L561.0 96.7 L559.9 96.1 L559.1 95.6 L558.7 94.4 L557.3 94.6 L556.6 93.9 L555.6 93.5 L555.3 92.3 L554.2 92.1 L553.7 91.0 L552.6 90.9 L552.4 89.8 L551.9 88.9 L551.8 87.8 L550.7 87.0 L550.0 86.2 L550.6 84.8 L549.8 83.9 L549.7 82.8 L548.8 82.0 L548.8 80.9 L548.0 80.0 L547.9 79.0 L548.6 78.1 L548.1 76.9 L548.0 75.9 L548.7 75.0 L548.2 73.9 L548.4 72.9 L549.5 72.0 L549.4 71.0 L549.1 69.9 L549.9 69.0 L549.8 68.0Z" fill="#836AD4"/>
<path d="M567.4 90.8 L566.0 90.9 L566.9 91.9 L565.6 91.8 L566.3 92.9 L566.0 93.4 L564.9 93.1 L564.4 93.2 L564.0 93.9 L563.5 94.6 L562.8 93.8 L562.1 94.7 L561.3 94.6 L560.9 93.9 L560.0 93.9 L559.7 93.2 L559.2 92.7 L559.8 92.0 L559.4 91.6 L559.5 91.0 L558.8 90.7 L559.5 90.0 L559.3 89.5 L559.4 89.1 L559.0 88.1 L559.7 87.9 L560.3 87.5 L561.0 88.1 L561.6 87.9 L562.2 87.1 L562.8 87.8 L563.4 87.2 L564.1 86.8 L564.5 87.7 L564.9 88.3 L565.5 88.3 L566.1 88.5 L566.9 88.8 L566.7 89.5 L567.3 90.1Z" fill="#D8D040"/>
<path d="M591.2 72.8 L591.3 74.1 L591.5 75.4 L590.6 76.6 L591.4 77.9 L590.6 78.9 L589.9 79.5 L589.3 80.4 L589.0 81.8 L587.3 82.9 L585.3 82.3 L584.6 83.8 L582.7 84.2 L582.0 86.1 L580.4 86.9 L578.8 88.2 L577.2 87.6 L575.5 86.7 L574.7 86.0 L574.7 84.8 L573.2 84.6 L573.2 83.3 L573.0 82.3 L571.6 81.8 L572.2 80.3 L571.5 79.6 L571.3 78.5 L570.2 77.5 L570.6 76.4 L570.5 75.2 L570.3 74.1 L570.2 72.9 L571.0 72.0 L571.6 71.1 L572.3 69.2 L572.2 67.2 L573.4 65.6 L573.8 63.6 L575.3 62.4 L575.9 60.5 L577.6 60.0 L578.9 58.9 L580.5 58.5 L582.2 57.8 L583.6 58.9 L585.6 59.2 L586.0 60.2 L587.1 60.7 L586.9 62.0 L587.6 63.0 L587.7 64.1 L588.1 65.2 L589.0 66.1 L588.6 67.3 L589.3 69.0 L589.8 70.9 L590.0 72.0Z" fill="#6B8F35"/>
<path d="M588.3 81.0 L588.6 81.5 L588.4 82.0 L588.0 82.4 L587.7 83.0 L587.0 82.6 L586.4 82.4 L586.1 82.6 L585.9 83.2 L585.5 83.5 L585.0 82.9 L584.5 83.6 L584.3 82.9 L583.8 82.9 L583.0 83.4 L582.7 82.9 L583.2 82.0 L581.9 82.4 L582.0 81.8 L581.5 81.6 L582.6 80.8 L582.5 80.5 L581.9 80.2 L582.5 80.1 L582.1 79.1 L582.5 78.5 L583.2 79.0 L583.6 78.5 L584.1 78.6 L584.5 78.6 L585.0 79.2 L585.4 79.0 L586.2 78.1 L585.9 79.3 L586.2 79.5 L587.2 79.1 L587.2 79.6 L587.4 80.0 L588.1 79.9 L588.7 80.3Z" fill="#E06030"/>
<path d="M605.8 59.6 L606.9 59.1 L607.5 58.3 L607.9 57.2 L608.3 56.2 L608.8 55.3 L609.8 54.7 L610.4 53.9 L610.6 52.7 L611.5 52.0 L612.7 51.6 L612.9 50.6 L613.7 51.6 L614.7 51.9 L615.9 52.0 L617.1 51.9 L617.7 53.2 L618.9 53.1 L620.1 53.1 L620.6 54.7 L621.6 55.1 L623.0 54.9 L623.3 55.9 L624.0 56.7 L623.9 57.9 L624.1 58.9 L625.0 59.6 L625.5 60.5 L626.4 61.2 L626.9 62.1 L627.2 63.1 L627.4 64.1 L627.7 65.1 L628.8 65.9 L628.3 67.0 L627.9 68.2 L629.2 69.0 L629.1 70.1 L629.8 71.0 L629.0 72.2 L630.0 73.0 L629.5 74.2 L630.3 75.1 L629.5 76.3 L629.8 77.3 L630.5 78.2 L630.5 79.3 L630.5 80.3 L631.5 81.2 L631.7 82.2 L631.9 83.8 L630.7 84.0 L629.9 84.8 L629.3 85.8 L627.9 85.7 L627.0 86.4 L626.2 87.1 L625.5 87.9 L625.0 89.1 L623.9 89.0 L623.0 88.4 L621.8 88.6 L620.8 88.4 L619.9 87.7 L619.0 87.2 L617.9 87.4 L617.2 86.0 L615.8 86.9 L614.8 86.2 L614.6 85.0 L613.2 84.7 L612.5 83.9 L611.9 83.0 L611.1 82.4 L610.9 81.1 L610.1 80.4 L609.6 79.4 L609.2 78.4 L608.1 78.0 L607.9 77.0 L607.8 75.9 L607.0 75.1 L606.8 74.1 L607.0 72.9 L606.3 72.0 L606.1 71.0 L605.8 70.0 L605.8 69.0 L605.3 68.0 L606.2 67.1 L605.7 66.0 L605.8 65.0 L605.4 63.9 L606.2 63.0 L606.1 62.0 L606.6 61.0Z" fill="#D24284"/>
<path d="M614.9 73.1 L615.3 74.2 L614.7 75.1 L614.0 75.8 L613.1 75.9 L612.5 76.7 L612.2 77.5 L611.2 77.3 L610.4 77.5 L610.2 78.8 L609.2 78.6 L608.5 78.2 L607.7 78.2 L606.5 78.2 L606.8 77.0 L605.8 76.7 L605.4 76.0 L604.9 75.5 L605.0 74.5 L604.7 73.8 L603.4 73.2 L603.8 72.2 L604.2 71.4 L604.8 70.7 L604.7 69.6 L605.1 68.7 L605.9 68.1 L606.8 67.6 L607.7 68.2 L608.5 67.9 L609.3 67.8 L609.7 69.0 L610.7 68.3 L611.4 68.6 L611.9 69.1 L612.4 69.7 L612.8 70.4 L613.7 70.7 L614.3 71.3 L615.2 72.1Z" fill="#D8D040"/>
<path d="M605.7 70.0 L605.7 71.3 L605.6 72.6 L605.4 74.1 L604.7 75.1 L603.1 74.7 L602.4 75.4 L601.9 76.3 L601.1 76.8 L600.2 77.0 L599.5 77.4 L598.7 77.5 L597.9 77.0 L596.6 77.0 L596.3 75.8 L595.1 75.9 L595.0 74.3 L593.2 74.3 L592.8 72.9 L592.3 71.5 L592.2 69.9 L592.4 68.3 L593.8 67.6 L594.6 66.7 L595.3 65.8 L595.4 64.6 L596.5 64.3 L597.0 63.6 L597.9 63.5 L598.7 63.4 L599.4 62.4 L600.4 63.0 L601.3 63.0 L602.2 63.1 L603.7 62.6 L603.7 64.1 L605.3 64.7 L605.1 66.1 L605.7 67.4 L606.1 68.6Z" fill="#D6C1AF"/>
<path d="M629.2 95.5 L628.4 96.7 L628.5 97.9 L628.4 98.9 L628.2 100.1 L628.3 101.4 L628.1 102.5 L627.0 103.2 L626.3 104.2 L626.4 105.7 L624.8 105.7 L623.9 106.4 L623.5 108.0 L622.0 107.5 L621.2 108.4 L620.3 109.4 L619.1 109.0 L618.4 110.1 L617.0 109.5 L616.3 111.2 L614.6 110.9 L613.5 111.8 L612.6 113.0 L610.9 113.1 L609.7 113.9 L609.0 114.7 L608.0 115.0 L607.0 115.7 L606.0 115.8 L605.0 116.0 L604.0 115.0 L603.0 114.9 L601.9 115.1 L600.8 114.9 L600.0 114.3 L598.8 114.3 L598.1 113.4 L597.2 112.8 L596.5 112.1 L595.8 111.3 L594.7 111.0 L593.9 110.4 L593.2 109.6 L592.0 109.4 L591.4 108.3 L590.6 107.5 L589.6 106.9 L588.0 106.9 L587.6 105.6 L586.7 104.7 L585.7 104.0 L585.4 102.7 L584.6 101.7 L585.0 100.3 L584.6 99.2 L584.3 97.9 L585.2 96.8 L585.3 95.7 L585.3 94.4 L585.3 93.1 L586.0 92.0 L587.1 91.3 L587.6 90.3 L588.0 89.1 L588.5 88.1 L589.6 87.6 L589.8 86.4 L591.1 86.2 L591.7 85.4 L592.2 84.5 L592.5 83.4 L593.0 82.6 L593.3 81.5 L594.5 81.2 L595.3 80.6 L596.1 80.1 L596.7 79.2 L597.2 78.1 L598.4 78.3 L599.3 77.9 L600.1 77.0 L601.1 77.2 L602.1 77.0 L603.1 76.7 L604.1 76.8 L605.5 77.1 L607.0 77.0 L608.4 76.7 L609.9 76.2 L611.4 76.7 L612.8 77.3 L614.0 76.8 L614.9 77.6 L616.1 77.0 L617.1 77.4 L618.2 77.6 L618.9 78.7 L619.8 79.3 L620.6 80.1 L621.5 80.6 L621.9 81.7 L623.3 82.0 L623.9 82.9 L624.6 83.8 L625.2 84.8 L625.4 85.9 L626.0 86.8 L625.8 88.1 L626.6 89.0 L627.6 89.8 L627.4 91.1 L627.6 92.2 L627.9 93.3 L628.3 94.4Z" fill="#836AD4"/>
<path d="M613.3 92.8 L613.8 93.6 L613.8 94.2 L613.3 94.7 L613.0 95.2 L613.0 96.0 L612.0 95.8 L611.5 96.1 L611.2 96.7 L610.6 96.9 L610.0 96.9 L609.4 96.9 L608.5 97.3 L608.3 96.5 L607.4 96.4 L607.3 95.7 L607.3 95.0 L606.3 94.9 L605.8 94.4 L606.2 93.6 L606.4 93.0 L606.2 92.4 L605.7 91.6 L606.1 91.0 L606.7 90.6 L607.3 90.3 L607.4 89.2 L608.3 90.0 L608.8 89.9 L609.5 88.7 L610.0 89.7 L610.5 90.1 L611.2 88.9 L611.7 89.9 L612.3 89.9 L613.2 89.8 L613.9 90.2 L613.6 91.1 L614.3 91.7 L614.2 92.4Z" fill="#2E2E4E"/>
<path d="M628.8 93.9 L629.3 94.7 L629.0 95.3 L628.4 95.7 L628.7 96.5 L627.9 96.8 L627.7 97.5 L627.6 98.2 L627.8 99.3 L627.1 99.7 L626.5 99.6 L625.9 99.8 L625.0 99.9 L624.8 99.1 L624.9 98.3 L623.6 98.1 L623.6 97.2 L623.7 96.3 L623.2 95.4 L624.1 94.7 L623.6 94.0 L623.4 93.3 L624.0 92.7 L623.6 91.9 L623.9 91.1 L624.3 90.4 L625.1 90.4 L625.2 89.7 L625.6 89.4 L626.1 89.1 L626.6 89.3 L627.0 88.2 L627.8 88.2 L628.2 88.8 L628.1 89.6 L629.2 90.0 L629.1 90.9 L629.0 91.7 L628.8 92.5 L630.0 93.2Z" fill="#D8A0D0"/>
<path d="M627.7 100.0 L627.6 101.0 L627.1 102.1 L627.1 103.1 L628.4 104.0 L628.6 104.9 L628.1 106.0 L626.9 106.5 L626.5 107.3 L625.7 108.1 L625.2 108.9 L625.4 110.3 L623.9 110.4 L624.0 111.7 L623.8 112.8 L623.1 113.6 L622.3 114.6 L621.0 114.4 L620.1 114.9 L619.5 116.0 L618.2 115.8 L617.7 116.9 L616.6 117.1 L615.7 117.7 L614.5 117.6 L614.0 118.8 L612.6 118.4 L612.0 118.9 L611.0 120.0 L610.0 120.2 L609.0 119.4 L608.0 120.2 L607.0 119.4 L606.0 120.0 L605.0 120.4 L604.0 119.7 L603.5 120.0 L603.0 118.8 L602.5 117.7 L602.8 115.9 L603.9 115.9 L605.1 116.4 L605.9 115.3 L607.0 115.5 L608.0 115.2 L608.9 114.3 L610.1 114.7 L611.0 114.3 L612.3 114.4 L612.7 113.1 L613.7 112.7 L614.4 111.9 L615.6 111.8 L616.2 110.8 L617.6 111.0 L618.1 110.0 L618.9 109.2 L620.6 109.3 L619.9 107.7 L621.4 107.2 L621.5 106.0 L622.4 105.2 L622.3 103.9 L623.5 103.3 L623.6 102.0 L624.1 101.4 L625.1 100.3 L626.2 99.8Z" fill="#692A27"/>
<path d="M606.9 121.0 L606.9 122.6 L606.7 124.3 L605.9 125.8 L604.7 127.0 L604.1 128.6 L602.6 129.2 L601.4 130.9 L599.7 131.3 L598.1 130.4 L596.5 130.5 L594.9 130.5 L593.5 129.9 L592.5 128.9 L591.3 128.1 L590.2 127.3 L589.1 126.3 L587.5 125.6 L587.0 124.1 L585.6 122.8 L586.2 121.0 L586.1 119.3 L585.2 117.3 L586.7 116.1 L587.6 114.6 L588.9 113.2 L590.7 113.2 L592.2 112.3 L593.7 112.5 L595.2 112.7 L596.5 112.4 L597.9 112.0 L599.4 112.1 L600.9 112.4 L602.5 112.8 L604.0 113.5 L604.8 114.9 L605.3 116.4 L605.6 117.9 L606.9 119.4Z" fill="#7EC8E0"/>
<path d="M631.3 119.5 L631.7 120.8 L631.0 121.4 L630.2 121.9 L629.9 122.6 L629.5 123.4 L629.0 124.1 L628.6 125.1 L627.8 126.1 L626.7 125.8 L625.8 125.3 L624.9 125.1 L624.1 124.7 L623.1 124.6 L622.1 124.3 L621.8 123.4 L621.7 122.6 L620.9 122.0 L621.7 120.9 L620.8 120.4 L620.8 119.5 L620.6 118.7 L619.8 117.9 L620.1 116.9 L620.2 115.7 L621.4 115.8 L622.0 114.4 L622.9 114.1 L624.1 115.2 L624.7 113.8 L625.7 113.7 L626.6 114.2 L627.5 114.4 L627.8 115.5 L628.6 115.8 L629.9 115.6 L630.5 116.1 L630.3 117.6 L631.9 117.7 L632.0 118.8Z" fill="#77D845"/>
<path d="M619.9 126.8 L619.6 127.7 L619.7 128.7 L619.0 129.3 L618.7 130.1 L618.5 131.0 L617.8 131.5 L617.5 132.5 L616.8 133.1 L615.8 132.6 L615.0 133.1 L614.1 133.2 L613.2 132.8 L612.6 132.1 L612.3 131.3 L611.4 131.0 L611.0 130.3 L610.9 129.2 L610.3 128.6 L610.0 127.8 L609.3 126.8 L610.3 126.1 L609.8 124.5 L610.9 124.3 L610.9 123.3 L612.4 123.3 L612.7 122.5 L613.2 121.9 L613.2 120.4 L614.1 119.9 L615.1 120.1 L616.0 120.3 L616.5 121.1 L616.9 122.0 L618.1 121.8 L618.7 122.5 L619.1 123.3 L619.3 124.1 L619.3 125.1 L620.0 125.9Z" fill="#77D845"/>
<path d="M590.8 114.0 L591.1 115.9 L591.5 118.1 L590.6 120.1 L588.5 120.6 L587.4 122.7 L585.3 122.5 L584.0 123.9 L582.1 123.8 L580.6 124.5 L579.0 125.9 L577.1 125.8 L575.3 125.4 L574.1 123.6 L571.9 123.7 L570.5 122.6 L569.4 121.0 L568.7 119.3 L566.8 117.8 L567.3 115.8 L567.0 113.8 L568.7 112.5 L568.7 110.6 L570.2 109.4 L570.2 107.6 L571.4 106.3 L572.3 104.7 L573.3 102.7 L575.4 103.2 L577.1 101.7 L579.0 102.5 L580.9 102.2 L582.5 103.0 L584.7 103.0 L585.3 105.0 L587.5 105.8 L587.1 107.9 L588.8 109.0 L589.4 110.6 L589.5 112.5Z" fill="#D050D8"/>
<path d="M591.0 95.0 L591.1 95.8 L590.8 96.5 L590.9 97.6 L590.1 97.8 L589.7 98.3 L589.3 98.9 L589.0 99.6 L588.5 100.2 L587.4 99.5 L587.0 100.9 L586.4 100.1 L585.3 100.6 L585.0 99.7 L584.7 99.0 L583.8 98.6 L583.5 97.9 L583.3 97.2 L583.2 96.5 L582.8 95.9 L583.7 94.9 L583.2 94.2 L583.7 93.5 L582.8 92.5 L583.8 92.0 L583.7 91.0 L584.2 90.3 L585.1 90.4 L585.7 90.2 L586.4 89.5 L587.1 89.6 L587.3 90.7 L587.7 91.1 L588.3 91.4 L588.9 91.6 L589.4 92.0 L589.9 92.3 L590.9 92.5 L590.9 93.4 L590.5 94.3Z" fill="#D050D8"/>
<path d="M534.4 92.0 L533.9 92.9 L535.2 94.1 L534.8 95.2 L534.1 96.2 L533.5 97.3 L533.0 98.5 L532.0 99.3 L530.8 99.3 L529.7 98.9 L528.7 98.6 L527.5 98.5 L526.3 98.2 L526.2 96.8 L525.4 96.5 L524.3 96.4 L523.6 95.7 L522.8 95.1 L523.3 93.7 L521.9 93.1 L521.7 92.0 L522.3 90.9 L521.3 89.6 L521.5 88.3 L522.8 87.7 L523.3 86.7 L524.0 85.3 L525.3 86.0 L526.5 85.2 L527.5 85.8 L528.7 85.2 L529.3 86.4 L530.1 86.9 L531.1 86.6 L531.9 87.2 L533.3 87.0 L534.2 87.7 L534.2 88.9 L535.3 89.8 L534.7 91.0Z" fill="#D6C1AF"/>
<path d="M515.3 87.0 L515.4 87.7 L514.7 88.3 L514.3 88.7 L514.3 89.3 L513.7 89.6 L513.3 90.9 L512.4 91.1 L511.4 91.2 L510.5 91.1 L509.6 91.0 L508.8 90.5 L507.8 91.3 L507.0 90.6 L506.1 90.2 L505.0 90.5 L504.8 89.5 L503.4 89.2 L503.5 88.3 L504.2 87.9 L504.7 87.4 L505.1 86.9 L504.3 86.0 L505.5 85.8 L505.7 85.4 L505.8 84.8 L506.2 84.2 L507.0 84.1 L507.8 83.8 L508.7 83.3 L509.6 83.5 L510.6 82.5 L511.5 83.6 L512.5 83.3 L513.5 83.5 L514.4 84.1 L513.6 85.0 L514.9 85.5 L513.8 86.2 L514.3 86.7Z" fill="#836AD4"/>
<path d="M494.2 96.0 L493.3 96.0 L493.6 96.7 L493.3 97.1 L493.0 97.4 L492.7 97.7 L492.8 98.5 L492.5 99.2 L491.8 99.0 L491.2 99.5 L490.7 99.1 L490.3 98.4 L489.6 98.9 L489.4 98.2 L489.0 98.0 L488.9 97.5 L488.3 97.4 L487.8 97.2 L487.4 96.9 L486.9 96.5 L487.1 95.9 L486.9 95.4 L487.4 95.1 L487.2 94.2 L487.5 93.5 L488.3 93.9 L489.0 94.3 L489.3 93.4 L489.8 93.4 L490.3 93.8 L490.7 92.9 L491.2 93.4 L491.7 93.0 L492.3 93.1 L492.6 93.8 L493.5 93.4 L493.7 94.0 L494.3 94.3 L493.8 94.9 L493.9 95.3Z" fill="#E06030"/>
<path d="M497.7 109.5 L498.8 110.3 L498.4 111.2 L498.4 112.1 L497.8 112.8 L497.5 113.8 L496.1 113.5 L495.6 114.1 L494.9 114.8 L493.9 115.2 L493.0 114.9 L492.5 114.1 L491.6 114.0 L491.0 113.8 L490.8 112.6 L489.8 113.1 L489.6 112.0 L488.3 112.0 L488.6 111.0 L488.8 110.3 L488.6 109.5 L488.3 108.7 L487.9 107.9 L488.2 107.0 L488.9 106.3 L489.3 105.6 L489.8 104.9 L490.7 104.9 L491.5 105.0 L492.5 104.3 L493.3 104.4 L493.8 105.4 L494.5 105.7 L495.6 104.9 L495.8 105.8 L496.5 106.2 L497.5 106.5 L497.6 107.3 L497.9 108.0 L498.6 108.6Z" fill="#D8D040"/>
<path d="M491.6 114.5 L492.1 115.3 L491.3 116.0 L492.0 117.1 L490.9 117.3 L490.7 117.9 L490.5 118.8 L489.7 118.4 L489.5 119.3 L488.6 118.7 L488.3 119.8 L487.7 119.6 L487.0 119.6 L486.8 118.9 L485.7 119.0 L485.8 118.1 L485.6 117.4 L484.7 116.9 L485.1 116.0 L484.3 115.3 L485.0 114.5 L485.2 113.8 L484.7 112.9 L485.9 112.5 L486.1 111.9 L486.3 111.2 L486.6 110.6 L487.0 110.3 L487.1 109.3 L487.7 109.8 L488.5 108.7 L488.9 109.5 L489.4 109.7 L489.6 110.4 L490.0 110.8 L490.2 111.3 L491.6 111.5 L491.6 112.3 L492.0 112.9 L491.7 113.7Z" fill="#6A4AA0"/>
<path d="M516.4 117.8 L516.4 119.2 L515.5 120.2 L514.4 121.0 L513.0 120.9 L512.6 122.3 L511.9 122.9 L510.6 122.9 L510.0 124.3 L508.8 124.9 L507.5 123.9 L506.2 124.6 L504.9 124.6 L504.0 123.6 L503.1 122.7 L501.8 122.7 L500.9 121.8 L499.9 121.1 L498.8 120.3 L499.0 119.2 L498.6 118.0 L499.0 116.9 L499.2 115.5 L500.9 115.5 L501.4 114.5 L501.9 113.4 L502.8 112.5 L504.0 112.5 L505.2 112.8 L506.3 111.9 L507.6 111.4 L508.7 112.0 L509.7 112.8 L510.9 112.5 L512.0 112.9 L513.1 113.7 L514.6 113.7 L515.8 114.4 L516.6 115.6 L516.2 116.8Z" fill="#5A7A8A"/>
<path d="M512.7 125.9 L512.9 126.8 L513.0 127.8 L513.0 128.7 L512.5 129.6 L512.7 131.0 L511.9 132.0 L510.7 131.7 L509.6 132.2 L508.5 132.5 L507.7 131.6 L506.7 132.0 L505.8 131.9 L504.9 131.6 L504.0 131.1 L504.1 129.7 L502.4 129.8 L503.0 128.4 L501.4 128.0 L502.4 126.9 L502.0 126.0 L501.6 125.0 L501.5 123.9 L502.8 123.5 L502.5 122.2 L503.3 121.6 L503.8 120.7 L504.8 120.5 L505.7 120.2 L506.9 119.1 L507.8 119.7 L508.8 120.0 L509.5 120.6 L510.3 120.7 L510.7 122.0 L512.0 121.6 L513.1 122.0 L513.0 123.3 L512.9 124.1 L514.2 125.2Z" fill="#508476"/>
<path d="M523.4 131.6 L523.4 132.6 L523.0 133.4 L522.7 134.2 L522.4 135.3 L521.2 135.2 L520.5 135.8 L520.1 137.0 L519.1 136.9 L518.3 137.1 L517.4 137.4 L516.6 136.9 L515.8 136.8 L514.5 137.2 L513.8 136.6 L513.5 135.5 L513.1 134.7 L511.6 134.6 L512.2 133.3 L511.0 132.6 L510.9 131.6 L510.7 130.4 L512.1 130.0 L512.0 128.9 L512.4 127.9 L513.3 127.5 L514.4 127.5 L514.5 125.9 L515.5 125.8 L516.4 125.5 L517.4 125.6 L518.2 126.2 L519.1 126.4 L520.5 125.7 L521.1 126.5 L521.2 127.7 L522.3 128.1 L523.3 128.6 L523.8 129.5 L523.5 130.6Z" fill="#CC9BCC"/>
<path d="M502.4 126.4 L502.0 127.4 L501.7 128.4 L500.7 128.8 L500.7 129.6 L500.7 130.4 L499.9 130.9 L499.0 131.0 L498.9 131.8 L498.6 132.3 L498.1 131.8 L497.2 132.6 L497.3 131.4 L496.7 131.3 L495.5 131.5 L495.1 130.8 L495.5 129.8 L495.3 129.0 L494.7 128.2 L493.8 127.3 L494.8 126.3 L494.3 125.3 L494.2 124.3 L494.5 123.4 L494.7 122.5 L495.9 122.5 L496.0 121.6 L496.3 120.9 L497.1 121.1 L497.5 120.7 L498.0 119.9 L498.7 119.9 L499.3 120.4 L499.1 121.3 L500.4 121.3 L500.1 122.3 L501.0 122.7 L500.8 123.7 L502.1 124.2 L502.1 125.3Z" fill="#77D845"/>
<path d="M518.5 145.3 L517.1 145.7 L517.1 146.3 L517.4 147.1 L516.7 147.4 L516.4 147.9 L516.0 148.3 L516.2 149.5 L515.5 149.5 L514.9 149.5 L514.6 149.0 L514.2 148.7 L513.9 148.0 L513.4 148.1 L512.8 148.3 L512.8 147.6 L512.1 147.6 L511.9 147.0 L512.3 146.3 L511.8 145.8 L511.6 145.2 L511.1 144.5 L512.0 144.0 L511.4 143.1 L511.5 142.4 L512.5 142.5 L512.6 141.6 L513.1 141.5 L513.4 140.9 L514.0 140.9 L514.5 141.3 L514.7 141.7 L515.8 141.2 L515.2 142.4 L515.6 142.7 L516.4 142.6 L516.4 143.4 L516.9 143.6 L517.8 143.8 L517.3 144.6Z" fill="#6282C8"/>
<path d="M535.8 116.0 L535.9 116.5 L535.2 116.7 L534.9 117.0 L534.7 117.6 L534.2 117.9 L534.0 118.8 L532.9 118.0 L532.5 118.9 L531.8 119.1 L531.0 119.8 L530.3 118.5 L529.4 118.8 L528.6 118.9 L527.8 119.0 L527.4 117.7 L526.6 117.8 L526.4 117.3 L525.0 116.9 L526.3 116.9 L525.9 115.8 L526.4 115.3 L526.6 114.7 L527.1 114.7 L527.4 114.4 L527.7 114.0 L528.4 113.9 L528.5 112.8 L529.3 112.5 L530.2 113.3 L531.0 113.4 L531.9 112.3 L532.6 113.3 L533.3 113.5 L534.4 113.1 L534.4 114.1 L535.3 114.1 L536.0 114.5 L535.5 115.1 L535.2 115.5Z" fill="#4A9A7A"/>
<path d="M554.2 106.5 L554.1 107.5 L554.2 108.5 L553.2 109.2 L552.7 110.0 L551.8 110.4 L551.0 110.8 L550.4 112.0 L549.4 112.4 L548.3 112.3 L547.2 112.0 L546.1 112.3 L545.2 111.9 L544.4 111.4 L542.9 111.6 L542.6 110.5 L542.4 109.5 L541.8 108.9 L540.6 108.4 L540.7 107.4 L541.0 106.5 L541.0 105.7 L540.2 104.4 L540.7 103.5 L542.0 103.3 L542.6 102.6 L542.8 101.2 L543.8 100.6 L545.0 100.6 L546.1 100.3 L547.3 99.8 L548.3 100.7 L549.1 101.3 L550.5 100.8 L551.2 101.7 L552.2 102.2 L552.7 103.0 L553.5 103.7 L553.7 104.7 L554.2 105.5Z" fill="#E06030"/>
<path d="M569.2 103.3 L569.1 104.6 L568.9 105.9 L567.4 105.9 L567.0 107.2 L565.7 107.2 L565.4 108.5 L564.4 109.1 L563.2 109.4 L562.3 111.1 L560.9 110.0 L559.3 110.9 L557.8 110.7 L557.0 109.2 L555.5 109.3 L554.5 108.2 L552.9 108.1 L551.3 107.5 L551.5 106.0 L551.3 105.0 L551.7 104.0 L551.9 102.3 L553.3 101.8 L554.0 100.9 L555.1 100.5 L555.4 99.4 L556.1 98.6 L557.2 98.1 L558.3 97.7 L559.5 97.5 L560.8 96.5 L562.2 97.5 L563.6 96.7 L565.2 96.5 L566.4 97.9 L568.2 97.8 L569.5 98.7 L569.9 100.0 L569.9 101.3 L569.5 102.3Z" fill="#D0D080"/>
<path d="M535.1 104.0 L534.8 104.3 L534.8 105.2 L534.3 105.5 L533.4 104.8 L533.4 106.1 L532.8 105.7 L532.2 105.5 L531.8 105.7 L531.6 106.8 L531.0 106.6 L530.5 105.9 L530.0 106.0 L529.3 106.4 L528.5 106.6 L528.9 105.4 L528.5 105.2 L527.7 105.3 L528.2 104.5 L527.5 104.4 L527.5 104.0 L527.7 103.7 L527.9 103.5 L527.4 102.4 L528.4 103.1 L528.5 102.2 L528.8 101.4 L529.5 102.1 L529.9 101.5 L530.5 101.6 L531.0 101.8 L531.4 102.1 L532.2 101.3 L532.2 102.4 L532.9 102.0 L533.3 102.3 L533.8 102.6 L534.3 102.9 L535.1 102.9 L534.6 103.6Z" fill="#C6434A"/>
<path d="M536.5 98.0 L535.9 98.4 L536.4 99.1 L535.8 99.4 L535.8 100.2 L534.9 100.0 L534.6 100.9 L533.8 100.2 L533.2 101.0 L532.6 101.0 L532.0 100.8 L531.5 100.2 L530.8 101.0 L530.3 100.8 L529.8 100.4 L529.1 100.4 L529.1 99.3 L528.7 99.1 L527.5 99.1 L528.1 98.5 L527.3 97.9 L528.5 97.7 L528.3 97.2 L528.3 96.6 L528.9 96.5 L529.0 95.7 L529.6 95.4 L530.1 95.1 L530.7 94.7 L531.4 95.1 L532.0 94.8 L532.7 94.7 L533.3 95.0 L534.0 95.1 L533.8 96.2 L534.7 95.9 L535.1 96.1 L535.3 96.7 L535.9 96.9 L536.4 97.3Z" fill="#70D8A0"/>
<path d="M558.4 124.0 L558.6 125.0 L558.6 126.2 L558.5 127.3 L558.2 128.4 L557.2 129.3 L556.7 130.2 L556.5 131.3 L556.6 132.6 L555.2 134.3 L553.2 134.2 L551.6 135.3 L549.9 135.8 L548.5 134.7 L547.0 135.5 L545.6 134.7 L544.1 135.3 L542.4 135.1 L540.6 135.0 L539.5 133.4 L537.2 132.7 L537.0 131.6 L536.2 130.7 L536.4 129.4 L536.4 128.4 L536.2 127.3 L535.8 126.3 L535.9 125.1 L536.1 124.1 L536.2 123.0 L535.6 121.6 L536.6 120.9 L536.7 119.8 L538.1 118.4 L538.8 116.7 L540.3 115.7 L541.2 114.1 L541.9 112.3 L543.9 111.9 L545.3 110.5 L547.1 110.0 L548.7 110.9 L550.5 111.3 L552.0 112.3 L553.2 113.6 L553.8 115.5 L555.7 116.3 L555.9 118.4 L557.2 119.9 L557.8 120.8 L557.2 122.0 L558.3 122.9Z" fill="#77D845"/>
<path d="M536.6 131.7 L535.6 132.7 L536.1 133.9 L536.1 135.0 L535.6 136.1 L534.5 136.8 L534.9 138.5 L533.5 138.7 L532.6 139.1 L531.8 139.7 L530.7 140.4 L529.5 140.4 L528.8 139.5 L528.4 138.4 L527.7 137.7 L527.3 136.7 L526.7 135.8 L526.2 134.8 L524.9 134.1 L525.8 132.7 L524.4 131.8 L524.8 130.5 L524.9 129.3 L525.1 128.0 L525.3 126.6 L526.4 126.1 L527.5 125.8 L528.5 125.7 L528.9 124.4 L529.8 123.9 L530.8 124.4 L531.7 124.2 L532.5 124.6 L533.6 124.5 L534.5 125.1 L535.4 125.8 L535.6 127.0 L536.1 128.2 L537.1 129.4 L536.7 130.6Z" fill="#AE713E"/>
<path d="M566.7 130.6 L566.9 131.6 L566.9 132.7 L566.4 133.6 L565.7 134.3 L564.7 134.8 L564.4 136.2 L563.1 136.1 L562.4 137.7 L561.0 137.0 L559.8 137.6 L558.4 138.0 L557.4 137.1 L556.0 137.1 L555.4 135.7 L553.9 136.0 L553.0 135.1 L552.6 133.8 L552.1 132.9 L552.0 131.9 L551.4 130.4 L552.1 129.3 L552.8 128.5 L553.8 128.0 L554.4 127.3 L554.4 126.2 L555.7 125.7 L555.8 124.1 L557.3 124.0 L558.5 123.5 L559.7 123.9 L561.0 124.0 L562.0 124.7 L563.1 125.1 L564.3 125.4 L565.1 126.1 L566.4 126.6 L566.7 127.7 L566.9 128.7 L567.1 129.7Z" fill="#AE713E"/>
<path d="M563.0 143.4 L563.8 144.9 L564.4 146.6 L564.0 148.5 L562.2 149.1 L561.5 150.4 L560.3 150.0 L559.1 150.3 L557.9 151.6 L556.8 151.3 L555.6 151.7 L553.7 151.7 L552.0 152.0 L550.0 152.2 L549.0 152.6 L547.9 152.8 L546.7 152.7 L545.6 152.5 L544.4 152.7 L543.0 153.2 L542.6 151.8 L541.6 151.5 L539.7 150.6 L538.8 149.1 L538.8 147.3 L537.5 146.2 L536.6 144.9 L537.2 143.3 L536.4 141.7 L537.2 140.3 L537.7 138.6 L539.0 137.5 L540.4 136.5 L541.9 135.4 L542.7 134.8 L543.4 134.1 L544.2 133.2 L545.4 132.8 L546.6 133.0 L547.8 132.5 L548.9 132.8 L550.0 133.2 L550.9 134.2 L552.1 133.8 L553.1 134.0 L554.1 134.3 L556.0 134.7 L557.6 135.9 L559.3 136.7 L560.3 138.1 L562.0 138.9 L562.6 140.3 L562.9 141.9Z" fill="#6282C8"/>
<path d="M547.0 153.0 L547.0 154.6 L547.2 156.3 L546.6 158.0 L546.2 159.8 L545.8 161.8 L545.3 162.7 L545.1 164.0 L543.1 164.8 L541.3 165.4 L539.4 165.4 L537.4 165.1 L535.9 164.2 L534.5 163.2 L533.0 162.8 L531.3 162.5 L530.4 160.8 L528.2 160.2 L527.9 158.3 L527.2 156.5 L527.7 154.7 L528.0 153.0 L526.7 151.3 L527.7 149.4 L528.1 147.7 L528.0 145.3 L529.6 144.2 L531.5 144.1 L533.1 143.4 L534.5 142.7 L536.0 142.2 L537.8 142.1 L539.4 141.0 L541.3 140.8 L542.9 141.4 L543.6 142.1 L544.3 142.6 L544.9 143.5 L546.1 144.2 L545.4 145.4 L546.3 146.3 L546.1 148.2 L547.2 149.7 L547.2 151.4Z" fill="#6B8F35"/>
<path d="M579.6 146.2 L579.2 147.8 L579.2 149.7 L578.3 151.2 L577.0 152.1 L576.5 153.7 L574.9 154.4 L574.2 156.1 L572.7 156.6 L571.1 156.8 L569.8 156.1 L568.2 156.1 L566.9 155.3 L565.3 155.4 L563.6 155.4 L562.2 154.4 L561.2 153.0 L559.5 151.6 L560.4 149.7 L560.0 147.9 L560.3 146.2 L560.9 144.7 L561.0 143.1 L561.8 141.7 L561.9 140.1 L563.1 139.2 L564.0 137.7 L565.6 137.6 L566.6 136.2 L568.3 136.4 L569.6 135.6 L571.2 134.9 L572.8 135.2 L574.7 135.5 L575.5 137.2 L576.6 138.6 L577.3 140.1 L578.0 141.5 L578.7 142.9 L579.7 144.4Z" fill="#C6434A"/>
<path d="M589.7 140.4 L589.3 141.2 L588.4 141.6 L587.7 142.1 L587.8 143.6 L586.5 143.5 L585.9 144.5 L585.0 145.1 L583.7 144.9 L582.5 145.2 L581.2 145.8 L580.0 144.9 L578.6 145.4 L578.1 143.9 L576.5 144.4 L576.1 143.5 L575.5 142.9 L574.7 142.4 L574.0 141.8 L573.3 141.2 L572.5 140.4 L572.4 139.4 L573.7 139.1 L573.6 137.7 L574.7 137.6 L575.3 136.3 L576.5 136.3 L577.6 135.8 L578.9 136.1 L580.0 135.7 L581.2 135.4 L582.4 135.5 L583.5 136.3 L584.5 136.5 L585.8 136.3 L586.3 137.5 L587.3 137.7 L588.5 137.9 L588.5 138.9 L588.9 139.5Z" fill="#D8D040"/>
<path d="M590.9 150.1 L592.1 151.4 L591.1 152.3 L590.3 153.1 L589.9 154.5 L588.7 154.8 L587.8 155.4 L586.9 156.1 L585.8 156.0 L584.6 155.9 L583.7 156.5 L582.6 156.4 L581.3 157.0 L580.0 156.8 L579.2 155.8 L578.6 154.9 L577.3 154.3 L577.8 153.0 L576.9 152.1 L576.7 151.1 L576.2 150.1 L577.0 149.1 L577.4 148.1 L576.6 146.7 L577.9 146.2 L578.5 145.5 L579.4 144.8 L580.3 143.8 L581.5 144.3 L582.6 144.0 L583.7 144.1 L584.8 143.6 L585.9 143.7 L586.9 144.3 L588.2 144.4 L589.1 145.1 L589.4 146.2 L590.2 147.0 L590.6 148.0 L591.0 149.0Z" fill="#70D8A0"/>
<path d="M594.2 146.0 L594.0 146.9 L593.9 147.7 L594.0 148.7 L593.6 149.4 L592.3 149.2 L592.2 150.1 L592.1 151.0 L591.5 151.5 L590.8 152.0 L589.9 152.2 L589.4 151.2 L588.0 151.8 L588.4 150.4 L587.8 150.0 L587.5 149.3 L586.7 149.0 L587.0 148.1 L585.9 147.7 L585.9 146.9 L586.4 146.2 L586.9 145.7 L586.7 144.8 L586.9 144.3 L587.0 143.6 L587.8 142.8 L587.7 141.9 L587.7 140.8 L588.3 139.9 L589.3 139.4 L589.9 140.1 L590.6 140.6 L591.0 141.3 L591.8 141.6 L592.5 142.0 L592.8 142.7 L592.2 143.7 L593.1 144.1 L593.6 144.6 L593.8 145.3Z" fill="#70D8A0"/>
<path d="M616.7 138.4 L616.7 139.5 L616.6 140.5 L616.4 141.6 L616.5 142.6 L617.1 144.0 L616.7 145.3 L615.0 145.4 L614.5 146.1 L613.5 146.7 L612.7 147.7 L611.4 147.4 L610.3 148.1 L609.1 148.3 L608.0 148.0 L607.0 147.8 L606.0 148.3 L604.3 148.9 L602.4 148.6 L600.5 148.6 L599.7 150.0 L598.6 149.5 L597.5 149.4 L596.2 150.0 L595.4 148.8 L594.3 148.9 L593.0 148.9 L592.7 147.5 L591.3 147.3 L590.3 146.6 L590.1 145.4 L588.9 144.8 L588.8 143.7 L589.1 142.4 L588.3 141.6 L587.8 140.6 L587.9 139.5 L587.4 138.4 L587.1 137.3 L588.3 136.4 L587.8 135.1 L588.4 134.1 L588.9 133.1 L589.5 132.2 L590.0 131.2 L591.1 130.8 L591.9 129.9 L592.5 128.8 L593.7 128.7 L594.7 128.3 L595.8 128.5 L596.8 128.3 L597.8 128.4 L598.8 127.8 L600.6 127.0 L602.5 127.0 L604.3 127.1 L605.4 127.7 L606.4 127.0 L607.5 127.8 L608.7 126.9 L609.6 127.9 L610.6 128.1 L611.5 128.9 L612.7 129.0 L613.4 129.8 L614.4 130.4 L615.2 131.2 L615.6 132.3 L615.6 133.4 L616.4 134.3 L616.6 135.3 L616.8 136.3 L617.1 137.3Z" fill="#D2A040"/>
<path d="M626.7 153.0 L627.4 154.7 L626.3 156.0 L626.2 157.6 L624.7 158.3 L624.3 159.7 L623.9 161.1 L623.3 162.7 L622.0 163.5 L620.7 163.2 L619.3 163.9 L618.6 162.6 L617.1 162.3 L616.4 161.1 L615.9 160.0 L614.1 159.6 L613.4 158.4 L613.6 156.9 L613.8 155.5 L613.4 154.3 L613.2 153.0 L612.6 151.6 L611.7 150.0 L612.0 148.1 L612.1 146.1 L613.3 144.9 L614.4 143.9 L615.7 143.4 L617.0 143.0 L618.4 142.8 L619.3 144.0 L620.2 144.4 L621.8 143.9 L622.7 144.8 L623.0 146.1 L624.4 146.6 L624.7 147.9 L625.6 148.8 L626.6 149.9 L626.4 151.5Z" fill="#7A3A80"/>
<path d="M614.5 150.0 L613.7 150.6 L613.8 151.2 L614.1 152.0 L613.1 152.1 L613.3 153.0 L612.9 153.4 L612.2 153.3 L611.8 153.4 L611.5 154.4 L611.1 153.8 L610.5 153.9 L610.1 153.7 L609.3 153.9 L609.3 153.1 L608.6 153.0 L608.5 152.4 L608.0 151.9 L607.9 151.3 L607.9 150.6 L608.6 150.0 L607.9 149.4 L607.6 148.7 L608.6 148.3 L608.7 147.7 L608.4 146.7 L609.3 146.9 L609.5 146.0 L610.1 146.5 L610.5 145.7 L611.0 146.5 L611.4 146.4 L612.1 145.9 L612.5 146.3 L612.5 146.9 L613.3 147.1 L613.0 147.8 L614.0 148.1 L614.2 148.7 L613.3 149.5Z" fill="#D24284"/>
<path d="M571.9 158.8 L572.3 159.8 L571.1 160.5 L570.8 161.3 L570.6 162.2 L570.1 163.2 L569.5 164.1 L568.4 164.0 L567.6 164.8 L566.7 164.4 L565.8 163.9 L565.0 163.9 L563.9 164.9 L562.9 164.5 L562.0 164.0 L561.0 163.5 L560.3 162.5 L561.3 161.3 L561.2 160.4 L560.9 159.6 L559.6 158.9 L560.5 157.9 L560.7 157.1 L559.9 155.7 L560.6 154.9 L561.8 154.9 L562.6 154.3 L563.5 154.5 L563.9 153.3 L565.0 153.6 L565.8 153.1 L566.8 152.1 L567.8 152.6 L568.3 153.5 L568.8 154.1 L569.8 154.8 L570.1 155.7 L569.9 156.7 L570.4 157.4 L570.7 158.1Z" fill="#7EC8E0"/>
<path d="M606.3 122.5 L606.0 123.1 L606.4 123.8 L605.8 124.2 L605.6 125.4 L604.6 125.9 L603.3 125.5 L602.1 125.8 L600.9 126.0 L599.7 126.9 L598.5 125.8 L597.3 126.6 L596.1 126.2 L594.9 126.2 L593.6 126.1 L592.8 125.1 L592.1 124.5 L591.6 124.0 L590.1 123.9 L590.3 123.1 L591.1 122.8 L590.5 121.6 L591.2 121.1 L592.2 121.1 L592.2 120.0 L593.0 119.7 L594.0 119.6 L594.7 118.5 L595.8 118.1 L597.2 118.7 L598.5 118.4 L599.7 118.9 L601.1 118.4 L602.4 118.4 L602.8 119.9 L604.0 119.7 L604.8 120.0 L605.5 120.5 L605.2 121.6 L605.6 122.1Z" fill="#7EC8E0"/>
<path d="M642.2 97.3 L642.4 97.7 L642.9 98.4 L642.7 99.0 L642.2 99.3 L641.7 99.4 L640.9 99.0 L640.9 100.0 L640.3 100.1 L639.8 100.1 L639.4 99.6 L638.9 99.4 L638.6 99.1 L638.2 99.0 L637.9 98.8 L637.4 98.9 L636.7 98.9 L637.3 98.2 L636.2 98.1 L637.0 97.6 L636.3 97.4 L636.1 97.0 L636.5 96.5 L636.8 96.3 L636.3 95.3 L636.8 94.8 L637.4 94.9 L637.9 94.9 L638.4 95.1 L638.7 94.5 L639.2 94.1 L639.8 94.8 L640.4 94.6 L641.2 94.5 L641.2 95.2 L640.9 95.8 L641.5 96.0 L641.5 96.3 L641.5 96.9 L641.5 97.3Z" fill="#D06050"/>
<path d="M619.9 126.0 L619.6 126.4 L619.7 126.8 L619.5 127.1 L620.3 128.1 L619.3 127.7 L619.6 129.1 L619.0 129.3 L618.4 128.6 L617.9 128.6 L617.5 128.4 L617.1 128.4 L616.4 129.4 L616.0 128.9 L615.7 128.5 L614.9 128.6 L615.0 127.8 L614.3 127.6 L614.1 127.1 L614.9 126.5 L613.8 125.9 L614.6 125.6 L615.1 125.3 L614.6 124.5 L615.3 124.4 L615.2 123.7 L615.7 123.5 L616.1 123.3 L616.5 122.9 L617.1 123.6 L617.5 123.4 L618.0 123.1 L618.4 123.1 L619.0 123.0 L619.1 123.9 L619.5 124.0 L620.2 124.0 L619.8 124.6 L620.9 125.1 L620.2 125.5Z" fill="#D8A0D0"/>
<path d="M508.8 164.7 L509.9 164.3 L510.9 163.9 L511.7 163.0 L512.2 161.8 L512.9 160.9 L514.2 160.7 L514.7 159.7 L515.9 159.5 L516.2 158.2 L517.6 158.4 L518.0 157.3 L518.8 156.6 L519.9 156.4 L520.9 156.0 L521.1 154.6 L522.2 154.4 L523.4 154.2 L523.7 152.9 L524.5 152.2 L525.5 151.8 L526.3 151.1 L527.5 151.1 L528.2 150.2 L529.5 150.2 L530.0 149.1 L530.6 150.0 L530.3 151.2 L530.4 152.3 L531.3 153.1 L531.7 154.0 L531.8 155.1 L532.3 156.0 L532.5 157.1 L533.5 157.8 L533.1 159.2 L533.7 160.1 L533.7 161.2 L534.2 162.2 L535.5 162.8 L535.0 164.2 L536.1 164.5 L537.0 165.3 L538.0 165.6 L539.0 165.2 L539.9 166.0 L541.0 165.6 L542.0 165.3 L543.1 165.1 L543.9 166.4 L545.0 166.0 L546.0 166.7 L547.0 165.8 L548.0 166.3 L549.0 166.3 L550.0 165.4 L551.0 166.0 L552.0 166.5 L553.0 165.6 L554.0 166.2 L555.0 166.3 L556.0 165.3 L557.0 166.1 L558.0 165.3 L559.0 165.8 L560.0 165.5 L561.0 166.4 L562.1 165.5 L562.9 166.9 L564.0 166.0 L564.9 167.0 L566.0 166.0 L567.0 166.2 L568.0 166.1 L569.0 166.3 L570.1 166.2 L571.0 166.8 L572.2 166.8 L572.2 168.2 L573.0 168.8 L574.2 169.2 L574.9 169.9 L575.4 170.8 L575.6 172.0 L577.1 172.1 L577.1 173.4 L578.3 173.9 L577.6 175.1 L578.5 176.0 L579.0 176.9 L579.3 177.9 L579.3 178.9 L578.4 180.1 L578.7 181.1 L580.0 181.9 L579.1 183.1 L580.3 183.9 L580.2 184.9 L580.0 186.1 L579.1 186.7 L578.0 186.2 L577.0 186.5 L576.1 187.0 L575.0 186.4 L574.0 186.5 L573.0 187.1 L572.1 187.5 L570.9 186.4 L570.1 187.6 L569.0 187.0 L568.0 187.6 L567.0 187.5 L565.9 186.9 L565.0 187.5 L564.0 187.6 L562.9 187.1 L562.1 188.4 L561.0 187.6 L560.0 188.2 L559.1 187.3 L558.0 187.6 L556.9 188.1 L556.1 187.1 L555.0 187.4 L554.1 186.5 L553.0 186.8 L552.0 186.6 L550.9 187.3 L550.0 186.7 L549.0 186.4 L548.1 186.0 L546.9 186.9 L546.0 185.8 L545.1 185.8 L544.0 185.9 L543.1 185.1 L542.0 185.5 L541.0 184.9 L540.2 184.2 L539.0 184.5 L538.1 183.9 L537.1 184.0 L536.1 183.8 L534.9 184.0 L533.9 184.1 L533.1 182.8 L532.0 183.3 L531.0 183.0 L530.1 182.4 L529.1 181.9 L528.1 182.0 L527.1 181.8 L525.8 182.0 L524.9 181.4 L523.9 180.9 L523.4 179.5 L522.1 179.6 L521.1 179.3 L520.3 178.4 L519.0 178.4 L518.4 177.5 L517.4 177.2 L516.5 176.6 L516.0 175.6 L514.7 175.6 L514.7 173.9 L513.7 173.5 L512.6 173.3 L511.7 172.8 L510.7 172.1 L510.3 171.1 L509.9 170.1 L510.8 168.8 L509.7 168.0 L509.9 166.9 L508.8 166.1Z" fill="#AE713E"/>
<path d="M560.8 176.1 L559.7 176.2 L559.8 176.9 L559.7 177.6 L558.9 177.9 L558.2 178.4 L557.3 178.6 L556.2 178.6 L555.1 179.2 L554.1 178.2 L552.9 179.3 L552.1 178.7 L551.2 178.1 L550.1 178.7 L549.1 177.9 L547.8 178.7 L547.1 177.5 L546.4 177.1 L545.1 177.2 L545.9 176.6 L545.8 176.3 L545.8 175.7 L546.1 175.0 L546.8 174.8 L547.2 173.8 L548.4 174.5 L549.1 173.6 L549.9 172.9 L551.0 173.3 L552.0 173.1 L553.0 173.1 L554.0 173.7 L555.1 172.9 L556.1 173.2 L557.0 174.0 L557.9 174.1 L558.5 174.8 L559.4 174.7 L560.2 174.9 L560.4 175.5Z" fill="#5F748F"/>
<path d="M561.1 169.9 L561.1 170.4 L560.9 170.8 L561.6 171.3 L562.0 172.0 L561.3 172.3 L560.6 172.1 L560.4 172.4 L560.0 172.6 L559.5 172.8 L559.0 173.7 L558.6 172.4 L557.9 173.6 L557.6 172.8 L557.0 172.7 L557.2 172.0 L556.2 171.8 L556.0 171.3 L555.9 170.9 L556.6 170.4 L556.6 170.0 L556.5 169.6 L555.6 168.9 L556.8 168.9 L556.3 168.0 L557.1 168.1 L557.4 167.8 L557.3 166.9 L558.3 167.5 L558.3 166.0 L558.9 167.1 L559.6 166.4 L560.1 166.7 L560.6 167.1 L560.3 168.0 L560.7 168.2 L561.5 168.2 L561.2 168.8 L561.7 169.1 L561.8 169.6Z" fill="#77D845"/>
<circle cx="563.4" cy="102.4" r="0.9" fill="#D8D040"/>
<circle cx="635.7" cy="110.4" r="0.9" fill="#7EDAC0"/>
<circle cx="529.5" cy="100.7" r="0.8" fill="#D24284"/>
<circle cx="579.6" cy="160.9" r="0.7" fill="#E06030"/>
<circle cx="533.0" cy="74.6" r="0.7" fill="#7EC8E0"/>
<circle cx="539.3" cy="161.8" r="0.8" fill="#836AD4"/>
<circle cx="605.1" cy="18.5" r="0.7" fill="#2E2E4E"/>
<circle cx="593.9" cy="84.4" r="1.1" fill="#D050D8"/>
<circle cx="552.4" cy="111.8" r="0.9" fill="#77D845"/>
<circle cx="577.9" cy="116.9" r="0.9" fill="#6282C8"/>
<circle cx="515.0" cy="23.0" r="0.7" fill="#C6434A"/>
<circle cx="499.8" cy="30.1" r="0.7" fill="#D8D040"/>
<circle cx="576.8" cy="66.9" r="1.0" fill="#7EDAC0"/>
<circle cx="634.6" cy="65.1" r="0.7" fill="#D24284"/>
<circle cx="591.6" cy="103.6" r="1.0" fill="#E06030"/>
<circle cx="580.6" cy="56.7" r="1.1" fill="#7EC8E0"/>
<circle cx="573.8" cy="126.9" r="1.0" fill="#836AD4"/>
<circle cx="604.3" cy="132.4" r="0.8" fill="#2E2E4E"/>
<circle cx="490.9" cy="89.6" r="1.1" fill="#D050D8"/>
<circle cx="507.4" cy="137.1" r="1.0" fill="#77D845"/>
<circle cx="594.4" cy="46.9" r="0.6" fill="#6282C8"/>
<circle cx="526.5" cy="111.7" r="0.8" fill="#C6434A"/>
<circle cx="524.5" cy="75.5" r="1.0" fill="#D8D040"/>
<circle cx="524.6" cy="99.2" r="0.8" fill="#7EDAC0"/>
<circle cx="638.9" cy="148.6" r="1.0" fill="#D24284"/>
<circle cx="570.3" cy="75.7" r="1.0" fill="#E06030"/>
<circle cx="615.5" cy="34.4" r="0.5" fill="#7EC8E0"/>
<circle cx="556.2" cy="55.2" r="1.1" fill="#836AD4"/>
<circle cx="525.9" cy="158.1" r="0.9" fill="#2E2E4E"/>
<circle cx="614.4" cy="84.5" r="1.0" fill="#D050D8"/>
<circle cx="636.6" cy="38.6" r="0.7" fill="#77D845"/>
<circle cx="564.9" cy="72.6" r="1.1" fill="#6282C8"/>
<circle cx="628.1" cy="103.6" r="0.6" fill="#C6434A"/>
<circle cx="543.4" cy="60.9" r="1.0" fill="#D8D040"/>
<circle cx="524.4" cy="25.6" r="0.9" fill="#7EDAC0"/>
<circle cx="528.4" cy="91.6" r="0.7" fill="#D24284"/>
<circle cx="603.6" cy="53.4" r="1.0" fill="#E06030"/>
<circle cx="502.8" cy="136.9" r="1.2" fill="#7EC8E0"/>
<circle cx="528.6" cy="171.9" r="0.9" fill="#836AD4"/>
<circle cx="573.4" cy="52.9" r="1.0" fill="#2E2E4E"/>
<circle cx="554.2" cy="107.0" r="0.8" fill="#D050D8"/>
<circle cx="606.2" cy="96.3" r="0.7" fill="#77D845"/>
<circle cx="534.4" cy="101.7" r="1.2" fill="#6282C8"/>
<circle cx="500.7" cy="15.4" r="0.8" fill="#C6434A"/>
<circle cx="513.0" cy="157.2" r="0.9" fill="#D8D040"/>
<circle cx="612.0" cy="142.8" r="0.5" fill="#7EDAC0"/>
<circle cx="621.4" cy="80.1" r="0.7" fill="#D24284"/>
<circle cx="619.5" cy="145.4" r="1.1" fill="#E06030"/>
<circle cx="622.3" cy="165.3" r="0.7" fill="#7EC8E0"/>
<circle cx="522.5" cy="21.1" r="1.0" fill="#836AD4"/>
<circle cx="543.0" cy="119.2" r="1.1" fill="#2E2E4E"/>
<circle cx="524.6" cy="170.9" r="0.9" fill="#D050D8"/>
<circle cx="623.1" cy="94.4" r="1.1" fill="#77D845"/>
<circle cx="560.7" cy="141.5" r="0.8" fill="#6282C8"/>
<circle cx="485.1" cy="128.0" r="0.6" fill="#C6434A"/>
<circle cx="631.5" cy="102.6" r="0.8" fill="#D8D040"/>
<circle cx="604.5" cy="164.3" r="0.8" fill="#7EDAC0"/>
<circle cx="593.5" cy="80.1" r="0.6" fill="#D24284"/>
<circle cx="511.3" cy="148.2" r="0.8" fill="#E06030"/>
<circle cx="539.1" cy="63.7" r="0.7" fill="#7EC8E0"/>
</g></g>
<text x="479.20" y="9.60" font-size="10.5" text-anchor="start" fill="#000" font-weight="bold">B</text>
<line x1="61.55" y1="197.30" x2="61.55" y2="310.10" stroke="#EBEBEB" stroke-width="0.55"/>
<line x1="103.45" y1="197.30" x2="103.45" y2="310.10" stroke="#EBEBEB" stroke-width="0.55"/>
<line x1="145.35" y1="197.30" x2="145.35" y2="310.10" stroke="#EBEBEB" stroke-width="0.55"/>
<line x1="187.25" y1="197.30" x2="187.25" y2="310.10" stroke="#EBEBEB" stroke-width="0.55"/>
<line x1="32.20" y1="292.78" x2="221.70" y2="292.78" stroke="#EBEBEB" stroke-width="0.55"/>
<line x1="32.20" y1="266.73" x2="221.70" y2="266.73" stroke="#EBEBEB" stroke-width="0.55"/>
<line x1="32.20" y1="240.68" x2="221.70" y2="240.68" stroke="#EBEBEB" stroke-width="0.55"/>
<line x1="32.20" y1="214.62" x2="221.70" y2="214.62" stroke="#EBEBEB" stroke-width="0.55"/>
<line x1="40.60" y1="197.30" x2="40.60" y2="310.10" stroke="#EBEBEB" stroke-width="1.0"/>
<line x1="82.50" y1="197.30" x2="82.50" y2="310.10" stroke="#EBEBEB" stroke-width="1.0"/>
<line x1="124.40" y1="197.30" x2="124.40" y2="310.10" stroke="#EBEBEB" stroke-width="1.0"/>
<line x1="166.30" y1="197.30" x2="166.30" y2="310.10" stroke="#EBEBEB" stroke-width="1.0"/>
<line x1="208.20" y1="197.30" x2="208.20" y2="310.10" stroke="#EBEBEB" stroke-width="1.0"/>
<line x1="32.20" y1="305.80" x2="221.70" y2="305.80" stroke="#EBEBEB" stroke-width="1.0"/>
<line x1="32.20" y1="279.75" x2="221.70" y2="279.75" stroke="#EBEBEB" stroke-width="1.0"/>
<line x1="32.20" y1="253.70" x2="221.70" y2="253.70" stroke="#EBEBEB" stroke-width="1.0"/>
<line x1="32.20" y1="227.65" x2="221.70" y2="227.65" stroke="#EBEBEB" stroke-width="1.0"/>
<line x1="32.20" y1="201.60" x2="221.70" y2="201.60" stroke="#EBEBEB" stroke-width="1.0"/>
<path d="M57.0 300.5 L66.0 287.0 L74.0 276.0 L83.0 266.5 L92.0 259.5 L100.0 254.8 L110.0 250.0 L121.0 246.4 L131.0 242.5 L142.0 239.3 L152.0 236.3 L163.0 233.9 L173.0 232.0 L184.0 230.1 L195.0 228.5 L207.0 227.2" fill="none" stroke="#A8DD8C" stroke-width="1.1"/>
<path d="M48.9 304.5 L57.0 292.0 L66.0 279.5 L75.0 268.5 L84.0 260.0 L92.0 253.0 L100.0 247.5 L110.0 242.0 L121.0 237.7 L131.0 234.0 L142.0 230.8 L152.0 228.5 L163.0 226.6 L173.0 225.2 L184.0 223.9 L195.0 222.8 L207.0 221.8" fill="none" stroke="#3A9A3A" stroke-width="1.3" stroke-dasharray="3.2 2.2"/>
<path d="M58.20 295.69L60.50 297.99L58.20 300.29L55.90 297.99Z" fill="#F0141E"/>
<path d="M66.58 284.95L68.88 287.25L66.58 289.55L64.28 287.25Z" fill="#F0141E"/>
<path d="M73.28 278.08L75.58 280.38L73.28 282.68L70.98 280.38Z" fill="#F0141E"/>
<path d="M85.85 263.49L88.15 265.79L85.85 268.09L83.55 265.79Z" fill="#F0141E"/>
<path d="M94.23 254.73L96.53 257.03L94.23 259.33L91.93 257.03Z" fill="#F0141E"/>
<path d="M112.67 242.54L114.97 244.84L112.67 247.14L110.37 244.84Z" fill="#F0141E"/>
<path d="M129.43 232.02L131.73 234.32L129.43 236.62L127.13 234.32Z" fill="#F0141E"/>
<path d="M143.67 227.85L145.97 230.15L143.67 232.45L141.37 230.15Z" fill="#F0141E"/>
<path d="M213.23 214.20L215.53 216.50L213.23 218.80L210.93 216.50Z" fill="#F0141E"/>
<path d="M58.20 284.95L60.50 287.25L58.20 289.55L55.90 287.25Z" fill="#F99C1A"/>
<path d="M66.58 275.89L68.88 278.19L66.58 280.49L64.28 278.19Z" fill="#F99C1A"/>
<path d="M73.28 267.55L75.58 269.85L73.28 272.15L70.98 269.85Z" fill="#F99C1A"/>
<path d="M85.85 250.88L88.15 253.18L85.85 255.48L83.55 253.18Z" fill="#F99C1A"/>
<path d="M94.23 240.15L96.53 242.45L94.23 244.75L91.93 242.45Z" fill="#F99C1A"/>
<path d="M112.67 228.68L114.97 230.98L112.67 233.28L110.37 230.98Z" fill="#F99C1A"/>
<path d="M129.43 220.66L131.73 222.96L129.43 225.26L127.13 222.96Z" fill="#F99C1A"/>
<path d="M143.67 216.08L145.97 218.38L143.67 220.68L141.37 218.38Z" fill="#F99C1A"/>
<path d="M213.23 206.91L215.53 209.21L213.23 211.51L210.93 209.21Z" fill="#F99C1A"/>
<path d="M58.20 281.41L60.50 283.71L58.20 286.01L55.90 283.71Z" fill="#D8B0E0"/>
<path d="M66.58 270.68L68.88 272.98L66.58 275.28L64.28 272.98Z" fill="#D8B0E0"/>
<path d="M73.28 258.69L75.58 260.99L73.28 263.29L70.98 260.99Z" fill="#D8B0E0"/>
<path d="M85.85 244.42L88.15 246.72L85.85 249.02L83.55 246.72Z" fill="#D8B0E0"/>
<path d="M94.23 232.02L96.53 234.32L94.23 236.62L91.93 234.32Z" fill="#D8B0E0"/>
<path d="M112.67 222.75L114.97 225.05L112.67 227.35L110.37 225.05Z" fill="#D8B0E0"/>
<path d="M129.43 215.45L131.73 217.75L129.43 220.05L127.13 217.75Z" fill="#D8B0E0"/>
<path d="M143.67 214.10L145.97 216.40L143.67 218.70L141.37 216.40Z" fill="#D8B0E0"/>
<path d="M213.23 207.64L215.53 209.94L213.23 212.24L210.93 209.94Z" fill="#D8B0E0"/>
<path d="M58.20 278.60L60.50 280.90L58.20 283.20L55.90 280.90Z" fill="#7EE6EC"/>
<path d="M66.58 255.57L68.88 257.87L66.58 260.17L64.28 257.87Z" fill="#7EE6EC"/>
<path d="M73.28 243.90L75.58 246.20L73.28 248.50L70.98 246.20Z" fill="#7EE6EC"/>
<path d="M85.85 232.64L88.15 234.94L85.85 237.24L83.55 234.94Z" fill="#7EE6EC"/>
<path d="M94.23 224.31L96.53 226.61L94.23 228.91L91.93 226.61Z" fill="#7EE6EC"/>
<path d="M112.67 217.01L114.97 219.31L112.67 221.61L110.37 219.31Z" fill="#7EE6EC"/>
<path d="M129.43 217.01L131.73 219.31L129.43 221.61L127.13 219.31Z" fill="#7EE6EC"/>
<path d="M143.67 213.78L145.97 216.08L143.67 218.38L141.37 216.08Z" fill="#7EE6EC"/>
<path d="M213.23 208.68L215.53 210.98L213.23 213.28L210.93 210.98Z" fill="#7EE6EC"/>
<path d="M48.98 301.63L51.83 306.73L46.13 306.73Z" fill="#000"/>
<path d="M57.36 293.29L60.21 298.39L54.51 298.39Z" fill="#000"/>
<path d="M65.74 279.64L68.59 284.74L62.89 284.74Z" fill="#000"/>
<path d="M74.12 270.79L76.97 275.89L71.27 275.89Z" fill="#000"/>
<path d="M82.50 263.39L85.35 268.49L79.65 268.49Z" fill="#000"/>
<path d="M124.40 243.59L127.25 248.69L121.55 248.69Z" fill="#000"/>
<path d="M166.30 231.50L169.15 236.60L163.45 236.60Z" fill="#000"/>
<path d="M208.20 223.58L211.05 228.68L205.35 228.68Z" fill="#000"/>
<rect x="32.2" y="197.3" width="189.50" height="112.80" fill="none" stroke="#4D4D4D" stroke-width="0.9"/>
<line x1="29.50" y1="305.80" x2="32.20" y2="305.80" stroke="#333" stroke-width="0.9"/>
<text x="27.90" y="308.70" font-size="8" text-anchor="end" fill="#4D4D4D">0.00</text>
<line x1="29.50" y1="279.75" x2="32.20" y2="279.75" stroke="#333" stroke-width="0.9"/>
<text x="27.90" y="282.65" font-size="8" text-anchor="end" fill="#4D4D4D">0.25</text>
<line x1="29.50" y1="253.70" x2="32.20" y2="253.70" stroke="#333" stroke-width="0.9"/>
<text x="27.90" y="256.60" font-size="8" text-anchor="end" fill="#4D4D4D">0.50</text>
<line x1="29.50" y1="227.65" x2="32.20" y2="227.65" stroke="#333" stroke-width="0.9"/>
<text x="27.90" y="230.55" font-size="8" text-anchor="end" fill="#4D4D4D">0.75</text>
<line x1="29.50" y1="201.60" x2="32.20" y2="201.60" stroke="#333" stroke-width="0.9"/>
<text x="27.90" y="204.50" font-size="8" text-anchor="end" fill="#4D4D4D">1.00</text>
<line x1="40.60" y1="310.10" x2="40.60" y2="312.80" stroke="#333" stroke-width="0.9"/>
<text x="40.60" y="320.70" font-size="8" text-anchor="middle" fill="#4D4D4D">0.0</text>
<line x1="82.50" y1="310.10" x2="82.50" y2="312.80" stroke="#333" stroke-width="0.9"/>
<text x="82.50" y="320.70" font-size="8" text-anchor="middle" fill="#4D4D4D">0.5</text>
<line x1="124.40" y1="310.10" x2="124.40" y2="312.80" stroke="#333" stroke-width="0.9"/>
<text x="124.40" y="320.70" font-size="8" text-anchor="middle" fill="#4D4D4D">1.0</text>
<line x1="166.30" y1="310.10" x2="166.30" y2="312.80" stroke="#333" stroke-width="0.9"/>
<text x="166.30" y="320.70" font-size="8" text-anchor="middle" fill="#4D4D4D">1.5</text>
<line x1="208.20" y1="310.10" x2="208.20" y2="312.80" stroke="#333" stroke-width="0.9"/>
<text x="208.20" y="320.70" font-size="8" text-anchor="middle" fill="#4D4D4D">2.0</text>
<rect x="117.60" y="262.00" width="100.40" height="40.30" fill="#fff"/>
<path d="M122.60 264.00L125.45 269.10L119.75 269.10Z" fill="#000"/>
<text x="131.50" y="269.00" font-size="8.05" text-anchor="start" fill="#000">1 fixed</text>
<path d="M122.60 273.80L124.80 276.00L122.60 278.20L120.40 276.00Z" fill="#F0141E"/>
<text x="131.50" y="277.90" font-size="8.05" text-anchor="start" fill="#000">1 random</text>
<path d="M173.50 273.80L175.70 276.00L173.50 278.20L171.30 276.00Z" fill="#F99C1A"/>
<text x="182.60" y="277.90" font-size="8.05" text-anchor="start" fill="#000">2 random</text>
<path d="M122.60 281.10L124.80 283.30L122.60 285.50L120.40 283.30Z" fill="#D8B0E0"/>
<text x="131.50" y="285.30" font-size="8.05" text-anchor="start" fill="#000">3 random</text>
<path d="M173.50 281.10L175.70 283.30L173.50 285.50L171.30 283.30Z" fill="#7EE6EC"/>
<text x="182.60" y="285.30" font-size="8.05" text-anchor="start" fill="#000">unlimited</text>
<line x1="119.80" y1="291.00" x2="125.50" y2="291.00" stroke="#A8DD8C" stroke-width="1.1"/>
<text x="131.50" y="292.80" font-size="8.05" text-anchor="start" fill="#000">pred. (approx.)</text>
<line x1="119.80" y1="298.60" x2="125.50" y2="298.60" stroke="#3A9A3A" stroke-width="1.3" stroke-dasharray="2.5 1.5"/>
<text x="131.50" y="300.40" font-size="8.05" text-anchor="start" fill="#000">pred. (exact)</text>
<text x="33.10" y="194.00" font-size="10.5" text-anchor="start" fill="#000" font-weight="bold">C</text>
<text x="8.00" y="253.50" font-size="9.6" text-anchor="middle" fill="#000" transform="rotate(-90 8.0 253.5)">Pr(sweep)</text>
<line x1="289.90" y1="197.40" x2="289.90" y2="310.20" stroke="#EBEBEB" stroke-width="0.55"/>
<line x1="329.30" y1="197.40" x2="329.30" y2="310.20" stroke="#EBEBEB" stroke-width="0.55"/>
<line x1="368.70" y1="197.40" x2="368.70" y2="310.20" stroke="#EBEBEB" stroke-width="0.55"/>
<line x1="408.10" y1="197.40" x2="408.10" y2="310.20" stroke="#EBEBEB" stroke-width="0.55"/>
<line x1="447.50" y1="197.40" x2="447.50" y2="310.20" stroke="#EBEBEB" stroke-width="0.55"/>
<line x1="261.40" y1="286.40" x2="453.30" y2="286.40" stroke="#EBEBEB" stroke-width="0.55"/>
<line x1="261.40" y1="248.40" x2="453.30" y2="248.40" stroke="#EBEBEB" stroke-width="0.55"/>
<line x1="261.40" y1="210.40" x2="453.30" y2="210.40" stroke="#EBEBEB" stroke-width="0.55"/>
<line x1="270.20" y1="197.40" x2="270.20" y2="310.20" stroke="#EBEBEB" stroke-width="1.0"/>
<line x1="309.60" y1="197.40" x2="309.60" y2="310.20" stroke="#EBEBEB" stroke-width="1.0"/>
<line x1="349.00" y1="197.40" x2="349.00" y2="310.20" stroke="#EBEBEB" stroke-width="1.0"/>
<line x1="388.40" y1="197.40" x2="388.40" y2="310.20" stroke="#EBEBEB" stroke-width="1.0"/>
<line x1="427.80" y1="197.40" x2="427.80" y2="310.20" stroke="#EBEBEB" stroke-width="1.0"/>
<line x1="261.40" y1="305.40" x2="453.30" y2="305.40" stroke="#EBEBEB" stroke-width="1.0"/>
<line x1="261.40" y1="267.40" x2="453.30" y2="267.40" stroke="#EBEBEB" stroke-width="1.0"/>
<line x1="261.40" y1="229.40" x2="453.30" y2="229.40" stroke="#EBEBEB" stroke-width="1.0"/>
<path d="M286.75 247.43L289.05 249.73L286.75 252.03L284.45 249.73Z" fill="#F0141E"/>
<path d="M294.63 255.79L296.93 258.09L294.63 260.39L292.33 258.09Z" fill="#F0141E"/>
<path d="M300.93 263.58L303.23 265.88L300.93 268.18L298.63 265.88Z" fill="#F0141E"/>
<path d="M432.53 287.33L434.83 289.63L432.53 291.93L430.23 289.63Z" fill="#F0141E"/>
<path d="M286.75 213.42L289.05 215.72L286.75 218.02L284.45 215.72Z" fill="#F99C1A"/>
<path d="M294.63 251.23L296.93 253.53L294.63 255.83L292.33 253.53Z" fill="#F99C1A"/>
<path d="M300.93 260.92L303.23 263.22L300.93 265.52L298.63 263.22Z" fill="#F99C1A"/>
<path d="M312.75 270.23L315.05 272.53L312.75 274.83L310.45 272.53Z" fill="#F99C1A"/>
<path d="M320.63 274.60L322.93 276.90L320.63 279.20L318.33 276.90Z" fill="#F99C1A"/>
<path d="M337.97 279.54L340.27 281.84L337.97 284.14L335.67 281.84Z" fill="#F99C1A"/>
<path d="M353.73 282.20L356.03 284.50L353.73 286.80L351.43 284.50Z" fill="#F99C1A"/>
<path d="M367.12 284.48L369.42 286.78L367.12 289.08L364.82 286.78Z" fill="#F99C1A"/>
<path d="M432.53 287.90L434.83 290.20L432.53 292.50L430.23 290.20Z" fill="#F99C1A"/>
<path d="M286.75 210.00L289.05 212.30L286.75 214.60L284.45 212.30Z" fill="#D8B0E0"/>
<path d="M294.63 249.90L296.93 252.20L294.63 254.50L292.33 252.20Z" fill="#D8B0E0"/>
<path d="M300.93 256.55L303.23 258.85L300.93 261.15L298.63 258.85Z" fill="#D8B0E0"/>
<path d="M312.75 267.38L315.05 269.68L312.75 271.98L310.45 269.68Z" fill="#D8B0E0"/>
<path d="M320.63 273.65L322.93 275.95L320.63 278.25L318.33 275.95Z" fill="#D8B0E0"/>
<path d="M337.97 278.78L340.27 281.08L337.97 283.38L335.67 281.08Z" fill="#D8B0E0"/>
<path d="M353.73 281.82L356.03 284.12L353.73 286.42L351.43 284.12Z" fill="#D8B0E0"/>
<path d="M367.12 284.48L369.42 286.78L367.12 289.08L364.82 286.78Z" fill="#D8B0E0"/>
<path d="M432.53 288.28L434.83 290.58L432.53 292.88L430.23 290.58Z" fill="#D8B0E0"/>
<path d="M286.75 201.45L289.05 203.75L286.75 206.05L284.45 203.75Z" fill="#7EE6EC"/>
<path d="M294.63 230.52L296.93 232.82L294.63 235.12L292.33 232.82Z" fill="#7EE6EC"/>
<path d="M300.93 242.49L303.23 244.79L300.93 247.09L298.63 244.79Z" fill="#7EE6EC"/>
<path d="M312.75 260.92L315.05 263.22L312.75 265.52L310.45 263.22Z" fill="#7EE6EC"/>
<path d="M320.63 268.90L322.93 271.20L320.63 273.50L318.33 271.20Z" fill="#7EE6EC"/>
<path d="M337.97 276.50L340.27 278.80L337.97 281.10L335.67 278.80Z" fill="#7EE6EC"/>
<path d="M353.73 281.63L356.03 283.93L353.73 286.23L351.43 283.93Z" fill="#7EE6EC"/>
<path d="M367.12 284.48L369.42 286.78L367.12 289.08L364.82 286.78Z" fill="#7EE6EC"/>
<path d="M432.53 288.85L434.83 291.15L432.53 293.45L430.23 291.15Z" fill="#7EE6EC"/>
<path d="M278.08 267.39L280.93 272.49L275.23 272.49Z" fill="#000"/>
<path d="M285.96 281.83L288.81 286.93L283.11 286.93Z" fill="#000"/>
<path d="M293.84 286.58L296.69 291.68L290.99 291.68Z" fill="#000"/>
<path d="M301.72 289.43L304.57 294.53L298.87 294.53Z" fill="#000"/>
<path d="M309.60 290.00L312.45 295.10L306.75 295.10Z" fill="#000"/>
<path d="M349.00 292.28L351.85 297.38L346.15 297.38Z" fill="#000"/>
<path d="M388.40 293.80L391.25 298.90L385.55 298.90Z" fill="#000"/>
<path d="M427.80 294.56L430.65 299.66L424.95 299.66Z" fill="#000"/>
<rect x="261.4" y="197.4" width="191.90" height="112.80" fill="none" stroke="#4D4D4D" stroke-width="0.9"/>
<line x1="258.70" y1="305.40" x2="261.40" y2="305.40" stroke="#333" stroke-width="0.9"/>
<text x="256.90" y="308.30" font-size="8" text-anchor="end" fill="#4D4D4D">0</text>
<line x1="258.70" y1="267.40" x2="261.40" y2="267.40" stroke="#333" stroke-width="0.9"/>
<text x="256.90" y="270.30" font-size="8" text-anchor="end" fill="#4D4D4D">200</text>
<line x1="258.70" y1="229.40" x2="261.40" y2="229.40" stroke="#333" stroke-width="0.9"/>
<text x="256.90" y="232.30" font-size="8" text-anchor="end" fill="#4D4D4D">400</text>
<line x1="270.20" y1="310.20" x2="270.20" y2="312.90" stroke="#333" stroke-width="0.9"/>
<text x="270.20" y="320.80" font-size="8" text-anchor="middle" fill="#4D4D4D">0.0</text>
<line x1="309.60" y1="310.20" x2="309.60" y2="312.90" stroke="#333" stroke-width="0.9"/>
<text x="309.60" y="320.80" font-size="8" text-anchor="middle" fill="#4D4D4D">0.5</text>
<line x1="349.00" y1="310.20" x2="349.00" y2="312.90" stroke="#333" stroke-width="0.9"/>
<text x="349.00" y="320.80" font-size="8" text-anchor="middle" fill="#4D4D4D">1.0</text>
<line x1="388.40" y1="310.20" x2="388.40" y2="312.90" stroke="#333" stroke-width="0.9"/>
<text x="388.40" y="320.80" font-size="8" text-anchor="middle" fill="#4D4D4D">1.5</text>
<line x1="427.80" y1="310.20" x2="427.80" y2="312.90" stroke="#333" stroke-width="0.9"/>
<text x="427.80" y="320.80" font-size="8" text-anchor="middle" fill="#4D4D4D">2.0</text>
<text x="261.40" y="194.00" font-size="10.5" text-anchor="start" fill="#000" font-weight="bold">D</text>
<text x="240.00" y="252.20" font-size="9.8" text-anchor="middle" fill="#000" transform="rotate(-90 240.0 252.2)">median radius at sweep</text>
<line x1="491.40" y1="307.50" x2="684.10" y2="307.50" stroke="#EBEBEB" stroke-width="0.8"/>
<line x1="491.40" y1="281.05" x2="684.10" y2="281.05" stroke="#EBEBEB" stroke-width="0.8"/>
<line x1="491.40" y1="254.60" x2="684.10" y2="254.60" stroke="#EBEBEB" stroke-width="0.8"/>
<line x1="491.40" y1="228.15" x2="684.10" y2="228.15" stroke="#EBEBEB" stroke-width="0.8"/>
<line x1="491.40" y1="201.70" x2="684.10" y2="201.70" stroke="#EBEBEB" stroke-width="0.8"/>
<line x1="491.40" y1="294.27" x2="684.10" y2="294.27" stroke="#EBEBEB" stroke-width="0.45"/>
<line x1="491.40" y1="267.82" x2="684.10" y2="267.82" stroke="#EBEBEB" stroke-width="0.45"/>
<line x1="491.40" y1="241.38" x2="684.10" y2="241.38" stroke="#EBEBEB" stroke-width="0.45"/>
<line x1="491.40" y1="214.93" x2="684.10" y2="214.93" stroke="#EBEBEB" stroke-width="0.45"/>
<line x1="501.10" y1="197.20" x2="501.10" y2="312.40" stroke="#EBEBEB" stroke-width="0.8"/>
<line x1="518.45" y1="197.20" x2="518.45" y2="312.40" stroke="#EBEBEB" stroke-width="0.8"/>
<line x1="535.80" y1="197.20" x2="535.80" y2="312.40" stroke="#EBEBEB" stroke-width="0.8"/>
<line x1="553.15" y1="197.20" x2="553.15" y2="312.40" stroke="#EBEBEB" stroke-width="0.8"/>
<line x1="570.50" y1="197.20" x2="570.50" y2="312.40" stroke="#EBEBEB" stroke-width="0.8"/>
<line x1="587.85" y1="197.20" x2="587.85" y2="312.40" stroke="#EBEBEB" stroke-width="0.8"/>
<line x1="605.20" y1="197.20" x2="605.20" y2="312.40" stroke="#EBEBEB" stroke-width="0.8"/>
<line x1="622.55" y1="197.20" x2="622.55" y2="312.40" stroke="#EBEBEB" stroke-width="0.8"/>
<line x1="639.90" y1="197.20" x2="639.90" y2="312.40" stroke="#EBEBEB" stroke-width="0.8"/>
<line x1="657.25" y1="197.20" x2="657.25" y2="312.40" stroke="#EBEBEB" stroke-width="0.8"/>
<line x1="674.60" y1="197.20" x2="674.60" y2="312.40" stroke="#EBEBEB" stroke-width="0.8"/>
<rect x="493.30" y="201.70" width="15.60" height="84.90" fill="#1F77B4"/>
<rect x="493.30" y="286.60" width="15.60" height="19.40" fill="#FF7F0E"/>
<rect x="493.30" y="306.00" width="15.60" height="1.50" fill="#2CA02C"/>
<rect x="510.65" y="201.70" width="15.60" height="57.50" fill="#1F77B4"/>
<rect x="510.65" y="259.20" width="15.60" height="36.90" fill="#FF7F0E"/>
<rect x="510.65" y="296.10" width="15.60" height="9.50" fill="#2CA02C"/>
<rect x="510.65" y="305.60" width="15.60" height="1.90" fill="#D62728"/>
<rect x="528.00" y="201.70" width="15.60" height="46.10" fill="#1F77B4"/>
<rect x="528.00" y="247.80" width="15.60" height="37.60" fill="#FF7F0E"/>
<rect x="528.00" y="285.40" width="15.60" height="15.00" fill="#2CA02C"/>
<rect x="528.00" y="300.40" width="15.60" height="5.40" fill="#D62728"/>
<rect x="528.00" y="305.80" width="15.60" height="1.70" fill="#9467BD"/>
<rect x="545.35" y="201.70" width="15.60" height="34.10" fill="#1F77B4"/>
<rect x="545.35" y="235.80" width="15.60" height="37.80" fill="#FF7F0E"/>
<rect x="545.35" y="273.60" width="15.60" height="22.40" fill="#2CA02C"/>
<rect x="545.35" y="296.00" width="15.60" height="8.50" fill="#D62728"/>
<rect x="545.35" y="304.50" width="15.60" height="3.00" fill="#9467BD"/>
<rect x="562.70" y="201.70" width="15.60" height="26.10" fill="#1F77B4"/>
<rect x="562.70" y="227.80" width="15.60" height="39.10" fill="#FF7F0E"/>
<rect x="562.70" y="266.90" width="15.60" height="24.40" fill="#2CA02C"/>
<rect x="562.70" y="291.30" width="15.60" height="12.20" fill="#D62728"/>
<rect x="562.70" y="303.50" width="15.60" height="4.00" fill="#9467BD"/>
<rect x="580.05" y="201.70" width="15.60" height="17.70" fill="#1F77B4"/>
<rect x="580.05" y="219.40" width="15.60" height="41.80" fill="#FF7F0E"/>
<rect x="580.05" y="261.20" width="15.60" height="29.10" fill="#2CA02C"/>
<rect x="580.05" y="290.30" width="15.60" height="13.00" fill="#D62728"/>
<rect x="580.05" y="303.30" width="15.60" height="4.20" fill="#9467BD"/>
<rect x="597.40" y="201.70" width="15.60" height="17.90" fill="#1F77B4"/>
<rect x="597.40" y="219.60" width="15.60" height="41.40" fill="#FF7F0E"/>
<rect x="597.40" y="261.00" width="15.60" height="31.80" fill="#2CA02C"/>
<rect x="597.40" y="292.80" width="15.60" height="10.80" fill="#D62728"/>
<rect x="597.40" y="303.60" width="15.60" height="3.90" fill="#9467BD"/>
<rect x="614.75" y="201.70" width="15.60" height="15.00" fill="#1F77B4"/>
<rect x="614.75" y="216.70" width="15.60" height="41.80" fill="#FF7F0E"/>
<rect x="614.75" y="258.50" width="15.60" height="36.10" fill="#2CA02C"/>
<rect x="614.75" y="294.60" width="15.60" height="9.40" fill="#D62728"/>
<rect x="614.75" y="304.00" width="15.60" height="3.50" fill="#9467BD"/>
<rect x="632.10" y="201.70" width="15.60" height="8.60" fill="#1F77B4"/>
<rect x="632.10" y="210.30" width="15.60" height="56.50" fill="#FF7F0E"/>
<rect x="632.10" y="266.80" width="15.60" height="36.50" fill="#2CA02C"/>
<rect x="632.10" y="303.30" width="15.60" height="3.00" fill="#D62728"/>
<rect x="632.10" y="306.30" width="15.60" height="1.20" fill="#9467BD"/>
<rect x="649.45" y="201.70" width="15.60" height="9.40" fill="#1F77B4"/>
<rect x="649.45" y="211.10" width="15.60" height="60.90" fill="#FF7F0E"/>
<rect x="649.45" y="272.00" width="15.60" height="33.60" fill="#2CA02C"/>
<rect x="649.45" y="305.60" width="15.60" height="1.90" fill="#D62728"/>
<rect x="666.80" y="201.70" width="15.60" height="7.60" fill="#1F77B4"/>
<rect x="666.80" y="209.30" width="15.60" height="67.40" fill="#FF7F0E"/>
<rect x="666.80" y="276.70" width="15.60" height="29.40" fill="#2CA02C"/>
<rect x="666.80" y="306.10" width="15.60" height="1.40" fill="#D62728"/>
<rect x="491.4" y="197.2" width="192.70" height="115.20" fill="none" stroke="#4D4D4D" stroke-width="0.9"/>
<line x1="489.20" y1="307.50" x2="491.40" y2="307.50" stroke="#333" stroke-width="0.8"/>
<text x="486.00" y="309.40" font-size="5.2" text-anchor="end" fill="#4D4D4D">0.00</text>
<line x1="489.20" y1="281.05" x2="491.40" y2="281.05" stroke="#333" stroke-width="0.8"/>
<text x="486.00" y="282.95" font-size="5.2" text-anchor="end" fill="#4D4D4D">0.25</text>
<line x1="489.20" y1="254.60" x2="491.40" y2="254.60" stroke="#333" stroke-width="0.8"/>
<text x="486.00" y="256.50" font-size="5.2" text-anchor="end" fill="#4D4D4D">0.50</text>
<line x1="489.20" y1="228.15" x2="491.40" y2="228.15" stroke="#333" stroke-width="0.8"/>
<text x="486.00" y="230.05" font-size="5.2" text-anchor="end" fill="#4D4D4D">0.75</text>
<line x1="489.20" y1="201.70" x2="491.40" y2="201.70" stroke="#333" stroke-width="0.8"/>
<text x="486.00" y="203.60" font-size="5.2" text-anchor="end" fill="#4D4D4D">1.00</text>
<line x1="501.10" y1="312.40" x2="501.10" y2="314.60" stroke="#333" stroke-width="0.8"/>
<text x="501.10" y="321.20" font-size="5.4" text-anchor="middle" fill="#4D4D4D">0.21</text>
<line x1="518.45" y1="312.40" x2="518.45" y2="314.60" stroke="#333" stroke-width="0.8"/>
<text x="518.45" y="321.20" font-size="5.4" text-anchor="middle" fill="#4D4D4D">0.31</text>
<line x1="535.80" y1="312.40" x2="535.80" y2="314.60" stroke="#333" stroke-width="0.8"/>
<text x="535.80" y="321.20" font-size="5.4" text-anchor="middle" fill="#4D4D4D">0.39</text>
<line x1="553.15" y1="312.40" x2="553.15" y2="314.60" stroke="#333" stroke-width="0.8"/>
<text x="553.15" y="321.20" font-size="5.4" text-anchor="middle" fill="#4D4D4D">0.54</text>
<line x1="570.50" y1="312.40" x2="570.50" y2="314.60" stroke="#333" stroke-width="0.8"/>
<text x="570.50" y="321.20" font-size="5.4" text-anchor="middle" fill="#4D4D4D">0.64</text>
<line x1="587.85" y1="312.40" x2="587.85" y2="314.60" stroke="#333" stroke-width="0.8"/>
<text x="587.85" y="321.20" font-size="5.4" text-anchor="middle" fill="#4D4D4D">0.86</text>
<line x1="605.20" y1="312.40" x2="605.20" y2="314.60" stroke="#333" stroke-width="0.8"/>
<text x="605.20" y="321.20" font-size="5.4" text-anchor="middle" fill="#4D4D4D">1.06</text>
<line x1="622.55" y1="312.40" x2="622.55" y2="314.60" stroke="#333" stroke-width="0.8"/>
<text x="622.55" y="321.20" font-size="5.4" text-anchor="middle" fill="#4D4D4D">1.23</text>
<line x1="639.90" y1="312.40" x2="639.90" y2="314.60" stroke="#333" stroke-width="0.8"/>
<text x="639.90" y="321.20" font-size="5.4" text-anchor="middle" fill="#4D4D4D">2.06</text>
<line x1="657.25" y1="312.40" x2="657.25" y2="314.60" stroke="#333" stroke-width="0.8"/>
<text x="657.25" y="321.20" font-size="5.4" text-anchor="middle" fill="#4D4D4D">2.82</text>
<line x1="674.60" y1="312.40" x2="674.60" y2="314.60" stroke="#333" stroke-width="0.8"/>
<text x="674.60" y="321.20" font-size="5.4" text-anchor="middle" fill="#4D4D4D">3.53</text>
<rect x="500.70" y="206.20" width="18.60" height="46.20" fill="#fff"/>
<rect x="502.60" y="207.70" width="5.60" height="5.80" fill="#1F77B4"/>
<text x="514.00" y="213.30" font-size="7.6" text-anchor="start" fill="#000">0</text>
<rect x="502.60" y="215.05" width="5.60" height="5.80" fill="#FF7F0E"/>
<text x="514.00" y="220.65" font-size="7.6" text-anchor="start" fill="#000">1</text>
<rect x="502.60" y="222.40" width="5.60" height="5.80" fill="#2CA02C"/>
<text x="514.00" y="228.00" font-size="7.6" text-anchor="start" fill="#000">2</text>
<rect x="502.60" y="229.75" width="5.60" height="5.80" fill="#D62728"/>
<text x="514.00" y="235.35" font-size="7.6" text-anchor="start" fill="#000">3</text>
<rect x="502.60" y="237.10" width="5.60" height="5.80" fill="#9467BD"/>
<text x="514.00" y="242.70" font-size="7.6" text-anchor="start" fill="#000">4</text>
<rect x="502.60" y="244.45" width="5.60" height="5.80" fill="#8C564B"/>
<text x="514.00" y="250.05" font-size="7.6" text-anchor="start" fill="#000">5</text>
<text x="491.60" y="194.10" font-size="10.5" text-anchor="start" fill="#000" font-weight="bold">E</text>
<text x="472.20" y="255.00" font-size="9.8" text-anchor="middle" fill="#000" transform="rotate(-90 472.2 255.0)">proportion</text>
<text x="44.50" y="333.0" font-size="10.1" fill="#000">mean effect of surviving mutations,</text>
<text x="203.20" y="333.3" font-size="11.6" font-style="italic" fill="#000">s</text>
<path d="M204.10 327.0 C205.00 325.0, 206.10 325.0, 207.10 326.0 S209.10 325.6, 210.10 324.4" fill="none" stroke="#000" stroke-width="0.85"/>
<text x="275.10" y="333.0" font-size="10.1" fill="#000">mean effect of surviving mutations,</text>
<text x="433.80" y="333.3" font-size="11.6" font-style="italic" fill="#000">s</text>
<path d="M434.70 327.0 C435.60 325.0, 436.70 325.0, 437.70 326.0 S439.70 325.6, 440.70 324.4" fill="none" stroke="#000" stroke-width="0.85"/>
<text x="505.10" y="333.0" font-size="10.1" fill="#000">mean effect of surviving mutations,</text>
<text x="663.80" y="333.3" font-size="11.6" font-style="italic" fill="#000">s</text>
<path d="M664.70 327.0 C665.60 325.0, 666.70 325.0, 667.70 326.0 S669.70 325.6, 670.70 324.4" fill="none" stroke="#000" stroke-width="0.85"/>
</svg>
</body></html>
